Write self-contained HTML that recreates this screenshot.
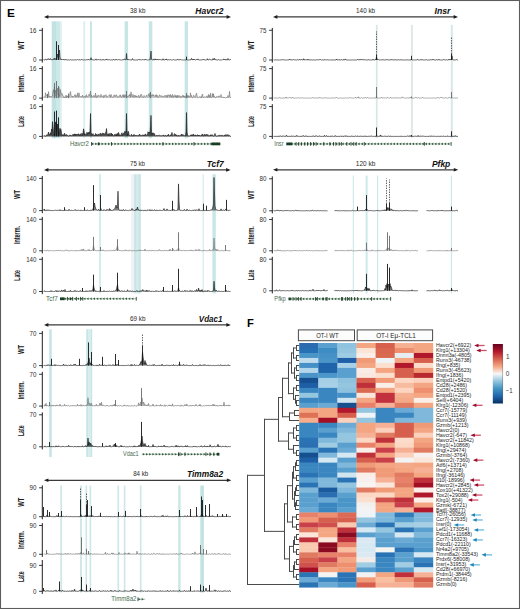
<!DOCTYPE html>
<html><head><meta charset="utf-8"><style>
html,body{margin:0;padding:0;background:#fff;}
body{width:520px;height:609px;overflow:hidden;font-family:"Liberation Sans", sans-serif;}
svg{display:block;}
</style></head><body>
<svg width="520" height="609" viewBox="0 0 520 609" font-family='"Liberation Sans", sans-serif'>
<rect x="0" y="0" width="520" height="609" fill="#fff"/>
<rect x="51.7" y="21.3" width="4.3" height="116.9" fill="#c2e2e2"/>
<rect x="56" y="21.3" width="4.6" height="116.9" fill="#cce8e8"/>
<rect x="60.6" y="21.3" width="1.2" height="116.9" fill="#dcefef"/>
<rect x="83.3" y="21.3" width="1.9" height="116.9" fill="#dcefef"/>
<rect x="90" y="21.3" width="1.9" height="116.9" fill="#c7e5e5"/>
<rect x="124.6" y="21.3" width="3.5" height="116.9" fill="#c7e5e5"/>
<rect x="148.8" y="21.3" width="3.5" height="116.9" fill="#c7e5e5"/>
<rect x="184.7" y="21.3" width="3.2" height="116.9" fill="#c7e5e5"/>
<line x1="46" y1="16.9" x2="229" y2="16.9" stroke="#3a3a3a" stroke-width="1.15"/>
<path d="M44 16.9L48.4 15.1L48.4 18.7Z" fill="#1e1e1e"/>
<path d="M231 16.9L226.6 15.1L226.6 18.7Z" fill="#1e1e1e"/>
<text x="130" y="12.9" font-size="6.9" fill="#2a2a2a" textLength="15.4" lengthAdjust="spacingAndGlyphs">38 kb</text>
<text x="195.3" y="13.7" font-size="8.4" font-weight="bold" font-style="italic" fill="#111" textLength="28.3" lengthAdjust="spacingAndGlyphs">Havcr2</text>
<line x1="42.3" y1="27.9" x2="42.3" y2="62.6" stroke="#1e1e1e" stroke-width="1.0"/>
<line x1="39.1" y1="30.3" x2="42.3" y2="30.3" stroke="#1e1e1e" stroke-width="0.9"/>
<line x1="39.1" y1="60" x2="42.3" y2="60" stroke="#1e1e1e" stroke-width="0.9"/>
<text x="29.6" y="32.6" font-size="6.6" fill="#2e2e2e" textLength="6.9" lengthAdjust="spacingAndGlyphs">16</text>
<text x="33.05" y="62.3" font-size="6.6" fill="#2e2e2e" textLength="3.45" lengthAdjust="spacingAndGlyphs">0</text>
<text x="-49.7" y="23.62" font-size="8.4" font-weight="bold" fill="#1a1a1a" textLength="9.1" lengthAdjust="spacingAndGlyphs" transform="rotate(-90)">WT</text>
<line x1="42.3" y1="66.2" x2="42.3" y2="100.7" stroke="#1e1e1e" stroke-width="1.0"/>
<line x1="39.1" y1="68.6" x2="42.3" y2="68.6" stroke="#1e1e1e" stroke-width="0.9"/>
<line x1="39.1" y1="98.1" x2="42.3" y2="98.1" stroke="#1e1e1e" stroke-width="0.9"/>
<text x="29.6" y="70.9" font-size="6.6" fill="#2e2e2e" textLength="6.9" lengthAdjust="spacingAndGlyphs">16</text>
<text x="33.05" y="100.4" font-size="6.6" fill="#2e2e2e" textLength="3.45" lengthAdjust="spacingAndGlyphs">0</text>
<text x="-92.35" y="23.62" font-size="8.4" font-weight="bold" fill="#1a1a1a" textLength="18" lengthAdjust="spacingAndGlyphs" transform="rotate(-90)">Interm.</text>
<line x1="42.3" y1="104.2" x2="42.3" y2="139" stroke="#1e1e1e" stroke-width="1.0"/>
<line x1="39.1" y1="106.6" x2="42.3" y2="106.6" stroke="#1e1e1e" stroke-width="0.9"/>
<line x1="39.1" y1="136.4" x2="42.3" y2="136.4" stroke="#1e1e1e" stroke-width="0.9"/>
<text x="29.6" y="108.9" font-size="6.6" fill="#2e2e2e" textLength="6.9" lengthAdjust="spacingAndGlyphs">16</text>
<text x="33.05" y="138.7" font-size="6.6" fill="#2e2e2e" textLength="3.45" lengthAdjust="spacingAndGlyphs">0</text>
<text x="-126.8" y="23.62" font-size="8.4" font-weight="bold" fill="#1a1a1a" textLength="10.6" lengthAdjust="spacingAndGlyphs" transform="rotate(-90)">Late</text>
<path d="M43.5 60L43.5 59.83L44 59.5L44.5 59.97L45 59.78L45.5 59.08L46 59.41L46.5 59.86L47 59.65L47.5 58.99L48 59.46L48.5 58.76L49 59L49.5 59.28L50 59.55L50.5 58.55L51 59.18L51.5 59.67L52 59.67L52.5 59.68L53 59.29L53.5 58.86L54 59.64L54.5 58.22L55 59.19L55.5 58.94L56 58.94L56.5 57.76L57 56.61L57.5 54L58 57.45L58.5 57.66L59 54.2L59.5 50L60 57.2L60.5 58.87L61 59.55L61.5 59.5L62 59.39L62.5 59.97L63 59.41L63.5 60L64 59.27L64.5 60L65 60L65.5 59.67L66 59.24L66.5 59.98L67 59.97L67.5 60L68 59.59L68.5 59.83L69 59.91L69.5 60L70 60L70.5 59.72L71 60L71.5 60L72 59.83L72.5 59.91L73 60L73.5 60L74 59.64L74.5 59.91L75 59.61L75.5 59.81L76 60L76.5 60L77 60L77.5 59.53L78 60L78.5 60L79 59.44L79.5 59.88L80 60L80.5 60L81 59.94L81.5 59.53L82 59.59L82.5 59.75L83 60L83.5 60L84 59.93L84.5 59.78L85 60L85.5 60L86 59.99L86.5 59.75L87 59.72L87.5 59.72L88 60L88.5 59.24L89 59.85L89.5 59.95L90 59.92L90.5 59.57L91 57.7L91.5 59.57L92 59.48L92.5 59.75L93 59.83L93.5 60L94 59.7L94.5 60L95 60L95.5 59.79L96 58.88L96.5 60L97 59.94L97.5 59.73L98 59.93L98.5 59.58L99 60L99.5 60L100 59.36L100.5 59.78L101 59.97L101.5 59.97L102 59.9L102.5 60L103 59.29L103.5 60L104 60L104.5 60L105 60L105.5 59.7L106 59.85L106.5 58.96L107 60L107.5 59.98L108 59.46L108.5 60L109 60L109.5 59.71L110 59.93L110.5 60L111 59.92L111.5 59.84L112 59.93L112.5 60L113 60L113.5 59.31L114 60L114.5 60L115 60L115.5 59.98L116 59.09L116.5 59.63L117 59.91L117.5 59.95L118 59.95L118.5 59.63L119 60L119.5 59.7L120 59.79L120.5 60L121 60L121.5 60L122 59.93L122.5 60L123 59.41L123.5 60L124 59.89L124.5 58.94L125 59.31L125.5 59.77L126 58.77L126.5 53.5L127 58.77L127.5 59.77L128 59.08L128.5 59.69L129 60L129.5 59.82L130 60L130.5 59.86L131 60L131.5 60L132 60L132.5 58.57L133 59.68L133.5 60L134 60L134.5 59.98L135 59.89L135.5 60L136 59.64L136.5 60L137 59.95L137.5 60L138 59.65L138.5 59.04L139 59.58L139.5 59.96L140 59.42L140.5 59.94L141 59.93L141.5 59.95L142 60L142.5 59.55L143 59.62L143.5 60L144 59.45L144.5 59.81L145 59.86L145.5 59.47L146 59.31L146.5 60L147 60L147.5 60L148 60L148.5 59.99L149 59.95L149.5 59.78L150 59.08L150.5 56.18L151 51L151.5 58.78L152 59.71L152.5 59.93L153 59.98L153.5 59.92L154 58.84L154.5 60L155 59.95L155.5 58.98L156 59.07L156.5 59.87L157 60L157.5 59.13L158 60L158.5 59.78L159 59.56L159.5 59.55L160 59.9L160.5 59.62L161 60L161.5 59.98L162 59.88L162.5 60L163 58.7L163.5 59.8L164 59.53L164.5 60L165 60L165.5 59.37L166 60L166.5 58.86L167 60L167.5 60L168 60L168.5 59.69L169 59.64L169.5 59.92L170 59.64L170.5 59.63L171 60L171.5 60L172 60L172.5 60L173 60L173.5 59.52L174 60L174.5 60L175 59.72L175.5 60L176 60L176.5 60L177 60L177.5 59.41L178 59.22L178.5 60L179 59.85L179.5 59.78L180 59.61L180.5 59.64L181 59.49L181.5 60L182 60L182.5 60L183 60L183.5 60L184 60L184.5 60L185 59.96L185.5 59.97L186 59.73L186.5 59.6L187 59.89L187.5 59.95L188 59.64L188.5 60L189 60L189.5 59.83L190 59.77L190.5 59.87L191 59.88L191.5 58.4L192 58.81L192.5 59.86L193 59.9L193.5 59L194 60L194.5 59.36L195 60L195.5 60L196 60L196.5 59.57L197 59.76L197.5 59.24L198 58.87L198.5 60L199 60L199.5 60L200 60L200.5 60L201 59.54L201.5 59.91L202 59.79L202.5 59.73L203 59.8L203.5 59.2L204 60L204.5 59.81L205 60L205.5 60L206 59.88L206.5 59.97L207 59.94L207.5 58.67L208 60L208.5 59.94L209 59.64L209.5 59.29L210 59.55L210.5 59.76L211 60L211.5 59.95L212 60L212.5 60L213 58.55L213.5 59.68L214 58.86L214.5 58.35L215 60L215.5 59.64L216 59.79L216.5 59.87L217 59.74L217.5 60L218 59.95L218.5 59.59L219 60L219.5 60L220 60L220.5 60L221 59.93L221.5 59.95L222 60L222.5 60L223 59.5L223.5 59.08L224 60L224.5 59.35L225 59.98L225.5 59.96L226 59.11L226.5 60L227 59.99L227.5 59.98L228 58.47L228.5 59.78L229 60L229.5 59.91L230 60L230.5 59.46L231 60L231 60Z" fill="#151515" fill-opacity="0.4"/>
<path d="M43.5 59.83L44 59.5L44.5 59.97L45 59.78L45.5 59.08L46 59.41L46.5 59.86L47 59.65L47.5 58.99L48 59.46L48.5 58.76L49 59L49.5 59.28L50 59.55L50.5 58.55L51 59.18L51.5 59.67L52 59.67L52.5 59.68L53 59.29L53.5 58.86L54 59.64L54.5 58.22L55 59.19L55.5 58.94L56 58.94L56.5 57.76L57 56.61L57.5 54L58 57.45L58.5 57.66L59 54.2L59.5 50L60 57.2L60.5 58.87L61 59.55L61.5 59.5L62 59.39L62.5 59.97L63 59.41L63.5 60L64 59.27L64.5 60L65 60L65.5 59.67L66 59.24L66.5 59.98L67 59.97L67.5 60L68 59.59L68.5 59.83L69 59.91L69.5 60L70 60L70.5 59.72L71 60L71.5 60L72 59.83L72.5 59.91L73 60L73.5 60L74 59.64L74.5 59.91L75 59.61L75.5 59.81L76 60L76.5 60L77 60L77.5 59.53L78 60L78.5 60L79 59.44L79.5 59.88L80 60L80.5 60L81 59.94L81.5 59.53L82 59.59L82.5 59.75L83 60L83.5 60L84 59.93L84.5 59.78L85 60L85.5 60L86 59.99L86.5 59.75L87 59.72L87.5 59.72L88 60L88.5 59.24L89 59.85L89.5 59.95L90 59.92L90.5 59.57L91 57.7L91.5 59.57L92 59.48L92.5 59.75L93 59.83L93.5 60L94 59.7L94.5 60L95 60L95.5 59.79L96 58.88L96.5 60L97 59.94L97.5 59.73L98 59.93L98.5 59.58L99 60L99.5 60L100 59.36L100.5 59.78L101 59.97L101.5 59.97L102 59.9L102.5 60L103 59.29L103.5 60L104 60L104.5 60L105 60L105.5 59.7L106 59.85L106.5 58.96L107 60L107.5 59.98L108 59.46L108.5 60L109 60L109.5 59.71L110 59.93L110.5 60L111 59.92L111.5 59.84L112 59.93L112.5 60L113 60L113.5 59.31L114 60L114.5 60L115 60L115.5 59.98L116 59.09L116.5 59.63L117 59.91L117.5 59.95L118 59.95L118.5 59.63L119 60L119.5 59.7L120 59.79L120.5 60L121 60L121.5 60L122 59.93L122.5 60L123 59.41L123.5 60L124 59.89L124.5 58.94L125 59.31L125.5 59.77L126 58.77L126.5 53.5L127 58.77L127.5 59.77L128 59.08L128.5 59.69L129 60L129.5 59.82L130 60L130.5 59.86L131 60L131.5 60L132 60L132.5 58.57L133 59.68L133.5 60L134 60L134.5 59.98L135 59.89L135.5 60L136 59.64L136.5 60L137 59.95L137.5 60L138 59.65L138.5 59.04L139 59.58L139.5 59.96L140 59.42L140.5 59.94L141 59.93L141.5 59.95L142 60L142.5 59.55L143 59.62L143.5 60L144 59.45L144.5 59.81L145 59.86L145.5 59.47L146 59.31L146.5 60L147 60L147.5 60L148 60L148.5 59.99L149 59.95L149.5 59.78L150 59.08L150.5 56.18L151 51L151.5 58.78L152 59.71L152.5 59.93L153 59.98L153.5 59.92L154 58.84L154.5 60L155 59.95L155.5 58.98L156 59.07L156.5 59.87L157 60L157.5 59.13L158 60L158.5 59.78L159 59.56L159.5 59.55L160 59.9L160.5 59.62L161 60L161.5 59.98L162 59.88L162.5 60L163 58.7L163.5 59.8L164 59.53L164.5 60L165 60L165.5 59.37L166 60L166.5 58.86L167 60L167.5 60L168 60L168.5 59.69L169 59.64L169.5 59.92L170 59.64L170.5 59.63L171 60L171.5 60L172 60L172.5 60L173 60L173.5 59.52L174 60L174.5 60L175 59.72L175.5 60L176 60L176.5 60L177 60L177.5 59.41L178 59.22L178.5 60L179 59.85L179.5 59.78L180 59.61L180.5 59.64L181 59.49L181.5 60L182 60L182.5 60L183 60L183.5 60L184 60L184.5 60L185 59.96L185.5 59.97L186 59.73L186.5 59.6L187 59.89L187.5 59.95L188 59.64L188.5 60L189 60L189.5 59.83L190 59.77L190.5 59.87L191 59.88L191.5 58.4L192 58.81L192.5 59.86L193 59.9L193.5 59L194 60L194.5 59.36L195 60L195.5 60L196 60L196.5 59.57L197 59.76L197.5 59.24L198 58.87L198.5 60L199 60L199.5 60L200 60L200.5 60L201 59.54L201.5 59.91L202 59.79L202.5 59.73L203 59.8L203.5 59.2L204 60L204.5 59.81L205 60L205.5 60L206 59.88L206.5 59.97L207 59.94L207.5 58.67L208 60L208.5 59.94L209 59.64L209.5 59.29L210 59.55L210.5 59.76L211 60L211.5 59.95L212 60L212.5 60L213 58.55L213.5 59.68L214 58.86L214.5 58.35L215 60L215.5 59.64L216 59.79L216.5 59.87L217 59.74L217.5 60L218 59.95L218.5 59.59L219 60L219.5 60L220 60L220.5 60L221 59.93L221.5 59.95L222 60L222.5 60L223 59.5L223.5 59.08L224 60L224.5 59.35L225 59.98L225.5 59.96L226 59.11L226.5 60L227 59.99L227.5 59.98L228 58.47L228.5 59.78L229 60L229.5 59.91L230 60L230.5 59.46L231 60" fill="none" stroke="#151515" stroke-width="0.62" stroke-linejoin="round"/>
<path d="M56.5 60V41.3M58.5 60V45M186.5 60V56.7" stroke="#151515" stroke-width="0.9"/>
<path d="M43.5 98.1L43.5 97.02L44 97.16L44.5 96.79L45 97.39L45.5 92.78L46 94.97L46.5 95.18L47 95.8L47.5 94.13L48 97.33L48.5 91.62L49 95.65L49.5 97.03L50 96.05L50.5 96.75L51 96.47L51.5 96.5L52 95.77L52.5 95.48L53 91.83L53.5 89.71L54 92.66L54.5 86.02L55 96.27L55.5 90.29L56 92.37L56.5 90.86L57 91L57.5 88.23L58 94.91L58.5 95.26L59 87.43L59.5 96.55L60 94.92L60.5 89.5L61 93.43L61.5 94.38L62 93.31L62.5 95.71L63 95.43L63.5 96.35L64 97.86L64.5 96.98L65 96.84L65.5 97.63L66 94.98L66.5 97.58L67 95.94L67.5 96.95L68 95.7L68.5 97.69L69 97.31L69.5 96.8L70 92.79L70.5 91.48L71 95.28L71.5 95.76L72 96.79L72.5 95.93L73 97.25L73.5 96.45L74 96.52L74.5 96.05L75 94.54L75.5 96.8L76 95.31L76.5 96.65L77 96.75L77.5 92.9L78 96.14L78.5 97.1L79 92.77L79.5 96.35L80 96.57L80.5 96.56L81 97.13L81.5 96.38L82 97.02L82.5 95.05L83 97.1L83.5 97.15L84 97.11L84.5 95.97L85 96.48L85.5 97.42L86 95.05L86.5 94.68L87 97.12L87.5 96.4L88 96.88L88.5 95.75L89 94.27L89.5 95.59L90 94.03L90.5 91L91 96.98L91.5 95.02L92 97.06L92.5 97.18L93 96.99L93.5 95.76L94 95.32L94.5 97.12L95 96.96L95.5 93.03L96 97.24L96.5 97.71L97 95.56L97.5 96.96L98 95.8L98.5 94.9L99 95.4L99.5 96.18L100 97.03L100.5 96.52L101 94.28L101.5 96.99L102 96.42L102.5 96.21L103 96.33L103.5 97.65L104 94.98L104.5 96.66L105 96.38L105.5 95.84L106 94.59L106.5 97.2L107 96.54L107.5 96.67L108 96.44L108.5 95.86L109 95.09L109.5 94.84L110 94.99L110.5 97.48L111 94.45L111.5 95.55L112 97.01L112.5 97.62L113 96.64L113.5 96.78L114 94.79L114.5 95.14L115 96.81L115.5 96.4L116 94.63L116.5 94.98L117 96.74L117.5 96.71L118 97.48L118.5 96.3L119 95.8L119.5 95.59L120 96.7L120.5 94.75L121 96.66L121.5 97.63L122 96L122.5 96L123 94.69L123.5 97.26L124 94.5L124.5 97.19L125 95.45L125.5 96.22L126 94.71L126.5 95.7L127 96.3L127.5 96.29L128 97.13L128.5 96.24L129 95.02L129.5 95.61L130 93.92L130.5 97.38L131 91.88L131.5 94.69L132 96.34L132.5 97L133 94.33L133.5 96.55L134 97.57L134.5 95.55L135 95.02L135.5 96.93L136 95.63L136.5 97.11L137 96.3L137.5 97.23L138 96.45L138.5 95.27L139 96.76L139.5 97.67L140 95.63L140.5 96.44L141 93.99L141.5 95.01L142 95.79L142.5 97.36L143 96.98L143.5 97.51L144 95.49L144.5 96.07L145 96.38L145.5 97.4L146 96.69L146.5 95.16L147 95.5L147.5 96.08L148 95.71L148.5 93.77L149 94.53L149.5 96.79L150 92.8L150.5 96.33L151 95.51L151.5 96.18L152 94.58L152.5 94.84L153 96.05L153.5 94.61L154 95.79L154.5 96.19L155 95.55L155.5 95.12L156 96.97L156.5 94.58L157 96.24L157.5 95.62L158 97.6L158.5 96.81L159 96.36L159.5 94.75L160 96.44L160.5 96.23L161 95.44L161.5 96.65L162 97.08L162.5 96L163 95.88L163.5 96.91L164 97.18L164.5 97.11L165 95.04L165.5 96.26L166 97.38L166.5 97L167 94.8L167.5 97.33L168 95.12L168.5 95.11L169 94.64L169.5 94.97L170 97.27L170.5 94.53L171 95.22L171.5 97.36L172 95.41L172.5 94.43L173 97.56L173.5 95.76L174 96.62L174.5 96.33L175 94.76L175.5 97.11L176 95.76L176.5 97.51L177 95.31L177.5 97.7L178 95.17L178.5 96.49L179 96.68L179.5 95.64L180 97.62L180.5 97.55L181 95.94L181.5 96.77L182 96.29L182.5 95.38L183 97.19L183.5 95.47L184 97.07L184.5 95.88L185 97.69L185.5 97.67L186 95.75L186.5 95.25L187 95.19L187.5 97.3L188 95.19L188.5 97.37L189 96.26L189.5 96.98L190 97.28L190.5 92.85L191 96.72L191.5 95.46L192 97.41L192.5 97.69L193 97.66L193.5 95.4L194 95.48L194.5 96.55L195 97.41L195.5 96.44L196 94.46L196.5 93.19L197 95.27L197.5 97.66L198 97.79L198.5 97.37L199 96.81L199.5 96.68L200 97.46L200.5 97.54L201 96.4L201.5 97.62L202 94.78L202.5 94L203 97.49L203.5 97.31L204 97.36L204.5 96.66L205 97.14L205.5 97.04L206 97.5L206.5 97.2L207 95.81L207.5 97.7L208 96.84L208.5 94.33L209 97.4L209.5 95.3L210 97.67L210.5 93.12L211 96.6L211.5 97.42L212 97.05L212.5 93.52L213 97.02L213.5 93.72L214 97.21L214.5 96.28L215 97.43L215.5 97.86L216 96.89L216.5 96.64L217 96.86L217.5 96.44L218 96.76L218.5 96.99L219 95.75L219.5 96.64L220 96.47L220.5 96.56L221 94.52L221.5 96.36L222 97.88L222.5 97.57L223 96.91L223.5 97.09L224 97.7L224.5 97.06L225 97.83L225.5 97.92L226 97.82L226.5 97.23L227 97.8L227.5 96.67L228 95.43L228.5 97.43L229 96.81L229.5 91.28L230 96.92L230.5 97.51L231 96.89L231 98.1Z" fill="#6a6a6a" fill-opacity="0.35"/>
<path d="M43.5 97.02L44 97.16L44.5 96.79L45 97.39L45.5 92.78L46 94.97L46.5 95.18L47 95.8L47.5 94.13L48 97.33L48.5 91.62L49 95.65L49.5 97.03L50 96.05L50.5 96.75L51 96.47L51.5 96.5L52 95.77L52.5 95.48L53 91.83L53.5 89.71L54 92.66L54.5 86.02L55 96.27L55.5 90.29L56 92.37L56.5 90.86L57 91L57.5 88.23L58 94.91L58.5 95.26L59 87.43L59.5 96.55L60 94.92L60.5 89.5L61 93.43L61.5 94.38L62 93.31L62.5 95.71L63 95.43L63.5 96.35L64 97.86L64.5 96.98L65 96.84L65.5 97.63L66 94.98L66.5 97.58L67 95.94L67.5 96.95L68 95.7L68.5 97.69L69 97.31L69.5 96.8L70 92.79L70.5 91.48L71 95.28L71.5 95.76L72 96.79L72.5 95.93L73 97.25L73.5 96.45L74 96.52L74.5 96.05L75 94.54L75.5 96.8L76 95.31L76.5 96.65L77 96.75L77.5 92.9L78 96.14L78.5 97.1L79 92.77L79.5 96.35L80 96.57L80.5 96.56L81 97.13L81.5 96.38L82 97.02L82.5 95.05L83 97.1L83.5 97.15L84 97.11L84.5 95.97L85 96.48L85.5 97.42L86 95.05L86.5 94.68L87 97.12L87.5 96.4L88 96.88L88.5 95.75L89 94.27L89.5 95.59L90 94.03L90.5 91L91 96.98L91.5 95.02L92 97.06L92.5 97.18L93 96.99L93.5 95.76L94 95.32L94.5 97.12L95 96.96L95.5 93.03L96 97.24L96.5 97.71L97 95.56L97.5 96.96L98 95.8L98.5 94.9L99 95.4L99.5 96.18L100 97.03L100.5 96.52L101 94.28L101.5 96.99L102 96.42L102.5 96.21L103 96.33L103.5 97.65L104 94.98L104.5 96.66L105 96.38L105.5 95.84L106 94.59L106.5 97.2L107 96.54L107.5 96.67L108 96.44L108.5 95.86L109 95.09L109.5 94.84L110 94.99L110.5 97.48L111 94.45L111.5 95.55L112 97.01L112.5 97.62L113 96.64L113.5 96.78L114 94.79L114.5 95.14L115 96.81L115.5 96.4L116 94.63L116.5 94.98L117 96.74L117.5 96.71L118 97.48L118.5 96.3L119 95.8L119.5 95.59L120 96.7L120.5 94.75L121 96.66L121.5 97.63L122 96L122.5 96L123 94.69L123.5 97.26L124 94.5L124.5 97.19L125 95.45L125.5 96.22L126 94.71L126.5 95.7L127 96.3L127.5 96.29L128 97.13L128.5 96.24L129 95.02L129.5 95.61L130 93.92L130.5 97.38L131 91.88L131.5 94.69L132 96.34L132.5 97L133 94.33L133.5 96.55L134 97.57L134.5 95.55L135 95.02L135.5 96.93L136 95.63L136.5 97.11L137 96.3L137.5 97.23L138 96.45L138.5 95.27L139 96.76L139.5 97.67L140 95.63L140.5 96.44L141 93.99L141.5 95.01L142 95.79L142.5 97.36L143 96.98L143.5 97.51L144 95.49L144.5 96.07L145 96.38L145.5 97.4L146 96.69L146.5 95.16L147 95.5L147.5 96.08L148 95.71L148.5 93.77L149 94.53L149.5 96.79L150 92.8L150.5 96.33L151 95.51L151.5 96.18L152 94.58L152.5 94.84L153 96.05L153.5 94.61L154 95.79L154.5 96.19L155 95.55L155.5 95.12L156 96.97L156.5 94.58L157 96.24L157.5 95.62L158 97.6L158.5 96.81L159 96.36L159.5 94.75L160 96.44L160.5 96.23L161 95.44L161.5 96.65L162 97.08L162.5 96L163 95.88L163.5 96.91L164 97.18L164.5 97.11L165 95.04L165.5 96.26L166 97.38L166.5 97L167 94.8L167.5 97.33L168 95.12L168.5 95.11L169 94.64L169.5 94.97L170 97.27L170.5 94.53L171 95.22L171.5 97.36L172 95.41L172.5 94.43L173 97.56L173.5 95.76L174 96.62L174.5 96.33L175 94.76L175.5 97.11L176 95.76L176.5 97.51L177 95.31L177.5 97.7L178 95.17L178.5 96.49L179 96.68L179.5 95.64L180 97.62L180.5 97.55L181 95.94L181.5 96.77L182 96.29L182.5 95.38L183 97.19L183.5 95.47L184 97.07L184.5 95.88L185 97.69L185.5 97.67L186 95.75L186.5 95.25L187 95.19L187.5 97.3L188 95.19L188.5 97.37L189 96.26L189.5 96.98L190 97.28L190.5 92.85L191 96.72L191.5 95.46L192 97.41L192.5 97.69L193 97.66L193.5 95.4L194 95.48L194.5 96.55L195 97.41L195.5 96.44L196 94.46L196.5 93.19L197 95.27L197.5 97.66L198 97.79L198.5 97.37L199 96.81L199.5 96.68L200 97.46L200.5 97.54L201 96.4L201.5 97.62L202 94.78L202.5 94L203 97.49L203.5 97.31L204 97.36L204.5 96.66L205 97.14L205.5 97.04L206 97.5L206.5 97.2L207 95.81L207.5 97.7L208 96.84L208.5 94.33L209 97.4L209.5 95.3L210 97.67L210.5 93.12L211 96.6L211.5 97.42L212 97.05L212.5 93.52L213 97.02L213.5 93.72L214 97.21L214.5 96.28L215 97.43L215.5 97.86L216 96.89L216.5 96.64L217 96.86L217.5 96.44L218 96.76L218.5 96.99L219 95.75L219.5 96.64L220 96.47L220.5 96.56L221 94.52L221.5 96.36L222 97.88L222.5 97.57L223 96.91L223.5 97.09L224 97.7L224.5 97.06L225 97.83L225.5 97.92L226 97.82L226.5 97.23L227 97.8L227.5 96.67L228 95.43L228.5 97.43L229 96.81L229.5 91.28L230 96.92L230.5 97.51L231 96.89" fill="none" stroke="#6a6a6a" stroke-width="0.55" stroke-linejoin="round"/>
<path d="M54.5 98.1V83M56.5 98.1V81M58.5 98.1V86M126.5 98.1V91M150.5 98.1V92M186.5 98.1V93M68.5 98.1V93.5M47.5 98.1V94" stroke="#6a6a6a" stroke-width="0.9"/>
<path d="M43.5 136.4L43.5 135.63L44 136.18L44.5 135.56L45 136.22L45.5 136.24L46 136.11L46.5 134.89L47 135.14L47.5 135.24L48 134.14L48.5 132L49 133.93L49.5 134.56L50 134.95L50.5 132.73L51 134.31L51.5 129.15L52 131.29L52.5 121.61L53 126.59L53.5 133.47L54 134.46L54.5 133.41L55 133.12L55.5 121.86L56 129.32L56.5 121.94L57 129.32L57.5 124.07L58 130.8L58.5 132.83L59 133.68L59.5 130.24L60 128.22L60.5 130.52L61 129.54L61.5 133.93L62 135.21L62.5 135.91L63 134.26L63.5 135.68L64 135.61L64.5 133.25L65 134.21L65.5 135.54L66 135.07L66.5 134.48L67 135.71L67.5 135.35L68 135.82L68.5 136.02L69 135.83L69.5 135.17L70 134.91L70.5 135.11L71 135.87L71.5 135.63L72 135.87L72.5 135.31L73 134.22L73.5 135.44L74 134.12L74.5 133.95L75 135.77L75.5 133.91L76 135.19L76.5 134.16L77 134.83L77.5 134.5L78 133.82L78.5 134.15L79 133.89L79.5 135.97L80 135.09L80.5 133.74L81 135.32L81.5 135.69L82 133.08L82.5 135.45L83 133.6L83.5 128.8L84 130.33L84.5 134.84L85 133.76L85.5 134.33L86 134.8L86.5 134.97L87 132.07L87.5 134.73L88 132.9L88.5 132.78L89 132L89.5 133.73L90 130.36L90.5 113.5L91 132.59L91.5 133.51L92 135.5L92.5 134.13L93 133.56L93.5 135.36L94 135.71L94.5 135.12L95 135.93L95.5 133.52L96 135.16L96.5 134.24L97 135.14L97.5 135.96L98 133.88L98.5 134.51L99 135.18L99.5 135.07L100 133.57L100.5 133.06L101 134.61L101.5 134.94L102 133.38L102.5 133.33L103 133.13L103.5 133.64L104 133.29L104.5 134.4L105 134.52L105.5 132.45L106 131.98L106.5 128.5L107 133.9L107.5 134.18L108 135.69L108.5 133.67L109 135.98L109.5 134.77L110 133.09L110.5 135.33L111 135.49L111.5 133.07L112 135.53L112.5 134.03L113 135.91L113.5 135.76L114 135.92L114.5 134.39L115 135.26L115.5 135.93L116 133.8L116.5 135.78L117 133.76L117.5 133.51L118 135.92L118.5 132.49L119 133.64L119.5 135.85L120 135.26L120.5 135.97L121 134.64L121.5 133.41L122 132.74L122.5 135.5L123 134.53L123.5 133.29L124 133.95L124.5 131.51L125 132.07L125.5 131.65L126 132.07L126.5 113.5L127 132.07L127.5 135.58L128 131.19L128.5 131.71L129 134.7L129.5 135.24L130 135.4L130.5 135.9L131 135.64L131.5 134.22L132 136.01L132.5 136.12L133 135.21L133.5 136.12L134 134.32L134.5 135.69L135 135.51L135.5 135.5L136 135.05L136.5 135.48L137 135.47L137.5 135.61L138 135.85L138.5 135.75L139 134.55L139.5 134.59L140 134.51L140.5 135.68L141 135.52L141.5 135.43L142 135.77L142.5 135.02L143 134.74L143.5 135.31L144 134.96L144.5 135.6L145 134.27L145.5 133.99L146 134.82L146.5 135.27L147 135.54L147.5 135.11L148 131.72L148.5 132.98L149 133.4L149.5 132.06L150 133.12L150.5 126.48L151 115.4L151.5 131.68L152 135.09L152.5 132.99L153 132.88L153.5 132.95L154 134.1L154.5 133.8L155 135.33L155.5 136.15L156 135.55L156.5 135.43L157 135.78L157.5 135.56L158 135.42L158.5 135.45L159 135.49L159.5 135.25L160 135.72L160.5 135.65L161 135.42L161.5 135.71L162 136.15L162.5 135.5L163 136.02L163.5 134.86L164 135.99L164.5 135.98L165 135.72L165.5 134.98L166 136.16L166.5 136L167 136.03L167.5 134.93L168 135.62L168.5 134.17L169 135.88L169.5 136.09L170 135.33L170.5 135.36L171 134.49L171.5 134.86L172 132.38L172.5 135.79L173 136.13L173.5 135.64L174 134.51L174.5 133.57L175 134.38L175.5 134.46L176 135.84L176.5 134.79L177 136.1L177.5 136.06L178 135.34L178.5 136.11L179 135.21L179.5 136.09L180 135.66L180.5 135.24L181 135.79L181.5 134.01L182 134.83L182.5 135.17L183 134.45L183.5 135.62L184 135.95L184.5 135.6L185 136.1L185.5 135.1L186 131.89L186.5 112.5L187 131.89L187.5 134.74L188 136.09L188.5 135.91L189 135.97L189.5 136.03L190 135.46L190.5 135.12L191 136.01L191.5 134.8L192 134.98L192.5 135.6L193 134.1L193.5 134.3L194 135.86L194.5 135.33L195 134.97L195.5 135.1L196 135.09L196.5 135.65L197 135.45L197.5 134.67L198 135.85L198.5 135.07L199 135.91L199.5 134.96L200 135.88L200.5 136.04L201 135.26L201.5 134.95L202 135.22L202.5 134.02L203 134.81L203.5 136.1L204 135.88L204.5 134.15L205 135.6L205.5 134.77L206 134.4L206.5 134.48L207 134.8L207.5 134.92L208 134.43L208.5 135.92L209 135.9L209.5 136.02L210 135.05L210.5 135.09L211 134.95L211.5 135.65L212 134.54L212.5 135.32L213 136.04L213.5 136.03L214 135.67L214.5 135.12L215 133.48L215.5 135.45L216 136.06L216.5 136.05L217 135.69L217.5 136.17L218 135.31L218.5 135.66L219 135.58L219.5 135.3L220 136.21L220.5 135.31L221 135.68L221.5 135.26L222 136.2L222.5 135.19L223 135.78L223.5 136.01L224 135.4L224.5 135.11L225 136.2L225.5 135.2L226 134.4L226.5 136.07L227 135.46L227.5 135.25L228 134.45L228.5 135.98L229 135.82L229.5 135.4L230 136.28L230.5 136.29L231 136.11L231 136.4Z" fill="#151515" fill-opacity="0.75"/>
<path d="M43.5 135.63L44 136.18L44.5 135.56L45 136.22L45.5 136.24L46 136.11L46.5 134.89L47 135.14L47.5 135.24L48 134.14L48.5 132L49 133.93L49.5 134.56L50 134.95L50.5 132.73L51 134.31L51.5 129.15L52 131.29L52.5 121.61L53 126.59L53.5 133.47L54 134.46L54.5 133.41L55 133.12L55.5 121.86L56 129.32L56.5 121.94L57 129.32L57.5 124.07L58 130.8L58.5 132.83L59 133.68L59.5 130.24L60 128.22L60.5 130.52L61 129.54L61.5 133.93L62 135.21L62.5 135.91L63 134.26L63.5 135.68L64 135.61L64.5 133.25L65 134.21L65.5 135.54L66 135.07L66.5 134.48L67 135.71L67.5 135.35L68 135.82L68.5 136.02L69 135.83L69.5 135.17L70 134.91L70.5 135.11L71 135.87L71.5 135.63L72 135.87L72.5 135.31L73 134.22L73.5 135.44L74 134.12L74.5 133.95L75 135.77L75.5 133.91L76 135.19L76.5 134.16L77 134.83L77.5 134.5L78 133.82L78.5 134.15L79 133.89L79.5 135.97L80 135.09L80.5 133.74L81 135.32L81.5 135.69L82 133.08L82.5 135.45L83 133.6L83.5 128.8L84 130.33L84.5 134.84L85 133.76L85.5 134.33L86 134.8L86.5 134.97L87 132.07L87.5 134.73L88 132.9L88.5 132.78L89 132L89.5 133.73L90 130.36L90.5 113.5L91 132.59L91.5 133.51L92 135.5L92.5 134.13L93 133.56L93.5 135.36L94 135.71L94.5 135.12L95 135.93L95.5 133.52L96 135.16L96.5 134.24L97 135.14L97.5 135.96L98 133.88L98.5 134.51L99 135.18L99.5 135.07L100 133.57L100.5 133.06L101 134.61L101.5 134.94L102 133.38L102.5 133.33L103 133.13L103.5 133.64L104 133.29L104.5 134.4L105 134.52L105.5 132.45L106 131.98L106.5 128.5L107 133.9L107.5 134.18L108 135.69L108.5 133.67L109 135.98L109.5 134.77L110 133.09L110.5 135.33L111 135.49L111.5 133.07L112 135.53L112.5 134.03L113 135.91L113.5 135.76L114 135.92L114.5 134.39L115 135.26L115.5 135.93L116 133.8L116.5 135.78L117 133.76L117.5 133.51L118 135.92L118.5 132.49L119 133.64L119.5 135.85L120 135.26L120.5 135.97L121 134.64L121.5 133.41L122 132.74L122.5 135.5L123 134.53L123.5 133.29L124 133.95L124.5 131.51L125 132.07L125.5 131.65L126 132.07L126.5 113.5L127 132.07L127.5 135.58L128 131.19L128.5 131.71L129 134.7L129.5 135.24L130 135.4L130.5 135.9L131 135.64L131.5 134.22L132 136.01L132.5 136.12L133 135.21L133.5 136.12L134 134.32L134.5 135.69L135 135.51L135.5 135.5L136 135.05L136.5 135.48L137 135.47L137.5 135.61L138 135.85L138.5 135.75L139 134.55L139.5 134.59L140 134.51L140.5 135.68L141 135.52L141.5 135.43L142 135.77L142.5 135.02L143 134.74L143.5 135.31L144 134.96L144.5 135.6L145 134.27L145.5 133.99L146 134.82L146.5 135.27L147 135.54L147.5 135.11L148 131.72L148.5 132.98L149 133.4L149.5 132.06L150 133.12L150.5 126.48L151 115.4L151.5 131.68L152 135.09L152.5 132.99L153 132.88L153.5 132.95L154 134.1L154.5 133.8L155 135.33L155.5 136.15L156 135.55L156.5 135.43L157 135.78L157.5 135.56L158 135.42L158.5 135.45L159 135.49L159.5 135.25L160 135.72L160.5 135.65L161 135.42L161.5 135.71L162 136.15L162.5 135.5L163 136.02L163.5 134.86L164 135.99L164.5 135.98L165 135.72L165.5 134.98L166 136.16L166.5 136L167 136.03L167.5 134.93L168 135.62L168.5 134.17L169 135.88L169.5 136.09L170 135.33L170.5 135.36L171 134.49L171.5 134.86L172 132.38L172.5 135.79L173 136.13L173.5 135.64L174 134.51L174.5 133.57L175 134.38L175.5 134.46L176 135.84L176.5 134.79L177 136.1L177.5 136.06L178 135.34L178.5 136.11L179 135.21L179.5 136.09L180 135.66L180.5 135.24L181 135.79L181.5 134.01L182 134.83L182.5 135.17L183 134.45L183.5 135.62L184 135.95L184.5 135.6L185 136.1L185.5 135.1L186 131.89L186.5 112.5L187 131.89L187.5 134.74L188 136.09L188.5 135.91L189 135.97L189.5 136.03L190 135.46L190.5 135.12L191 136.01L191.5 134.8L192 134.98L192.5 135.6L193 134.1L193.5 134.3L194 135.86L194.5 135.33L195 134.97L195.5 135.1L196 135.09L196.5 135.65L197 135.45L197.5 134.67L198 135.85L198.5 135.07L199 135.91L199.5 134.96L200 135.88L200.5 136.04L201 135.26L201.5 134.95L202 135.22L202.5 134.02L203 134.81L203.5 136.1L204 135.88L204.5 134.15L205 135.6L205.5 134.77L206 134.4L206.5 134.48L207 134.8L207.5 134.92L208 134.43L208.5 135.92L209 135.9L209.5 136.02L210 135.05L210.5 135.09L211 134.95L211.5 135.65L212 134.54L212.5 135.32L213 136.04L213.5 136.03L214 135.67L214.5 135.12L215 133.48L215.5 135.45L216 136.06L216.5 136.05L217 135.69L217.5 136.17L218 135.31L218.5 135.66L219 135.58L219.5 135.3L220 136.21L220.5 135.31L221 135.68L221.5 135.26L222 136.2L222.5 135.19L223 135.78L223.5 136.01L224 135.4L224.5 135.11L225 136.2L225.5 135.2L226 134.4L226.5 136.07L227 135.46L227.5 135.25L228 134.45L228.5 135.98L229 135.82L229.5 135.4L230 136.28L230.5 136.29L231 136.11" fill="none" stroke="#151515" stroke-width="0.62" stroke-linejoin="round"/>
<path d="M54.5 136.4V111.5M56.5 136.4V110.6M58.5 136.4V117.3" stroke="#151515" stroke-width="0.9"/>
<text x="70" y="146.1" font-size="6.3" fill="#4a6a50" textLength="18.9" lengthAdjust="spacingAndGlyphs">Havcr2</text>
<line x1="91" y1="143.9" x2="220.3" y2="143.9" stroke="#7fa888" stroke-width="0.7"/>
<path d="M92 142.6L94 143.9L92 145.2ZM95.2 142.6L97.2 143.9L95.2 145.2ZM98.4 142.6L100.4 143.9L98.4 145.2ZM101.6 142.6L103.6 143.9L101.6 145.2ZM104.8 142.6L106.8 143.9L104.8 145.2ZM108 142.6L110 143.9L108 145.2ZM111.2 142.6L113.2 143.9L111.2 145.2ZM114.4 142.6L116.4 143.9L114.4 145.2ZM117.6 142.6L119.6 143.9L117.6 145.2ZM120.8 142.6L122.8 143.9L120.8 145.2ZM124 142.6L126 143.9L124 145.2ZM127.2 142.6L129.2 143.9L127.2 145.2ZM130.4 142.6L132.4 143.9L130.4 145.2ZM133.6 142.6L135.6 143.9L133.6 145.2ZM136.8 142.6L138.8 143.9L136.8 145.2ZM140 142.6L142 143.9L140 145.2ZM143.2 142.6L145.2 143.9L143.2 145.2ZM146.4 142.6L148.4 143.9L146.4 145.2ZM149.6 142.6L151.6 143.9L149.6 145.2ZM152.8 142.6L154.8 143.9L152.8 145.2ZM156 142.6L158 143.9L156 145.2ZM159.2 142.6L161.2 143.9L159.2 145.2ZM162.4 142.6L164.4 143.9L162.4 145.2ZM165.6 142.6L167.6 143.9L165.6 145.2ZM168.8 142.6L170.8 143.9L168.8 145.2ZM172 142.6L174 143.9L172 145.2ZM175.2 142.6L177.2 143.9L175.2 145.2ZM178.4 142.6L180.4 143.9L178.4 145.2ZM181.6 142.6L183.6 143.9L181.6 145.2ZM184.8 142.6L186.8 143.9L184.8 145.2ZM188 142.6L190 143.9L188 145.2ZM191.2 142.6L193.2 143.9L191.2 145.2ZM194.4 142.6L196.4 143.9L194.4 145.2ZM197.6 142.6L199.6 143.9L197.6 145.2ZM200.8 142.6L202.8 143.9L200.8 145.2ZM204 142.6L206 143.9L204 145.2ZM207.2 142.6L209.2 143.9L207.2 145.2ZM210.4 142.6L212.4 143.9L210.4 145.2ZM213.6 142.6L215.6 143.9L213.6 145.2ZM216.8 142.6L218.8 143.9L216.8 145.2Z" fill="#34553d"/>
<rect x="91.1" y="142" width="0.8" height="3.8" fill="#1d3a24"/>
<rect x="111.1" y="142" width="0.8" height="3.8" fill="#1d3a24"/>
<rect x="162.6" y="142" width="0.8" height="3.8" fill="#1d3a24"/>
<rect x="193.6" y="142" width="0.8" height="3.8" fill="#1d3a24"/>
<rect x="97.8" y="142.5" width="1.7" height="2.8" fill="#173d22"/>
<rect x="211.3" y="142.5" width="9" height="2.8" fill="#173d22"/>
<rect x="375.9" y="24.8" width="1.7" height="113.4" fill="#d6e8e8"/>
<rect x="410.9" y="24.8" width="2" height="113.4" fill="#dde9e9"/>
<rect x="450.8" y="24.8" width="2" height="113.4" fill="#d6e8e8"/>
<line x1="275" y1="16.9" x2="456" y2="16.9" stroke="#3a3a3a" stroke-width="1.15"/>
<path d="M273 16.9L277.4 15.1L277.4 18.7Z" fill="#1e1e1e"/>
<path d="M458 16.9L453.6 15.1L453.6 18.7Z" fill="#1e1e1e"/>
<text x="356.1" y="12.9" font-size="6.9" fill="#2a2a2a" textLength="19" lengthAdjust="spacingAndGlyphs">140 kb</text>
<text x="434.5" y="13.7" font-size="8.4" font-weight="bold" font-style="italic" fill="#111" textLength="16" lengthAdjust="spacingAndGlyphs">Insr</text>
<line x1="272.3" y1="27.9" x2="272.3" y2="62.6" stroke="#1e1e1e" stroke-width="1.0"/>
<line x1="269.1" y1="30.3" x2="272.3" y2="30.3" stroke="#1e1e1e" stroke-width="0.9"/>
<line x1="269.1" y1="60" x2="272.3" y2="60" stroke="#1e1e1e" stroke-width="0.9"/>
<text x="259.6" y="32.6" font-size="6.6" fill="#2e2e2e" textLength="6.9" lengthAdjust="spacingAndGlyphs">75</text>
<text x="263.05" y="62.3" font-size="6.6" fill="#2e2e2e" textLength="3.45" lengthAdjust="spacingAndGlyphs">0</text>
<text x="-49.7" y="254.02" font-size="8.4" font-weight="bold" fill="#1a1a1a" textLength="9.1" lengthAdjust="spacingAndGlyphs" transform="rotate(-90)">WT</text>
<line x1="272.3" y1="66.2" x2="272.3" y2="100.7" stroke="#1e1e1e" stroke-width="1.0"/>
<line x1="269.1" y1="68.6" x2="272.3" y2="68.6" stroke="#1e1e1e" stroke-width="0.9"/>
<line x1="269.1" y1="98.1" x2="272.3" y2="98.1" stroke="#1e1e1e" stroke-width="0.9"/>
<text x="259.6" y="70.9" font-size="6.6" fill="#2e2e2e" textLength="6.9" lengthAdjust="spacingAndGlyphs">75</text>
<text x="263.05" y="100.4" font-size="6.6" fill="#2e2e2e" textLength="3.45" lengthAdjust="spacingAndGlyphs">0</text>
<text x="-92.35" y="254.02" font-size="8.4" font-weight="bold" fill="#1a1a1a" textLength="18" lengthAdjust="spacingAndGlyphs" transform="rotate(-90)">Interm.</text>
<line x1="272.3" y1="104.2" x2="272.3" y2="139" stroke="#1e1e1e" stroke-width="1.0"/>
<line x1="269.1" y1="106.6" x2="272.3" y2="106.6" stroke="#1e1e1e" stroke-width="0.9"/>
<line x1="269.1" y1="136.4" x2="272.3" y2="136.4" stroke="#1e1e1e" stroke-width="0.9"/>
<text x="259.6" y="108.9" font-size="6.6" fill="#2e2e2e" textLength="6.9" lengthAdjust="spacingAndGlyphs">75</text>
<text x="263.05" y="138.7" font-size="6.6" fill="#2e2e2e" textLength="3.45" lengthAdjust="spacingAndGlyphs">0</text>
<text x="-126.8" y="254.02" font-size="8.4" font-weight="bold" fill="#1a1a1a" textLength="10.6" lengthAdjust="spacingAndGlyphs" transform="rotate(-90)">Late</text>
<path d="M273.5 60L273.5 60L274 60L274.5 60L275 60L275.5 59.82L276 60L276.5 59.97L277 60L277.5 59.93L278 59.96L278.5 60L279 59.9L279.5 60L280 59.98L280.5 59.98L281 60L281.5 59.79L282 60L282.5 60L283 59.47L283.5 59.97L284 59.89L284.5 60L285 59.9L285.5 60L286 60L286.5 60L287 60L287.5 59.92L288 60L288.5 59.9L289 60L289.5 59.12L290 59.76L290.5 59.74L291 60L291.5 59.89L292 59.75L292.5 59.98L293 59.83L293.5 59.5L294 59.97L294.5 59.94L295 59.96L295.5 59.85L296 60L296.5 60L297 60L297.5 59.66L298 59.92L298.5 60L299 59.94L299.5 59.37L300 60L300.5 59.98L301 59.55L301.5 59.54L302 60L302.5 60L303 59.94L303.5 58.72L304 60L304.5 59.83L305 59.45L305.5 60L306 59.65L306.5 59.71L307 59.63L307.5 60L308 59.17L308.5 59.99L309 59.6L309.5 59.97L310 59.79L310.5 59.95L311 59.91L311.5 59.78L312 60L312.5 60L313 59.74L313.5 59.92L314 60L314.5 60L315 59.92L315.5 60L316 60L316.5 59.82L317 60L317.5 59.75L318 60L318.5 59.92L319 59.93L319.5 59.57L320 60L320.5 59.57L321 59.94L321.5 60L322 59.94L322.5 59.95L323 59.78L323.5 60L324 60L324.5 59.78L325 59.41L325.5 60L326 60L326.5 59.97L327 59.96L327.5 59.74L328 60L328.5 59.96L329 60L329.5 60L330 60L330.5 59.94L331 59.92L331.5 60L332 59.85L332.5 59.93L333 59.55L333.5 59.99L334 59.99L334.5 60L335 59.98L335.5 60L336 60L336.5 59L337 60L337.5 60L338 59.78L338.5 60L339 59.41L339.5 59.86L340 59.93L340.5 60L341 59.89L341.5 59.59L342 59.93L342.5 60L343 60L343.5 60L344 59.21L344.5 60L345 59.95L345.5 59.11L346 59.51L346.5 59.94L347 59.78L347.5 60L348 59.98L348.5 60L349 59.99L349.5 60L350 59.94L350.5 60L351 60L351.5 60L352 60L352.5 59.94L353 60L353.5 59.97L354 60L354.5 59.98L355 59.68L355.5 60L356 59.97L356.5 60L357 60L357.5 59.4L358 59.63L358.5 59.83L359 60L359.5 60L360 59.21L360.5 59.93L361 59.89L361.5 59.36L362 59.89L362.5 59.69L363 59.48L363.5 59.76L364 60L364.5 59.69L365 59.93L365.5 59.92L366 59.85L366.5 60L367 60L367.5 59.95L368 59.87L368.5 59.67L369 59.86L369.5 60L370 60L370.5 60L371 59.96L371.5 59.96L372 60L372.5 60L373 59.26L373.5 60L374 60L374.5 59.99L375 59.55L375.5 59.55L376 59.48L376.5 57L377 58.58L377.5 59.59L378 59.88L378.5 59.59L379 59.99L379.5 59.98L380 59.95L380.5 59.95L381 60L381.5 59.92L382 59.58L382.5 59.77L383 60L383.5 59.81L384 60L384.5 59.97L385 59.87L385.5 59.98L386 59.8L386.5 59.59L387 59.99L387.5 59.77L388 60L388.5 59.95L389 59.81L389.5 59.95L390 59.76L390.5 59.91L391 59.36L391.5 59.75L392 60L392.5 59.76L393 59.77L393.5 59.95L394 59.67L394.5 59.89L395 59.82L395.5 59.79L396 60L396.5 60L397 59.62L397.5 60L398 60L398.5 59.64L399 59.97L399.5 60L400 59.99L400.5 59.81L401 59.99L401.5 59.87L402 59.81L402.5 59.96L403 59.88L403.5 59.97L404 59.88L404.5 60L405 59.86L405.5 59.95L406 59.98L406.5 59.99L407 59.98L407.5 59.85L408 60L408.5 60L409 59.96L409.5 60L410 59.56L410.5 59.96L411 59.52L411.5 59.5L412 59.86L412.5 59.96L413 59.99L413.5 60L414 60L414.5 59.96L415 60L415.5 59.96L416 60L416.5 59.96L417 59.99L417.5 59.33L418 59.66L418.5 60L419 60L419.5 60L420 59.88L420.5 59.81L421 60L421.5 59.82L422 59.37L422.5 59.99L423 59.85L423.5 60L424 60L424.5 60L425 60L425.5 59.83L426 60L426.5 59.75L427 59.94L427.5 60L428 60L428.5 60L429 60L429.5 60L430 59.85L430.5 59.69L431 59.72L431.5 59.89L432 60L432.5 59.75L433 59.12L433.5 59.82L434 59.63L434.5 59.98L435 60L435.5 60L436 59.97L436.5 59.7L437 59.87L437.5 60L438 59.68L438.5 60L439 59.25L439.5 59.99L440 60L440.5 60L441 60L441.5 60L442 60L442.5 60L443 59.94L443.5 59.55L444 60L444.5 59.87L445 60L445.5 59.95L446 60L446.5 59.78L447 59.99L447.5 60L448 59.97L448.5 60L449 59.05L449.5 59.67L450 59.75L450.5 59.67L451 59.52L451.5 58.66L452 55.8L452.5 59.24L453 59.82L453.5 59.96L454 59.98L454.5 60L455 59.97L455.5 60L456 59.75L456.5 59.57L457 60L457.5 60L458 60L458 60Z" fill="#151515" fill-opacity="0.55"/>
<path d="M273.5 60L274 60L274.5 60L275 60L275.5 59.82L276 60L276.5 59.97L277 60L277.5 59.93L278 59.96L278.5 60L279 59.9L279.5 60L280 59.98L280.5 59.98L281 60L281.5 59.79L282 60L282.5 60L283 59.47L283.5 59.97L284 59.89L284.5 60L285 59.9L285.5 60L286 60L286.5 60L287 60L287.5 59.92L288 60L288.5 59.9L289 60L289.5 59.12L290 59.76L290.5 59.74L291 60L291.5 59.89L292 59.75L292.5 59.98L293 59.83L293.5 59.5L294 59.97L294.5 59.94L295 59.96L295.5 59.85L296 60L296.5 60L297 60L297.5 59.66L298 59.92L298.5 60L299 59.94L299.5 59.37L300 60L300.5 59.98L301 59.55L301.5 59.54L302 60L302.5 60L303 59.94L303.5 58.72L304 60L304.5 59.83L305 59.45L305.5 60L306 59.65L306.5 59.71L307 59.63L307.5 60L308 59.17L308.5 59.99L309 59.6L309.5 59.97L310 59.79L310.5 59.95L311 59.91L311.5 59.78L312 60L312.5 60L313 59.74L313.5 59.92L314 60L314.5 60L315 59.92L315.5 60L316 60L316.5 59.82L317 60L317.5 59.75L318 60L318.5 59.92L319 59.93L319.5 59.57L320 60L320.5 59.57L321 59.94L321.5 60L322 59.94L322.5 59.95L323 59.78L323.5 60L324 60L324.5 59.78L325 59.41L325.5 60L326 60L326.5 59.97L327 59.96L327.5 59.74L328 60L328.5 59.96L329 60L329.5 60L330 60L330.5 59.94L331 59.92L331.5 60L332 59.85L332.5 59.93L333 59.55L333.5 59.99L334 59.99L334.5 60L335 59.98L335.5 60L336 60L336.5 59L337 60L337.5 60L338 59.78L338.5 60L339 59.41L339.5 59.86L340 59.93L340.5 60L341 59.89L341.5 59.59L342 59.93L342.5 60L343 60L343.5 60L344 59.21L344.5 60L345 59.95L345.5 59.11L346 59.51L346.5 59.94L347 59.78L347.5 60L348 59.98L348.5 60L349 59.99L349.5 60L350 59.94L350.5 60L351 60L351.5 60L352 60L352.5 59.94L353 60L353.5 59.97L354 60L354.5 59.98L355 59.68L355.5 60L356 59.97L356.5 60L357 60L357.5 59.4L358 59.63L358.5 59.83L359 60L359.5 60L360 59.21L360.5 59.93L361 59.89L361.5 59.36L362 59.89L362.5 59.69L363 59.48L363.5 59.76L364 60L364.5 59.69L365 59.93L365.5 59.92L366 59.85L366.5 60L367 60L367.5 59.95L368 59.87L368.5 59.67L369 59.86L369.5 60L370 60L370.5 60L371 59.96L371.5 59.96L372 60L372.5 60L373 59.26L373.5 60L374 60L374.5 59.99L375 59.55L375.5 59.55L376 59.48L376.5 57L377 58.58L377.5 59.59L378 59.88L378.5 59.59L379 59.99L379.5 59.98L380 59.95L380.5 59.95L381 60L381.5 59.92L382 59.58L382.5 59.77L383 60L383.5 59.81L384 60L384.5 59.97L385 59.87L385.5 59.98L386 59.8L386.5 59.59L387 59.99L387.5 59.77L388 60L388.5 59.95L389 59.81L389.5 59.95L390 59.76L390.5 59.91L391 59.36L391.5 59.75L392 60L392.5 59.76L393 59.77L393.5 59.95L394 59.67L394.5 59.89L395 59.82L395.5 59.79L396 60L396.5 60L397 59.62L397.5 60L398 60L398.5 59.64L399 59.97L399.5 60L400 59.99L400.5 59.81L401 59.99L401.5 59.87L402 59.81L402.5 59.96L403 59.88L403.5 59.97L404 59.88L404.5 60L405 59.86L405.5 59.95L406 59.98L406.5 59.99L407 59.98L407.5 59.85L408 60L408.5 60L409 59.96L409.5 60L410 59.56L410.5 59.96L411 59.52L411.5 59.5L412 59.86L412.5 59.96L413 59.99L413.5 60L414 60L414.5 59.96L415 60L415.5 59.96L416 60L416.5 59.96L417 59.99L417.5 59.33L418 59.66L418.5 60L419 60L419.5 60L420 59.88L420.5 59.81L421 60L421.5 59.82L422 59.37L422.5 59.99L423 59.85L423.5 60L424 60L424.5 60L425 60L425.5 59.83L426 60L426.5 59.75L427 59.94L427.5 60L428 60L428.5 60L429 60L429.5 60L430 59.85L430.5 59.69L431 59.72L431.5 59.89L432 60L432.5 59.75L433 59.12L433.5 59.82L434 59.63L434.5 59.98L435 60L435.5 60L436 59.97L436.5 59.7L437 59.87L437.5 60L438 59.68L438.5 60L439 59.25L439.5 59.99L440 60L440.5 60L441 60L441.5 60L442 60L442.5 60L443 59.94L443.5 59.55L444 60L444.5 59.87L445 60L445.5 59.95L446 60L446.5 59.78L447 59.99L447.5 60L448 59.97L448.5 60L449 59.05L449.5 59.67L450 59.75L450.5 59.67L451 59.52L451.5 58.66L452 55.8L452.5 59.24L453 59.82L453.5 59.96L454 59.98L454.5 60L455 59.97L455.5 60L456 59.75L456.5 59.57L457 60L457.5 60L458 60" fill="none" stroke="#151515" stroke-width="0.62" stroke-linejoin="round"/>
<path d="M376.5 60V55M411.5 60V55.8M451.5 60V54" stroke="#151515" stroke-width="0.9"/>
<line x1="376.5" y1="55" x2="376.5" y2="31.5" stroke="#151515" stroke-width="0.9" stroke-dasharray="1.4 1.1" stroke-opacity="0.75"/>
<line x1="451.5" y1="54" x2="451.5" y2="37" stroke="#151515" stroke-width="0.9" stroke-dasharray="1.4 1.1" stroke-opacity="0.75"/>
<path d="M273.5 98.1L273.5 97.85L274 98.05L274.5 98.1L275 97.95L275.5 98L276 97.77L276.5 98.09L277 98.1L277.5 98.1L278 98.09L278.5 98.07L279 98.06L279.5 97.55L280 98.01L280.5 98.09L281 97.78L281.5 98.1L282 98.1L282.5 98.1L283 98.1L283.5 97.83L284 97.73L284.5 98.1L285 98.1L285.5 98L286 96.99L286.5 98.08L287 98.1L287.5 97.96L288 98.1L288.5 97.9L289 98.06L289.5 97.55L290 98.02L290.5 97.75L291 97.86L291.5 98.1L292 98.1L292.5 97.15L293 97.65L293.5 98.04L294 98.08L294.5 98.1L295 97.72L295.5 98.03L296 98.08L296.5 98.1L297 98.1L297.5 98.1L298 98.04L298.5 97.64L299 98.1L299.5 98.1L300 98.1L300.5 97.98L301 98.1L301.5 97.94L302 98.1L302.5 97.86L303 97.91L303.5 98.1L304 98.04L304.5 98.1L305 98.1L305.5 98.08L306 97.98L306.5 98.1L307 98.07L307.5 97.96L308 98.06L308.5 98.1L309 98.09L309.5 98.1L310 98.1L310.5 98.1L311 97.97L311.5 98.1L312 97.84L312.5 97.68L313 97.61L313.5 97.93L314 97.91L314.5 98.1L315 98.1L315.5 97.85L316 98.09L316.5 98.1L317 98.02L317.5 98.08L318 98.1L318.5 98.1L319 97.33L319.5 97.95L320 97.67L320.5 97.84L321 98.1L321.5 98.04L322 97.89L322.5 97.96L323 98.1L323.5 98.1L324 98.1L324.5 97.8L325 98.1L325.5 97.86L326 98.1L326.5 97.9L327 98.1L327.5 98.1L328 98.02L328.5 98.07L329 98.02L329.5 98.1L330 98.08L330.5 98.1L331 98.01L331.5 98.04L332 98.04L332.5 97.86L333 98.03L333.5 98.1L334 97.98L334.5 98.06L335 98.06L335.5 97.75L336 98.1L336.5 97.42L337 98.1L337.5 98.1L338 98.02L338.5 98.1L339 98.07L339.5 98.1L340 98.09L340.5 97.93L341 98.1L341.5 98.1L342 98.1L342.5 98.1L343 97.92L343.5 98.1L344 98.1L344.5 98.1L345 98.09L345.5 97.9L346 98.1L346.5 98.03L347 97.89L347.5 98.09L348 98.06L348.5 98.09L349 97.88L349.5 97.54L350 97.85L350.5 98.08L351 98.09L351.5 97.89L352 98.1L352.5 98.06L353 98.1L353.5 98.1L354 98.05L354.5 98.1L355 97.6L355.5 97.5L356 98.1L356.5 98.01L357 97.8L357.5 97.54L358 98.1L358.5 96.79L359 98.1L359.5 98.1L360 98.1L360.5 98.08L361 97.94L361.5 97.7L362 98.09L362.5 98.08L363 97.63L363.5 98.04L364 97.79L364.5 98.04L365 97.96L365.5 97.25L366 97.76L366.5 98.1L367 98.1L367.5 97.41L368 97.92L368.5 98.05L369 98.1L369.5 98.09L370 98.1L370.5 97.97L371 97.91L371.5 98.1L372 98.1L372.5 98.04L373 98.1L373.5 98.1L374 97.7L374.5 98.02L375 97.73L375.5 98.03L376 97.87L376.5 96.77L377 97.47L377.5 97.92L378 98.05L378.5 98.09L379 97.98L379.5 98.1L380 97.89L380.5 98.01L381 97.97L381.5 97.21L382 98.05L382.5 98.08L383 97.76L383.5 97.89L384 97.89L384.5 98.08L385 97.99L385.5 97.85L386 98.04L386.5 98.05L387 98.1L387.5 97.61L388 97.59L388.5 98.1L389 97.96L389.5 98.1L390 98.06L390.5 97.4L391 98.1L391.5 98.06L392 97.88L392.5 98.1L393 98.03L393.5 97.77L394 98.02L394.5 97.98L395 97.68L395.5 97.89L396 98.01L396.5 98.02L397 97.59L397.5 98.09L398 98.1L398.5 97.87L399 97.97L399.5 98L400 97.73L400.5 98.02L401 98.1L401.5 97.86L402 97.4L402.5 96.9L403 97.31L403.5 97.89L404 97.77L404.5 98.1L405 98.1L405.5 98.1L406 98.1L406.5 98.1L407 98.1L407.5 97.85L408 98.1L408.5 97.98L409 98.07L409.5 98.1L410 97.24L410.5 97.95L411 97.84L411.5 97.83L412 97.85L412.5 98.08L413 97.89L413.5 98.1L414 98.1L414.5 98.01L415 97.89L415.5 97.48L416 98.01L416.5 97.76L417 97.93L417.5 98.1L418 98.06L418.5 97.55L419 98.05L419.5 98.1L420 98.1L420.5 98.1L421 98.1L421.5 98.02L422 97.66L422.5 97.4L423 97.85L423.5 97.9L424 98.1L424.5 98.1L425 97.84L425.5 98.1L426 97.93L426.5 98.1L427 98.1L427.5 98.02L428 97.89L428.5 98.1L429 98.1L429.5 97.92L430 97.99L430.5 98.1L431 98.03L431.5 98.09L432 97.99L432.5 98.01L433 97.94L433.5 98.05L434 98.03L434.5 97.97L435 98.02L435.5 98.1L436 97.81L436.5 98.1L437 97.87L437.5 97.61L438 98.1L438.5 97.81L439 98.04L439.5 98.1L440 97.89L440.5 97.38L441 97.85L441.5 97.36L442 97.98L442.5 97.86L443 97.73L443.5 98.05L444 98.1L444.5 98.1L445 97.69L445.5 97.63L446 98L446.5 98.09L447 98.1L447.5 98.06L448 98.1L448.5 97.79L449 97.83L449.5 97.44L450 97.69L450.5 97.99L451 98.02L451.5 97.83L452 97.37L452.5 97.87L453 98.05L453.5 98.07L454 97.93L454.5 98.08L455 97.81L455.5 98.04L456 98.02L456.5 97.88L457 98.1L457.5 98.1L458 98.1L458 98.1Z" fill="#6a6a6a" fill-opacity="0.45"/>
<path d="M273.5 97.85L274 98.05L274.5 98.1L275 97.95L275.5 98L276 97.77L276.5 98.09L277 98.1L277.5 98.1L278 98.09L278.5 98.07L279 98.06L279.5 97.55L280 98.01L280.5 98.09L281 97.78L281.5 98.1L282 98.1L282.5 98.1L283 98.1L283.5 97.83L284 97.73L284.5 98.1L285 98.1L285.5 98L286 96.99L286.5 98.08L287 98.1L287.5 97.96L288 98.1L288.5 97.9L289 98.06L289.5 97.55L290 98.02L290.5 97.75L291 97.86L291.5 98.1L292 98.1L292.5 97.15L293 97.65L293.5 98.04L294 98.08L294.5 98.1L295 97.72L295.5 98.03L296 98.08L296.5 98.1L297 98.1L297.5 98.1L298 98.04L298.5 97.64L299 98.1L299.5 98.1L300 98.1L300.5 97.98L301 98.1L301.5 97.94L302 98.1L302.5 97.86L303 97.91L303.5 98.1L304 98.04L304.5 98.1L305 98.1L305.5 98.08L306 97.98L306.5 98.1L307 98.07L307.5 97.96L308 98.06L308.5 98.1L309 98.09L309.5 98.1L310 98.1L310.5 98.1L311 97.97L311.5 98.1L312 97.84L312.5 97.68L313 97.61L313.5 97.93L314 97.91L314.5 98.1L315 98.1L315.5 97.85L316 98.09L316.5 98.1L317 98.02L317.5 98.08L318 98.1L318.5 98.1L319 97.33L319.5 97.95L320 97.67L320.5 97.84L321 98.1L321.5 98.04L322 97.89L322.5 97.96L323 98.1L323.5 98.1L324 98.1L324.5 97.8L325 98.1L325.5 97.86L326 98.1L326.5 97.9L327 98.1L327.5 98.1L328 98.02L328.5 98.07L329 98.02L329.5 98.1L330 98.08L330.5 98.1L331 98.01L331.5 98.04L332 98.04L332.5 97.86L333 98.03L333.5 98.1L334 97.98L334.5 98.06L335 98.06L335.5 97.75L336 98.1L336.5 97.42L337 98.1L337.5 98.1L338 98.02L338.5 98.1L339 98.07L339.5 98.1L340 98.09L340.5 97.93L341 98.1L341.5 98.1L342 98.1L342.5 98.1L343 97.92L343.5 98.1L344 98.1L344.5 98.1L345 98.09L345.5 97.9L346 98.1L346.5 98.03L347 97.89L347.5 98.09L348 98.06L348.5 98.09L349 97.88L349.5 97.54L350 97.85L350.5 98.08L351 98.09L351.5 97.89L352 98.1L352.5 98.06L353 98.1L353.5 98.1L354 98.05L354.5 98.1L355 97.6L355.5 97.5L356 98.1L356.5 98.01L357 97.8L357.5 97.54L358 98.1L358.5 96.79L359 98.1L359.5 98.1L360 98.1L360.5 98.08L361 97.94L361.5 97.7L362 98.09L362.5 98.08L363 97.63L363.5 98.04L364 97.79L364.5 98.04L365 97.96L365.5 97.25L366 97.76L366.5 98.1L367 98.1L367.5 97.41L368 97.92L368.5 98.05L369 98.1L369.5 98.09L370 98.1L370.5 97.97L371 97.91L371.5 98.1L372 98.1L372.5 98.04L373 98.1L373.5 98.1L374 97.7L374.5 98.02L375 97.73L375.5 98.03L376 97.87L376.5 96.77L377 97.47L377.5 97.92L378 98.05L378.5 98.09L379 97.98L379.5 98.1L380 97.89L380.5 98.01L381 97.97L381.5 97.21L382 98.05L382.5 98.08L383 97.76L383.5 97.89L384 97.89L384.5 98.08L385 97.99L385.5 97.85L386 98.04L386.5 98.05L387 98.1L387.5 97.61L388 97.59L388.5 98.1L389 97.96L389.5 98.1L390 98.06L390.5 97.4L391 98.1L391.5 98.06L392 97.88L392.5 98.1L393 98.03L393.5 97.77L394 98.02L394.5 97.98L395 97.68L395.5 97.89L396 98.01L396.5 98.02L397 97.59L397.5 98.09L398 98.1L398.5 97.87L399 97.97L399.5 98L400 97.73L400.5 98.02L401 98.1L401.5 97.86L402 97.4L402.5 96.9L403 97.31L403.5 97.89L404 97.77L404.5 98.1L405 98.1L405.5 98.1L406 98.1L406.5 98.1L407 98.1L407.5 97.85L408 98.1L408.5 97.98L409 98.07L409.5 98.1L410 97.24L410.5 97.95L411 97.84L411.5 97.83L412 97.85L412.5 98.08L413 97.89L413.5 98.1L414 98.1L414.5 98.01L415 97.89L415.5 97.48L416 98.01L416.5 97.76L417 97.93L417.5 98.1L418 98.06L418.5 97.55L419 98.05L419.5 98.1L420 98.1L420.5 98.1L421 98.1L421.5 98.02L422 97.66L422.5 97.4L423 97.85L423.5 97.9L424 98.1L424.5 98.1L425 97.84L425.5 98.1L426 97.93L426.5 98.1L427 98.1L427.5 98.02L428 97.89L428.5 98.1L429 98.1L429.5 97.92L430 97.99L430.5 98.1L431 98.03L431.5 98.09L432 97.99L432.5 98.01L433 97.94L433.5 98.05L434 98.03L434.5 97.97L435 98.02L435.5 98.1L436 97.81L436.5 98.1L437 97.87L437.5 97.61L438 98.1L438.5 97.81L439 98.04L439.5 98.1L440 97.89L440.5 97.38L441 97.85L441.5 97.36L442 97.98L442.5 97.86L443 97.73L443.5 98.05L444 98.1L444.5 98.1L445 97.69L445.5 97.63L446 98L446.5 98.09L447 98.1L447.5 98.06L448 98.1L448.5 97.79L449 97.83L449.5 97.44L450 97.69L450.5 97.99L451 98.02L451.5 97.83L452 97.37L452.5 97.87L453 98.05L453.5 98.07L454 97.93L454.5 98.08L455 97.81L455.5 98.04L456 98.02L456.5 97.88L457 98.1L457.5 98.1L458 98.1" fill="none" stroke="#6a6a6a" stroke-width="0.55" stroke-linejoin="round"/>
<path d="M376.5 98.1V87M451.5 98.1V92M411.5 98.1V96.5" stroke="#6a6a6a" stroke-width="0.9"/>
<path d="M273.5 136.4L273.5 136.4L274 136.39L274.5 136.37L275 135.94L275.5 136.4L276 136.21L276.5 136.4L277 136.4L277.5 136.4L278 135.95L278.5 136.36L279 135.82L279.5 136.4L280 136.15L280.5 135.74L281 136.4L281.5 136.4L282 136.4L282.5 136.03L283 136.39L283.5 135.86L284 136.29L284.5 136.4L285 136.3L285.5 136.21L286 136.17L286.5 135.21L287 136.29L287.5 136.4L288 136.29L288.5 136.4L289 136.23L289.5 136.31L290 136.24L290.5 136.4L291 136.15L291.5 136.03L292 136.01L292.5 136.22L293 136.4L293.5 136.13L294 136.08L294.5 136.4L295 136.4L295.5 136.25L296 136.36L296.5 135.49L297 136.37L297.5 135.98L298 136.38L298.5 136.31L299 136.4L299.5 136.4L300 136.3L300.5 136.35L301 136.11L301.5 136.34L302 136.39L302.5 135.94L303 136.25L303.5 135.59L304 136.19L304.5 136.4L305 136.24L305.5 135.98L306 136.3L306.5 136.06L307 136.31L307.5 136.36L308 136.02L308.5 136.4L309 136.4L309.5 136.4L310 136.29L310.5 136.4L311 136.18L311.5 136.39L312 136.25L312.5 136.23L313 136.24L313.5 135.78L314 136.4L314.5 136.4L315 136.39L315.5 135.81L316 136.2L316.5 135.66L317 136.4L317.5 136.4L318 136.4L318.5 136.4L319 136.33L319.5 135.85L320 136.32L320.5 136.32L321 136.29L321.5 136.4L322 136.24L322.5 136.4L323 136.39L323.5 136.35L324 136.32L324.5 135.31L325 136.26L325.5 136.38L326 135.88L326.5 135.59L327 136.4L327.5 136.4L328 136.26L328.5 136.27L329 136.27L329.5 136.4L330 135.87L330.5 136.34L331 136.4L331.5 136.29L332 136.29L332.5 136.04L333 136.4L333.5 136.4L334 136.24L334.5 136.21L335 136.31L335.5 135.58L336 136.29L336.5 136.4L337 136.2L337.5 136.4L338 136.16L338.5 136.37L339 136.4L339.5 136.4L340 136.4L340.5 135.81L341 136.38L341.5 136.36L342 136.34L342.5 136.15L343 136.36L343.5 136.37L344 136.4L344.5 135.86L345 136.28L345.5 136.06L346 136.31L346.5 135.9L347 135.91L347.5 136.36L348 136.4L348.5 136.3L349 136.4L349.5 136.4L350 136.33L350.5 136.4L351 136.33L351.5 136.04L352 136.4L352.5 136.26L353 136.1L353.5 136.4L354 136.17L354.5 136.38L355 136.36L355.5 135.92L356 136.4L356.5 136.4L357 135.92L357.5 135.95L358 136.37L358.5 136.4L359 136.4L359.5 136.31L360 136.31L360.5 136.17L361 136.4L361.5 136.28L362 136.34L362.5 136.34L363 136.14L363.5 136.32L364 136.4L364.5 136.35L365 135.72L365.5 136.39L366 136.38L366.5 136.4L367 136.13L367.5 136.4L368 136.27L368.5 136.25L369 136.39L369.5 136.24L370 136.25L370.5 136.21L371 136.4L371.5 135.95L372 136.4L372.5 136.38L373 136.4L373.5 136.38L374 136.4L374.5 136.34L375 136.33L375.5 136.35L376 136.21L376.5 135.33L377 135.9L377.5 136.26L378 136.36L378.5 136.39L379 136.4L379.5 136.11L380 136.4L380.5 134.96L381 136.28L381.5 136.04L382 136.08L382.5 136.26L383 136.4L383.5 136.4L384 136.4L384.5 136.16L385 136.4L385.5 136.21L386 136.1L386.5 136.4L387 136.4L387.5 136.4L388 136.4L388.5 135.73L389 136.4L389.5 136.4L390 136.4L390.5 136.16L391 135.97L391.5 136.39L392 136.35L392.5 136.38L393 136.4L393.5 136.4L394 136.4L394.5 136.37L395 136.38L395.5 136.4L396 135.98L396.5 136.4L397 136.4L397.5 136.4L398 136.4L398.5 136.4L399 136.25L399.5 136.4L400 136.22L400.5 136.27L401 136.31L401.5 136.29L402 136.35L402.5 136.4L403 136.4L403.5 136.4L404 136.4L404.5 136.4L405 136.29L405.5 136.4L406 136.38L406.5 136.4L407 136.4L407.5 135.91L408 136.4L408.5 136.24L409 136.34L409.5 136.32L410 135.49L410.5 136.28L411 136.35L411.5 136.23L412 136.35L412.5 136.29L413 136.08L413.5 136.4L414 136.4L414.5 136.19L415 136.4L415.5 136.17L416 136.4L416.5 136.4L417 136.4L417.5 136.4L418 135.4L418.5 136.28L419 136.36L419.5 136.26L420 136.28L420.5 136.06L421 136.4L421.5 136.26L422 136.4L422.5 136L423 136.4L423.5 136.2L424 136.4L424.5 136.38L425 136.28L425.5 136.4L426 136.4L426.5 136.4L427 136.4L427.5 136.4L428 136.33L428.5 136.4L429 136.4L429.5 135.9L430 136.19L430.5 136.3L431 136.24L431.5 135.97L432 136.21L432.5 136.25L433 136.4L433.5 136.25L434 136.4L434.5 136.19L435 136.4L435.5 136.4L436 136.4L436.5 136.4L437 136.14L437.5 136.38L438 136.4L438.5 136.26L439 136.4L439.5 136.4L440 136.22L440.5 136.3L441 136.37L441.5 136.16L442 136.4L442.5 136.4L443 136.4L443.5 136.07L444 136.4L444.5 136.4L445 136.4L445.5 136.34L446 136.18L446.5 136.4L447 135.89L447.5 136L448 136.4L448.5 136.4L449 136.4L449.5 136.4L450 136.37L450.5 136.38L451 136.34L451.5 136.17L452 135.79L452.5 136.26L453 136.09L453.5 136.26L454 136.28L454.5 136.37L455 135.53L455.5 135.99L456 136.26L456.5 136.34L457 136.01L457.5 136.4L458 136.36L458 136.4Z" fill="#151515" fill-opacity="0.6"/>
<path d="M273.5 136.4L274 136.39L274.5 136.37L275 135.94L275.5 136.4L276 136.21L276.5 136.4L277 136.4L277.5 136.4L278 135.95L278.5 136.36L279 135.82L279.5 136.4L280 136.15L280.5 135.74L281 136.4L281.5 136.4L282 136.4L282.5 136.03L283 136.39L283.5 135.86L284 136.29L284.5 136.4L285 136.3L285.5 136.21L286 136.17L286.5 135.21L287 136.29L287.5 136.4L288 136.29L288.5 136.4L289 136.23L289.5 136.31L290 136.24L290.5 136.4L291 136.15L291.5 136.03L292 136.01L292.5 136.22L293 136.4L293.5 136.13L294 136.08L294.5 136.4L295 136.4L295.5 136.25L296 136.36L296.5 135.49L297 136.37L297.5 135.98L298 136.38L298.5 136.31L299 136.4L299.5 136.4L300 136.3L300.5 136.35L301 136.11L301.5 136.34L302 136.39L302.5 135.94L303 136.25L303.5 135.59L304 136.19L304.5 136.4L305 136.24L305.5 135.98L306 136.3L306.5 136.06L307 136.31L307.5 136.36L308 136.02L308.5 136.4L309 136.4L309.5 136.4L310 136.29L310.5 136.4L311 136.18L311.5 136.39L312 136.25L312.5 136.23L313 136.24L313.5 135.78L314 136.4L314.5 136.4L315 136.39L315.5 135.81L316 136.2L316.5 135.66L317 136.4L317.5 136.4L318 136.4L318.5 136.4L319 136.33L319.5 135.85L320 136.32L320.5 136.32L321 136.29L321.5 136.4L322 136.24L322.5 136.4L323 136.39L323.5 136.35L324 136.32L324.5 135.31L325 136.26L325.5 136.38L326 135.88L326.5 135.59L327 136.4L327.5 136.4L328 136.26L328.5 136.27L329 136.27L329.5 136.4L330 135.87L330.5 136.34L331 136.4L331.5 136.29L332 136.29L332.5 136.04L333 136.4L333.5 136.4L334 136.24L334.5 136.21L335 136.31L335.5 135.58L336 136.29L336.5 136.4L337 136.2L337.5 136.4L338 136.16L338.5 136.37L339 136.4L339.5 136.4L340 136.4L340.5 135.81L341 136.38L341.5 136.36L342 136.34L342.5 136.15L343 136.36L343.5 136.37L344 136.4L344.5 135.86L345 136.28L345.5 136.06L346 136.31L346.5 135.9L347 135.91L347.5 136.36L348 136.4L348.5 136.3L349 136.4L349.5 136.4L350 136.33L350.5 136.4L351 136.33L351.5 136.04L352 136.4L352.5 136.26L353 136.1L353.5 136.4L354 136.17L354.5 136.38L355 136.36L355.5 135.92L356 136.4L356.5 136.4L357 135.92L357.5 135.95L358 136.37L358.5 136.4L359 136.4L359.5 136.31L360 136.31L360.5 136.17L361 136.4L361.5 136.28L362 136.34L362.5 136.34L363 136.14L363.5 136.32L364 136.4L364.5 136.35L365 135.72L365.5 136.39L366 136.38L366.5 136.4L367 136.13L367.5 136.4L368 136.27L368.5 136.25L369 136.39L369.5 136.24L370 136.25L370.5 136.21L371 136.4L371.5 135.95L372 136.4L372.5 136.38L373 136.4L373.5 136.38L374 136.4L374.5 136.34L375 136.33L375.5 136.35L376 136.21L376.5 135.33L377 135.9L377.5 136.26L378 136.36L378.5 136.39L379 136.4L379.5 136.11L380 136.4L380.5 134.96L381 136.28L381.5 136.04L382 136.08L382.5 136.26L383 136.4L383.5 136.4L384 136.4L384.5 136.16L385 136.4L385.5 136.21L386 136.1L386.5 136.4L387 136.4L387.5 136.4L388 136.4L388.5 135.73L389 136.4L389.5 136.4L390 136.4L390.5 136.16L391 135.97L391.5 136.39L392 136.35L392.5 136.38L393 136.4L393.5 136.4L394 136.4L394.5 136.37L395 136.38L395.5 136.4L396 135.98L396.5 136.4L397 136.4L397.5 136.4L398 136.4L398.5 136.4L399 136.25L399.5 136.4L400 136.22L400.5 136.27L401 136.31L401.5 136.29L402 136.35L402.5 136.4L403 136.4L403.5 136.4L404 136.4L404.5 136.4L405 136.29L405.5 136.4L406 136.38L406.5 136.4L407 136.4L407.5 135.91L408 136.4L408.5 136.24L409 136.34L409.5 136.32L410 135.49L410.5 136.28L411 136.35L411.5 136.23L412 136.35L412.5 136.29L413 136.08L413.5 136.4L414 136.4L414.5 136.19L415 136.4L415.5 136.17L416 136.4L416.5 136.4L417 136.4L417.5 136.4L418 135.4L418.5 136.28L419 136.36L419.5 136.26L420 136.28L420.5 136.06L421 136.4L421.5 136.26L422 136.4L422.5 136L423 136.4L423.5 136.2L424 136.4L424.5 136.38L425 136.28L425.5 136.4L426 136.4L426.5 136.4L427 136.4L427.5 136.4L428 136.33L428.5 136.4L429 136.4L429.5 135.9L430 136.19L430.5 136.3L431 136.24L431.5 135.97L432 136.21L432.5 136.25L433 136.4L433.5 136.25L434 136.4L434.5 136.19L435 136.4L435.5 136.4L436 136.4L436.5 136.4L437 136.14L437.5 136.38L438 136.4L438.5 136.26L439 136.4L439.5 136.4L440 136.22L440.5 136.3L441 136.37L441.5 136.16L442 136.4L442.5 136.4L443 136.4L443.5 136.07L444 136.4L444.5 136.4L445 136.4L445.5 136.34L446 136.18L446.5 136.4L447 135.89L447.5 136L448 136.4L448.5 136.4L449 136.4L449.5 136.4L450 136.37L450.5 136.38L451 136.34L451.5 136.17L452 135.79L452.5 136.26L453 136.09L453.5 136.26L454 136.28L454.5 136.37L455 135.53L455.5 135.99L456 136.26L456.5 136.34L457 136.01L457.5 136.4L458 136.36" fill="none" stroke="#151515" stroke-width="0.62" stroke-linejoin="round"/>
<path d="M376.5 136.4V127.5M451.5 136.4V131.3M411.5 136.4V135" stroke="#151515" stroke-width="0.9"/>
<text x="274.2" y="146.1" font-size="6.3" fill="#4a6a50" textLength="9.3" lengthAdjust="spacingAndGlyphs">Insr</text>
<line x1="286.3" y1="143.9" x2="451.3" y2="143.9" stroke="#7fa888" stroke-width="0.7"/>
<path d="M289.3 142.6L287.3 143.9L289.3 145.2ZM292.5 142.6L290.5 143.9L292.5 145.2ZM295.7 142.6L293.7 143.9L295.7 145.2ZM298.9 142.6L296.9 143.9L298.9 145.2ZM302.1 142.6L300.1 143.9L302.1 145.2ZM305.3 142.6L303.3 143.9L305.3 145.2ZM308.5 142.6L306.5 143.9L308.5 145.2ZM311.7 142.6L309.7 143.9L311.7 145.2ZM314.9 142.6L312.9 143.9L314.9 145.2ZM318.1 142.6L316.1 143.9L318.1 145.2ZM321.3 142.6L319.3 143.9L321.3 145.2ZM324.5 142.6L322.5 143.9L324.5 145.2ZM327.7 142.6L325.7 143.9L327.7 145.2ZM330.9 142.6L328.9 143.9L330.9 145.2ZM334.1 142.6L332.1 143.9L334.1 145.2ZM337.3 142.6L335.3 143.9L337.3 145.2ZM340.5 142.6L338.5 143.9L340.5 145.2ZM343.7 142.6L341.7 143.9L343.7 145.2ZM346.9 142.6L344.9 143.9L346.9 145.2ZM350.1 142.6L348.1 143.9L350.1 145.2ZM353.3 142.6L351.3 143.9L353.3 145.2ZM356.5 142.6L354.5 143.9L356.5 145.2ZM359.7 142.6L357.7 143.9L359.7 145.2ZM362.9 142.6L360.9 143.9L362.9 145.2ZM366.1 142.6L364.1 143.9L366.1 145.2ZM369.3 142.6L367.3 143.9L369.3 145.2ZM372.5 142.6L370.5 143.9L372.5 145.2ZM375.7 142.6L373.7 143.9L375.7 145.2ZM378.9 142.6L376.9 143.9L378.9 145.2ZM382.1 142.6L380.1 143.9L382.1 145.2ZM385.3 142.6L383.3 143.9L385.3 145.2ZM388.5 142.6L386.5 143.9L388.5 145.2ZM391.7 142.6L389.7 143.9L391.7 145.2ZM394.9 142.6L392.9 143.9L394.9 145.2ZM398.1 142.6L396.1 143.9L398.1 145.2ZM401.3 142.6L399.3 143.9L401.3 145.2ZM404.5 142.6L402.5 143.9L404.5 145.2ZM407.7 142.6L405.7 143.9L407.7 145.2ZM410.9 142.6L408.9 143.9L410.9 145.2ZM414.1 142.6L412.1 143.9L414.1 145.2ZM417.3 142.6L415.3 143.9L417.3 145.2ZM420.5 142.6L418.5 143.9L420.5 145.2ZM423.7 142.6L421.7 143.9L423.7 145.2ZM426.9 142.6L424.9 143.9L426.9 145.2ZM430.1 142.6L428.1 143.9L430.1 145.2ZM433.3 142.6L431.3 143.9L433.3 145.2ZM436.5 142.6L434.5 143.9L436.5 145.2ZM439.7 142.6L437.7 143.9L439.7 145.2ZM442.9 142.6L440.9 143.9L442.9 145.2ZM446.1 142.6L444.1 143.9L446.1 145.2ZM449.3 142.6L447.3 143.9L449.3 145.2Z" fill="#34553d"/>
<rect x="295.7" y="142" width="0.8" height="3.8" fill="#1d3a24"/>
<rect x="298.4" y="142" width="0.8" height="3.8" fill="#1d3a24"/>
<rect x="300.9" y="142" width="0.8" height="3.8" fill="#1d3a24"/>
<rect x="304.4" y="142" width="0.8" height="3.8" fill="#1d3a24"/>
<rect x="307.2" y="142" width="0.8" height="3.8" fill="#1d3a24"/>
<rect x="310.1" y="142" width="0.8" height="3.8" fill="#1d3a24"/>
<rect x="313" y="142" width="0.8" height="3.8" fill="#1d3a24"/>
<rect x="315.7" y="142" width="0.8" height="3.8" fill="#1d3a24"/>
<rect x="323.4" y="142" width="0.8" height="3.8" fill="#1d3a24"/>
<rect x="329.5" y="142" width="0.8" height="3.8" fill="#1d3a24"/>
<rect x="333" y="142" width="0.8" height="3.8" fill="#1d3a24"/>
<rect x="335.5" y="142" width="0.8" height="3.8" fill="#1d3a24"/>
<rect x="338.7" y="142" width="0.8" height="3.8" fill="#1d3a24"/>
<rect x="341.3" y="142" width="0.8" height="3.8" fill="#1d3a24"/>
<rect x="346.5" y="142" width="0.8" height="3.8" fill="#1d3a24"/>
<rect x="350.6" y="142" width="0.8" height="3.8" fill="#1d3a24"/>
<rect x="353.4" y="142" width="0.8" height="3.8" fill="#1d3a24"/>
<rect x="355.7" y="142" width="0.8" height="3.8" fill="#1d3a24"/>
<rect x="363.8" y="142" width="0.8" height="3.8" fill="#1d3a24"/>
<rect x="423.9" y="142" width="0.8" height="3.8" fill="#1d3a24"/>
<rect x="450.7" y="142" width="0.8" height="3.8" fill="#1d3a24"/>
<rect x="286.3" y="142.5" width="6" height="2.8" fill="#173d22"/>
<rect x="99.1" y="174.2" width="1.9" height="119.2" fill="#d2ebeb"/>
<rect x="130.9" y="174.2" width="3" height="119.2" fill="#eef3f6"/>
<rect x="134" y="174.2" width="2" height="119.2" fill="#cfe5e5"/>
<rect x="136" y="174.2" width="3" height="119.2" fill="#d2ecec"/>
<rect x="139" y="174.2" width="1.8" height="119.2" fill="#c8e4e4"/>
<rect x="202.5" y="174.2" width="1.5" height="119.2" fill="#dcefef"/>
<rect x="212.4" y="174.2" width="3.4" height="119.2" fill="#c8e6e6"/>
<line x1="46" y1="169.9" x2="228.5" y2="169.9" stroke="#3a3a3a" stroke-width="1.15"/>
<path d="M44 169.9L48.4 168.1L48.4 171.7Z" fill="#1e1e1e"/>
<path d="M230.5 169.9L226.1 168.1L226.1 171.7Z" fill="#1e1e1e"/>
<text x="130" y="165.9" font-size="6.9" fill="#2a2a2a" textLength="15" lengthAdjust="spacingAndGlyphs">75 kb</text>
<text x="206.7" y="166.7" font-size="8.4" font-weight="bold" font-style="italic" fill="#111" textLength="17" lengthAdjust="spacingAndGlyphs">Tcf7</text>
<line x1="42.3" y1="176" x2="42.3" y2="213.2" stroke="#1e1e1e" stroke-width="1.0"/>
<line x1="39.1" y1="178.4" x2="42.3" y2="178.4" stroke="#1e1e1e" stroke-width="0.9"/>
<line x1="39.1" y1="210.6" x2="42.3" y2="210.6" stroke="#1e1e1e" stroke-width="0.9"/>
<text x="26.15" y="180.7" font-size="6.6" fill="#2e2e2e" textLength="10.35" lengthAdjust="spacingAndGlyphs">140</text>
<text x="33.05" y="212.9" font-size="6.6" fill="#2e2e2e" textLength="3.45" lengthAdjust="spacingAndGlyphs">0</text>
<text x="-199.05" y="20.22" font-size="8.4" font-weight="bold" fill="#1a1a1a" textLength="9.1" lengthAdjust="spacingAndGlyphs" transform="rotate(-90)">WT</text>
<line x1="42.3" y1="216.9" x2="42.3" y2="253.4" stroke="#1e1e1e" stroke-width="1.0"/>
<line x1="39.1" y1="219.3" x2="42.3" y2="219.3" stroke="#1e1e1e" stroke-width="0.9"/>
<line x1="39.1" y1="250.8" x2="42.3" y2="250.8" stroke="#1e1e1e" stroke-width="0.9"/>
<text x="26.15" y="221.6" font-size="6.6" fill="#2e2e2e" textLength="10.35" lengthAdjust="spacingAndGlyphs">140</text>
<text x="33.05" y="253.1" font-size="6.6" fill="#2e2e2e" textLength="3.45" lengthAdjust="spacingAndGlyphs">0</text>
<text x="-244.05" y="20.22" font-size="8.4" font-weight="bold" fill="#1a1a1a" textLength="18" lengthAdjust="spacingAndGlyphs" transform="rotate(-90)">Interm.</text>
<line x1="42.3" y1="256.9" x2="42.3" y2="294.1" stroke="#1e1e1e" stroke-width="1.0"/>
<line x1="39.1" y1="259.3" x2="42.3" y2="259.3" stroke="#1e1e1e" stroke-width="0.9"/>
<line x1="39.1" y1="291.5" x2="42.3" y2="291.5" stroke="#1e1e1e" stroke-width="0.9"/>
<text x="26.15" y="261.6" font-size="6.6" fill="#2e2e2e" textLength="10.35" lengthAdjust="spacingAndGlyphs">140</text>
<text x="33.05" y="293.8" font-size="6.6" fill="#2e2e2e" textLength="3.45" lengthAdjust="spacingAndGlyphs">0</text>
<text x="-280.7" y="20.22" font-size="8.4" font-weight="bold" fill="#1a1a1a" textLength="10.6" lengthAdjust="spacingAndGlyphs" transform="rotate(-90)">Late</text>
<path d="M43.5 210.6L43.5 209.5L44 210.49L44.5 208.98L45 210.6L45.5 210.6L46 210.57L46.5 210.6L47 209.7L47.5 210.32L48 210.01L48.5 210.3L49 209.79L49.5 210.47L50 210.6L50.5 210.57L51 210.07L51.5 210.47L52 210.23L52.5 210.6L53 210.6L53.5 210.57L54 210.6L54.5 210.36L55 210.49L55.5 210.18L56 210.4L56.5 210.43L57 210.25L57.5 210.25L58 210.23L58.5 210.34L59 210.6L59.5 210.46L60 209.62L60.5 210.42L61 210.59L61.5 209.98L62 210.6L62.5 209.98L63 210.59L63.5 210.57L64 210.51L64.5 210.19L65 210.4L65.5 210.09L66 210.26L66.5 210.37L67 210.36L67.5 210.53L68 210.56L68.5 210.56L69 209.31L69.5 210.09L70 210.34L70.5 210.54L71 210.27L71.5 210.27L72 210.54L72.5 210.48L73 210.48L73.5 210.6L74 210.55L74.5 210.11L75 209.61L75.5 209.77L76 210.6L76.5 210.55L77 210.59L77.5 210.34L78 210.36L78.5 210.13L79 210.6L79.5 210.48L80 210.44L80.5 210.58L81 209.87L81.5 210.56L82 210.48L82.5 210.57L83 210.55L83.5 210.57L84 210.51L84.5 210.19L85 210.43L85.5 210.42L86 209.91L86.5 210.5L87 210.2L87.5 209.88L88 210.08L88.5 210.59L89 210.51L89.5 210.57L90 210.33L90.5 210.51L91 209.8L91.5 210.33L92 210L92.5 209.78L93 209.16L93.5 207.54L94 206.24L94.5 203L95 206.24L95.5 208.1L96 209.16L96.5 209.78L97 210.13L97.5 210.33L98 210.44L98.5 209.17L99 210.29L99.5 210.4L100 210.35L100.5 209.72L101 208.73L101.5 210.27L102 210.51L102.5 210.54L103 210.39L103.5 210.47L104 209.41L104.5 210.04L105 210.6L105.5 210.6L106 210.05L106.5 210.3L107 209.32L107.5 210.07L108 210.44L108.5 210.08L109 210.56L109.5 208.57L110 210.55L110.5 209.56L111 210.5L111.5 210.35L112 210.37L112.5 210.26L113 210.09L113.5 209.84L114 209.47L114.5 208.91L115 208.08L115.5 206.85L116 205L116.5 206.85L117 208.08L117.5 205.49L118 191.2L118.5 207.97L119 210.09L119.5 210.26L120 210.37L120.5 210.45L121 209.75L121.5 210.53L122 209.9L122.5 210.37L123 210.55L123.5 209.47L124 210.18L124.5 210.59L125 210.6L125.5 209.78L126 210.26L126.5 210.44L127 210.56L127.5 210.38L128 210.41L128.5 210.58L129 210.56L129.5 210.16L130 210.27L130.5 210.32L131 209.96L131.5 209.52L132 208.5L132.5 209.52L133 210.05L133.5 209.83L134 210.45L134.5 210.53L135 210.52L135.5 210.42L136 208.94L136.5 209.65L137 208.42L137.5 207L138 209.48L138.5 209.47L139 210.26L139.5 210.35L140 210.54L140.5 210.32L141 209.87L141.5 210.48L142 210.56L142.5 209.88L143 210.6L143.5 210.6L144 210.57L144.5 210.53L145 209.88L145.5 210.6L146 210.27L146.5 210.6L147 210.23L147.5 209.99L148 210.35L148.5 209.83L149 210.49L149.5 210.52L150 209.58L150.5 210.6L151 210.6L151.5 210.55L152 209.63L152.5 210.41L153 210.56L153.5 210.6L154 210.08L154.5 209.73L155 210.6L155.5 210.58L156 210.6L156.5 210.04L157 209.87L157.5 210.54L158 210.16L158.5 210.58L159 209.96L159.5 210.18L160 210.37L160.5 210.3L161 210.36L161.5 210.47L162 210.41L162.5 210.42L163 210.2L163.5 209.83L164 208.5L164.5 210.4L165 210.37L165.5 210.35L166 210.49L166.5 210.35L167 208.9L167.5 210.27L168 210.6L168.5 210.34L169 210.22L169.5 210.6L170 210.42L170.5 210.32L171 210.59L171.5 209.95L172 210.2L172.5 210.17L173 209.42L173.5 210.15L174 209.55L174.5 210.58L175 210.48L175.5 210.58L176 210.58L176.5 210.49L177 210.51L177.5 210.11L178 208.01L178.5 183.9L179 200.78L179.5 208.74L180 210.25L180.5 210.39L181 210.49L181.5 210.38L182 210.55L182.5 210.55L183 210.57L183.5 210.37L184 210.46L184.5 209.43L185 210.42L185.5 210.6L186 210.6L186.5 210.58L187 209.06L187.5 210.1L188 210.6L188.5 210.58L189 210L189.5 210.23L190 210.46L190.5 210.56L191 210.53L191.5 210.6L192 210.46L192.5 210.45L193 209.84L193.5 210.58L194 210.13L194.5 209.84L195 210.49L195.5 210.56L196 209.66L196.5 210.26L197 209.74L197.5 210.3L198 210.59L198.5 210.57L199 208.73L199.5 210.53L200 210.6L200.5 210.6L201 210.6L201.5 210.55L202 210.19L202.5 210.46L203 210.21L203.5 209.77L204 210.17L204.5 210.56L205 210.57L205.5 210.42L206 210.01L206.5 210.32L207 210.32L207.5 210.58L208 210.08L208.5 210.47L209 210.53L209.5 210.52L210 210.25L210.5 210.01L211 210.19L211.5 209.88L212 209.34L212.5 208.41L213 206.78L213.5 203.94L214 177.5L214.5 194.96L215 206.12L215.5 208.41L216 209.34L216.5 209.88L217 210.19L217.5 210.07L218 210.46L218.5 210.52L219 210.25L219.5 210.45L220 210.59L220.5 210.59L221 208.86L221.5 210.19L222 209.98L222.5 210.31L223 210.41L223.5 209.99L224 210.29L224.5 210.57L225 210.07L225.5 209.23L226 209.32L226.5 210.23L227 210.44L227.5 209.83L228 210.4L228.5 210.56L229 210.57L229.5 210.06L230 210.41L230.5 210.22L230.5 210.6Z" fill="#151515" fill-opacity="0.55"/>
<path d="M43.5 209.5L44 210.49L44.5 208.98L45 210.6L45.5 210.6L46 210.57L46.5 210.6L47 209.7L47.5 210.32L48 210.01L48.5 210.3L49 209.79L49.5 210.47L50 210.6L50.5 210.57L51 210.07L51.5 210.47L52 210.23L52.5 210.6L53 210.6L53.5 210.57L54 210.6L54.5 210.36L55 210.49L55.5 210.18L56 210.4L56.5 210.43L57 210.25L57.5 210.25L58 210.23L58.5 210.34L59 210.6L59.5 210.46L60 209.62L60.5 210.42L61 210.59L61.5 209.98L62 210.6L62.5 209.98L63 210.59L63.5 210.57L64 210.51L64.5 210.19L65 210.4L65.5 210.09L66 210.26L66.5 210.37L67 210.36L67.5 210.53L68 210.56L68.5 210.56L69 209.31L69.5 210.09L70 210.34L70.5 210.54L71 210.27L71.5 210.27L72 210.54L72.5 210.48L73 210.48L73.5 210.6L74 210.55L74.5 210.11L75 209.61L75.5 209.77L76 210.6L76.5 210.55L77 210.59L77.5 210.34L78 210.36L78.5 210.13L79 210.6L79.5 210.48L80 210.44L80.5 210.58L81 209.87L81.5 210.56L82 210.48L82.5 210.57L83 210.55L83.5 210.57L84 210.51L84.5 210.19L85 210.43L85.5 210.42L86 209.91L86.5 210.5L87 210.2L87.5 209.88L88 210.08L88.5 210.59L89 210.51L89.5 210.57L90 210.33L90.5 210.51L91 209.8L91.5 210.33L92 210L92.5 209.78L93 209.16L93.5 207.54L94 206.24L94.5 203L95 206.24L95.5 208.1L96 209.16L96.5 209.78L97 210.13L97.5 210.33L98 210.44L98.5 209.17L99 210.29L99.5 210.4L100 210.35L100.5 209.72L101 208.73L101.5 210.27L102 210.51L102.5 210.54L103 210.39L103.5 210.47L104 209.41L104.5 210.04L105 210.6L105.5 210.6L106 210.05L106.5 210.3L107 209.32L107.5 210.07L108 210.44L108.5 210.08L109 210.56L109.5 208.57L110 210.55L110.5 209.56L111 210.5L111.5 210.35L112 210.37L112.5 210.26L113 210.09L113.5 209.84L114 209.47L114.5 208.91L115 208.08L115.5 206.85L116 205L116.5 206.85L117 208.08L117.5 205.49L118 191.2L118.5 207.97L119 210.09L119.5 210.26L120 210.37L120.5 210.45L121 209.75L121.5 210.53L122 209.9L122.5 210.37L123 210.55L123.5 209.47L124 210.18L124.5 210.59L125 210.6L125.5 209.78L126 210.26L126.5 210.44L127 210.56L127.5 210.38L128 210.41L128.5 210.58L129 210.56L129.5 210.16L130 210.27L130.5 210.32L131 209.96L131.5 209.52L132 208.5L132.5 209.52L133 210.05L133.5 209.83L134 210.45L134.5 210.53L135 210.52L135.5 210.42L136 208.94L136.5 209.65L137 208.42L137.5 207L138 209.48L138.5 209.47L139 210.26L139.5 210.35L140 210.54L140.5 210.32L141 209.87L141.5 210.48L142 210.56L142.5 209.88L143 210.6L143.5 210.6L144 210.57L144.5 210.53L145 209.88L145.5 210.6L146 210.27L146.5 210.6L147 210.23L147.5 209.99L148 210.35L148.5 209.83L149 210.49L149.5 210.52L150 209.58L150.5 210.6L151 210.6L151.5 210.55L152 209.63L152.5 210.41L153 210.56L153.5 210.6L154 210.08L154.5 209.73L155 210.6L155.5 210.58L156 210.6L156.5 210.04L157 209.87L157.5 210.54L158 210.16L158.5 210.58L159 209.96L159.5 210.18L160 210.37L160.5 210.3L161 210.36L161.5 210.47L162 210.41L162.5 210.42L163 210.2L163.5 209.83L164 208.5L164.5 210.4L165 210.37L165.5 210.35L166 210.49L166.5 210.35L167 208.9L167.5 210.27L168 210.6L168.5 210.34L169 210.22L169.5 210.6L170 210.42L170.5 210.32L171 210.59L171.5 209.95L172 210.2L172.5 210.17L173 209.42L173.5 210.15L174 209.55L174.5 210.58L175 210.48L175.5 210.58L176 210.58L176.5 210.49L177 210.51L177.5 210.11L178 208.01L178.5 183.9L179 200.78L179.5 208.74L180 210.25L180.5 210.39L181 210.49L181.5 210.38L182 210.55L182.5 210.55L183 210.57L183.5 210.37L184 210.46L184.5 209.43L185 210.42L185.5 210.6L186 210.6L186.5 210.58L187 209.06L187.5 210.1L188 210.6L188.5 210.58L189 210L189.5 210.23L190 210.46L190.5 210.56L191 210.53L191.5 210.6L192 210.46L192.5 210.45L193 209.84L193.5 210.58L194 210.13L194.5 209.84L195 210.49L195.5 210.56L196 209.66L196.5 210.26L197 209.74L197.5 210.3L198 210.59L198.5 210.57L199 208.73L199.5 210.53L200 210.6L200.5 210.6L201 210.6L201.5 210.55L202 210.19L202.5 210.46L203 210.21L203.5 209.77L204 210.17L204.5 210.56L205 210.57L205.5 210.42L206 210.01L206.5 210.32L207 210.32L207.5 210.58L208 210.08L208.5 210.47L209 210.53L209.5 210.52L210 210.25L210.5 210.01L211 210.19L211.5 209.88L212 209.34L212.5 208.41L213 206.78L213.5 203.94L214 177.5L214.5 194.96L215 206.12L215.5 208.41L216 209.34L216.5 209.88L217 210.19L217.5 210.07L218 210.46L218.5 210.52L219 210.25L219.5 210.45L220 210.59L220.5 210.59L221 208.86L221.5 210.19L222 209.98L222.5 210.31L223 210.41L223.5 209.99L224 210.29L224.5 210.57L225 210.07L225.5 209.23L226 209.32L226.5 210.23L227 210.44L227.5 209.83L228 210.4L228.5 210.56L229 210.57L229.5 210.06L230 210.41L230.5 210.22" fill="none" stroke="#151515" stroke-width="0.62" stroke-linejoin="round"/>
<path d="M93.5 210.6V185.1M100.5 210.6V195M64.5 210.6V207.2M84.5 210.6V207.2M172.5 210.6V200.8M203.5 210.6V203.7M206.5 210.6V205.7M226.5 210.6V199.9" stroke="#151515" stroke-width="0.9"/>
<path d="M43.5 250.8L43.5 250.76L44 250.76L44.5 250.37L45 250.47L45.5 250.62L46 250.8L46.5 250.79L47 250.73L47.5 249.87L48 250.54L48.5 250.8L49 250.8L49.5 250.73L50 250.8L50.5 250.4L51 250.73L51.5 250.74L52 250.79L52.5 250.65L53 250.8L53.5 250.8L54 250.8L54.5 250.8L55 250.69L55.5 250.56L56 250.74L56.5 250.44L57 250.08L57.5 250.8L58 250.62L58.5 250.33L59 250.77L59.5 250.74L60 250.22L60.5 250.33L61 250.52L61.5 250.76L62 250.45L62.5 250.71L63 250.8L63.5 250.8L64 250.59L64.5 250.8L65 250.51L65.5 250.28L66 250.62L66.5 250.21L67 250.42L67.5 250.61L68 250.34L68.5 250.8L69 250.54L69.5 250.8L70 250.63L70.5 250.69L71 250.57L71.5 250.4L72 250.51L72.5 250.73L73 250.65L73.5 250.73L74 250.44L74.5 250.78L75 250.6L75.5 250.8L76 250.14L76.5 250.61L77 250.37L77.5 250.8L78 250.65L78.5 250.52L79 250.68L79.5 250.74L80 249.95L80.5 250.21L81 250.46L81.5 250.64L82 249.24L82.5 250.68L83 250.78L83.5 248.9L84 250.18L84.5 250.63L85 250.31L85.5 250.6L86 250.8L86.5 250.8L87 250.68L87.5 250.21L88 250.08L88.5 250.64L89 249.34L89.5 250.65L90 250.08L90.5 250.76L91 250.56L91.5 250.59L92 250.35L92.5 249.82L93 248.69L93.5 245.5L94 247.94L94.5 249.47L95 250.19L95.5 250.38L96 250.67L96.5 250.74L97 250.57L97.5 250.45L98 250.52L98.5 250.8L99 250.35L99.5 250.52L100 250.63L100.5 250.34L101 250.56L101.5 250.57L102 250.79L102.5 250.78L103 249.75L103.5 250.29L104 250.62L104.5 250.76L105 250.65L105.5 250.8L106 250.59L106.5 250.76L107 250.43L107.5 250.67L108 250.78L108.5 250.7L109 250.3L109.5 250.74L110 250.69L110.5 250.28L111 250.58L111.5 250.78L112 250.8L112.5 250.79L113 250.11L113.5 250.19L114 250.73L114.5 250.64L115 250.55L115.5 250.01L116 249.86L116.5 248.98L117 247.25L117.5 245.5L118 248.72L118.5 249.73L119 250.25L119.5 250.52L120 250.42L120.5 250.55L121 250.61L121.5 250.78L122 250.79L122.5 250.78L123 250.46L123.5 250.56L124 250.72L124.5 250.8L125 250.8L125.5 249.73L126 250.75L126.5 250.45L127 250.48L127.5 250.79L128 250.51L128.5 250.8L129 250.61L129.5 249.88L130 250.36L130.5 250.68L131 250.66L131.5 250.71L132 250.6L132.5 250.71L133 250.66L133.5 250.55L134 250.55L134.5 250.76L135 250.8L135.5 250.76L136 250.8L136.5 250.8L137 250.75L137.5 250.8L138 250.15L138.5 250.45L139 250.28L139.5 250.27L140 250.71L140.5 250.05L141 250.18L141.5 250.54L142 250.67L142.5 250.52L143 250.65L143.5 250.08L144 250.59L144.5 250.67L145 248.98L145.5 250.65L146 250.8L146.5 250.73L147 250.5L147.5 250.43L148 250.32L148.5 250.8L149 250.42L149.5 250.69L150 250.68L150.5 249.92L151 250.5L151.5 250.73L152 250.78L152.5 250.04L153 250.8L153.5 250.65L154 250.77L154.5 250.64L155 250.52L155.5 250.8L156 250.27L156.5 250.77L157 250.55L157.5 250.7L158 250.8L158.5 250.72L159 249.55L159.5 249.72L160 250.41L160.5 250.59L161 250.66L161.5 250.79L162 250.35L162.5 250.55L163 250.46L163.5 250.78L164 250.59L164.5 250.4L165 250.52L165.5 249.99L166 250.8L166.5 250.69L167 250.72L167.5 250.61L168 250.48L168.5 250.8L169 249.92L169.5 250.76L170 249.13L170.5 250.37L171 250.09L171.5 250.78L172 250.74L172.5 250.46L173 250.64L173.5 249.38L174 249.98L174.5 250.8L175 250.8L175.5 250.65L176 250.62L176.5 250.6L177 249.69L177.5 250.43L178 249.31L178.5 247.5L179 249.32L179.5 250L180 250.6L180.5 250.73L181 250.21L181.5 250.22L182 250.8L182.5 250.8L183 250.8L183.5 250.45L184 250.78L184.5 250.8L185 250.1L185.5 250.67L186 250.72L186.5 250.61L187 250.79L187.5 250.72L188 250.23L188.5 250.69L189 250.58L189.5 250.28L190 250.8L190.5 250.21L191 249.96L191.5 250.8L192 249.91L192.5 250.69L193 250.8L193.5 250.8L194 250.78L194.5 250.28L195 250.43L195.5 250.65L196 249.4L196.5 250.76L197 250.2L197.5 250.34L198 250.41L198.5 250.45L199 249.1L199.5 250.8L200 250.8L200.5 250.34L201 250.56L201.5 250.8L202 250.44L202.5 250.8L203 250.8L203.5 249.96L204 250.66L204.5 250.55L205 250.8L205.5 250.52L206 250.8L206.5 250.8L207 250.41L207.5 250.72L208 250.72L208.5 250.67L209 250.79L209.5 249.43L210 249.8L210.5 250.75L211 250.57L211.5 250.68L212 250.68L212.5 249.59L213 250.15L213.5 249.31L214 238L214.5 246.09L215 249.53L215.5 249.47L216 250.56L216.5 250.7L217 249.1L217.5 250.74L218 250.11L218.5 250.3L219 250.67L219.5 250.8L220 250.8L220.5 250.66L221 250.4L221.5 250.44L222 250.74L222.5 250.8L223 250.49L223.5 250.78L224 250.38L224.5 250.61L225 250.69L225.5 250.47L226 250.1L226.5 250.62L227 250.17L227.5 250.59L228 250.8L228.5 250.7L229 250.45L229.5 250.8L230 250.44L230.5 250.76L230.5 250.8Z" fill="#6a6a6a" fill-opacity="0.45"/>
<path d="M43.5 250.76L44 250.76L44.5 250.37L45 250.47L45.5 250.62L46 250.8L46.5 250.79L47 250.73L47.5 249.87L48 250.54L48.5 250.8L49 250.8L49.5 250.73L50 250.8L50.5 250.4L51 250.73L51.5 250.74L52 250.79L52.5 250.65L53 250.8L53.5 250.8L54 250.8L54.5 250.8L55 250.69L55.5 250.56L56 250.74L56.5 250.44L57 250.08L57.5 250.8L58 250.62L58.5 250.33L59 250.77L59.5 250.74L60 250.22L60.5 250.33L61 250.52L61.5 250.76L62 250.45L62.5 250.71L63 250.8L63.5 250.8L64 250.59L64.5 250.8L65 250.51L65.5 250.28L66 250.62L66.5 250.21L67 250.42L67.5 250.61L68 250.34L68.5 250.8L69 250.54L69.5 250.8L70 250.63L70.5 250.69L71 250.57L71.5 250.4L72 250.51L72.5 250.73L73 250.65L73.5 250.73L74 250.44L74.5 250.78L75 250.6L75.5 250.8L76 250.14L76.5 250.61L77 250.37L77.5 250.8L78 250.65L78.5 250.52L79 250.68L79.5 250.74L80 249.95L80.5 250.21L81 250.46L81.5 250.64L82 249.24L82.5 250.68L83 250.78L83.5 248.9L84 250.18L84.5 250.63L85 250.31L85.5 250.6L86 250.8L86.5 250.8L87 250.68L87.5 250.21L88 250.08L88.5 250.64L89 249.34L89.5 250.65L90 250.08L90.5 250.76L91 250.56L91.5 250.59L92 250.35L92.5 249.82L93 248.69L93.5 245.5L94 247.94L94.5 249.47L95 250.19L95.5 250.38L96 250.67L96.5 250.74L97 250.57L97.5 250.45L98 250.52L98.5 250.8L99 250.35L99.5 250.52L100 250.63L100.5 250.34L101 250.56L101.5 250.57L102 250.79L102.5 250.78L103 249.75L103.5 250.29L104 250.62L104.5 250.76L105 250.65L105.5 250.8L106 250.59L106.5 250.76L107 250.43L107.5 250.67L108 250.78L108.5 250.7L109 250.3L109.5 250.74L110 250.69L110.5 250.28L111 250.58L111.5 250.78L112 250.8L112.5 250.79L113 250.11L113.5 250.19L114 250.73L114.5 250.64L115 250.55L115.5 250.01L116 249.86L116.5 248.98L117 247.25L117.5 245.5L118 248.72L118.5 249.73L119 250.25L119.5 250.52L120 250.42L120.5 250.55L121 250.61L121.5 250.78L122 250.79L122.5 250.78L123 250.46L123.5 250.56L124 250.72L124.5 250.8L125 250.8L125.5 249.73L126 250.75L126.5 250.45L127 250.48L127.5 250.79L128 250.51L128.5 250.8L129 250.61L129.5 249.88L130 250.36L130.5 250.68L131 250.66L131.5 250.71L132 250.6L132.5 250.71L133 250.66L133.5 250.55L134 250.55L134.5 250.76L135 250.8L135.5 250.76L136 250.8L136.5 250.8L137 250.75L137.5 250.8L138 250.15L138.5 250.45L139 250.28L139.5 250.27L140 250.71L140.5 250.05L141 250.18L141.5 250.54L142 250.67L142.5 250.52L143 250.65L143.5 250.08L144 250.59L144.5 250.67L145 248.98L145.5 250.65L146 250.8L146.5 250.73L147 250.5L147.5 250.43L148 250.32L148.5 250.8L149 250.42L149.5 250.69L150 250.68L150.5 249.92L151 250.5L151.5 250.73L152 250.78L152.5 250.04L153 250.8L153.5 250.65L154 250.77L154.5 250.64L155 250.52L155.5 250.8L156 250.27L156.5 250.77L157 250.55L157.5 250.7L158 250.8L158.5 250.72L159 249.55L159.5 249.72L160 250.41L160.5 250.59L161 250.66L161.5 250.79L162 250.35L162.5 250.55L163 250.46L163.5 250.78L164 250.59L164.5 250.4L165 250.52L165.5 249.99L166 250.8L166.5 250.69L167 250.72L167.5 250.61L168 250.48L168.5 250.8L169 249.92L169.5 250.76L170 249.13L170.5 250.37L171 250.09L171.5 250.78L172 250.74L172.5 250.46L173 250.64L173.5 249.38L174 249.98L174.5 250.8L175 250.8L175.5 250.65L176 250.62L176.5 250.6L177 249.69L177.5 250.43L178 249.31L178.5 247.5L179 249.32L179.5 250L180 250.6L180.5 250.73L181 250.21L181.5 250.22L182 250.8L182.5 250.8L183 250.8L183.5 250.45L184 250.78L184.5 250.8L185 250.1L185.5 250.67L186 250.72L186.5 250.61L187 250.79L187.5 250.72L188 250.23L188.5 250.69L189 250.58L189.5 250.28L190 250.8L190.5 250.21L191 249.96L191.5 250.8L192 249.91L192.5 250.69L193 250.8L193.5 250.8L194 250.78L194.5 250.28L195 250.43L195.5 250.65L196 249.4L196.5 250.76L197 250.2L197.5 250.34L198 250.41L198.5 250.45L199 249.1L199.5 250.8L200 250.8L200.5 250.34L201 250.56L201.5 250.8L202 250.44L202.5 250.8L203 250.8L203.5 249.96L204 250.66L204.5 250.55L205 250.8L205.5 250.52L206 250.8L206.5 250.8L207 250.41L207.5 250.72L208 250.72L208.5 250.67L209 250.79L209.5 249.43L210 249.8L210.5 250.75L211 250.57L211.5 250.68L212 250.68L212.5 249.59L213 250.15L213.5 249.31L214 238L214.5 246.09L215 249.53L215.5 249.47L216 250.56L216.5 250.7L217 249.1L217.5 250.74L218 250.11L218.5 250.3L219 250.67L219.5 250.8L220 250.8L220.5 250.66L221 250.4L221.5 250.44L222 250.74L222.5 250.8L223 250.49L223.5 250.78L224 250.38L224.5 250.61L225 250.69L225.5 250.47L226 250.1L226.5 250.62L227 250.17L227.5 250.59L228 250.8L228.5 250.7L229 250.45L229.5 250.8L230 250.44L230.5 250.76" fill="none" stroke="#6a6a6a" stroke-width="0.55" stroke-linejoin="round"/>
<path d="M93.5 250.8V236.9M100.5 250.8V247M117.5 250.8V239.2M178.5 250.8V232.3M225.5 250.8V245M172.5 250.8V248" stroke="#6a6a6a" stroke-width="0.9"/>
<path d="M43.5 291.5L43.5 291.41L44 291.5L44.5 291.04L45 290.83L45.5 291.5L46 291.5L46.5 291.5L47 291.5L47.5 291.5L48 291.5L48.5 291.5L49 291.47L49.5 291.5L50 291.36L50.5 291.34L51 290.55L51.5 291.5L52 291.2L52.5 291.18L53 291.4L53.5 291.5L54 291.47L54.5 291.5L55 291.06L55.5 290.66L56 291.41L56.5 291.5L57 290.41L57.5 291.5L58 291.5L58.5 291.23L59 291.33L59.5 290.82L60 290.88L60.5 291.36L61 291.5L61.5 290.25L62 290.27L62.5 291.47L63 291.34L63.5 290.1L64 291.18L64.5 291.5L65 289.43L65.5 291.5L66 291.1L66.5 291.46L67 291.5L67.5 291.5L68 291.29L68.5 291.5L69 290.86L69.5 291.45L70 291.5L70.5 290.22L71 291.47L71.5 291.5L72 291.48L72.5 291.5L73 291.5L73.5 291.36L74 291.43L74.5 290.57L75 291.43L75.5 290.59L76 291.14L76.5 291.38L77 291.47L77.5 290.82L78 291.5L78.5 291.5L79 291.44L79.5 291.22L80 290.99L80.5 290.58L81 291.48L81.5 291.44L82 290.94L82.5 290.41L83 291.2L83.5 291.48L84 291.23L84.5 291.49L85 291.32L85.5 291.5L86 290.64L86.5 291.35L87 291.02L87.5 291.11L88 291.22L88.5 291.16L89 291.1L89.5 290.76L90 291.15L90.5 291.1L91 290.5L91.5 291.18L92 290.84L92.5 290.15L93 288.74L93.5 285L94 287.83L94.5 289.7L95 290.62L95.5 291.07L96 290.81L96.5 291.21L97 291.31L97.5 291.41L98 291.42L98.5 291.4L99 291.2L99.5 291.07L100 291.3L100.5 290.96L101 291.38L101.5 291.47L102 291.29L102.5 291.5L103 291.5L103.5 291.5L104 290.47L104.5 291.45L105 291.39L105.5 291.48L106 291.5L106.5 291.44L107 291.5L107.5 290.97L108 291.1L108.5 291.47L109 291.44L109.5 291.14L110 291.5L110.5 291.5L111 291.5L111.5 291.3L112 291.29L112.5 291.48L113 291.07L113.5 290.94L114 291.17L114.5 291.29L115 291.11L115.5 290.76L116 290.12L116.5 288.92L117 286.69L117.5 284.5L118 288.58L118.5 289.94L119 289.76L119.5 291.05L120 291.26L120.5 291.37L121 291.23L121.5 290.65L122 290.91L122.5 291.16L123 290.97L123.5 291.41L124 290.68L124.5 291.06L125 291.5L125.5 291.5L126 291.4L126.5 291.5L127 291.21L127.5 289.74L128 290.69L128.5 291.37L129 291.17L129.5 291.24L130 290.67L130.5 291.21L131 291.36L131.5 291.48L132 291.34L132.5 290.85L133 291.5L133.5 291.5L134 291.5L134.5 291.5L135 291.44L135.5 291.5L136 290.98L136.5 290.64L137 291.29L137.5 291.06L138 291.34L138.5 291.36L139 290.82L139.5 291.31L140 291.37L140.5 291.3L141 290.54L141.5 291.38L142 291.18L142.5 289.95L143 289.58L143.5 291.1L144 291.32L144.5 290.94L145 291.09L145.5 291.36L146 290.42L146.5 291.4L147 289.97L147.5 291.48L148 291.5L148.5 291.38L149 290.45L149.5 291.16L150 291.44L150.5 291.3L151 291.07L151.5 291.44L152 291.5L152.5 290.85L153 291.47L153.5 291.5L154 291.41L154.5 291.5L155 291.25L155.5 291.12L156 290.61L156.5 291.34L157 291.33L157.5 290.92L158 291.43L158.5 291.34L159 291.5L159.5 291.5L160 291.4L160.5 290.92L161 291.48L161.5 291.36L162 290.86L162.5 290.48L163 290.96L163.5 291.08L164 290.96L164.5 291.41L165 291.47L165.5 291.4L166 290.95L166.5 291.5L167 291.09L167.5 291.14L168 291.37L168.5 291.46L169 291.31L169.5 291.44L170 291.5L170.5 291.46L171 291.49L171.5 291.17L172 291.36L172.5 290.72L173 291.13L173.5 291.39L174 291.14L174.5 290.64L175 291.42L175.5 291.13L176 291.26L176.5 291.32L177 291.34L177.5 291.06L178 290.3L178.5 287.5L179 289.7L179.5 290.84L180 291.26L180.5 291.41L181 291.1L181.5 291.35L182 291.34L182.5 291.07L183 291.5L183.5 291.42L184 291.21L184.5 290.97L185 290.24L185.5 291.42L186 291.5L186.5 291.03L187 291.5L187.5 291.15L188 290.8L188.5 291.34L189 291.3L189.5 290.91L190 291.29L190.5 290.51L191 291.32L191.5 291.34L192 290.6L192.5 291.39L193 291.5L193.5 291.5L194 290.96L194.5 290.68L195 291.32L195.5 291.09L196 291.18L196.5 289.5L197 291.33L197.5 290.96L198 291.04L198.5 288.01L199 289.64L199.5 291.39L200 290.29L200.5 291.5L201 290.32L201.5 291.38L202 289.53L202.5 291.5L203 290.8L203.5 291.5L204 291.41L204.5 291.48L205 290.49L205.5 291.5L206 291.4L206.5 291.47L207 290.7L207.5 291.43L208 290.2L208.5 290.97L209 291.5L209.5 291.24L210 291.34L210.5 291.47L211 291.48L211.5 291.45L212 290.99L212.5 291.24L213 290.89L213.5 290.1L214 281.2L214.5 287.71L215 290.08L215.5 290.98L216 291.28L216.5 290.31L217 291.18L217.5 291.48L218 291.49L218.5 291.02L219 291.49L219.5 291.4L220 291.41L220.5 291.49L221 291.13L221.5 291.39L222 291.5L222.5 291.49L223 291.17L223.5 291.45L224 291.49L224.5 290.85L225 291.39L225.5 291.13L226 290.09L226.5 291.33L227 291.46L227.5 291.42L228 291.5L228.5 291.21L229 291.31L229.5 291.5L230 291.2L230.5 291.5L230.5 291.5Z" fill="#151515" fill-opacity="0.6"/>
<path d="M43.5 291.41L44 291.5L44.5 291.04L45 290.83L45.5 291.5L46 291.5L46.5 291.5L47 291.5L47.5 291.5L48 291.5L48.5 291.5L49 291.47L49.5 291.5L50 291.36L50.5 291.34L51 290.55L51.5 291.5L52 291.2L52.5 291.18L53 291.4L53.5 291.5L54 291.47L54.5 291.5L55 291.06L55.5 290.66L56 291.41L56.5 291.5L57 290.41L57.5 291.5L58 291.5L58.5 291.23L59 291.33L59.5 290.82L60 290.88L60.5 291.36L61 291.5L61.5 290.25L62 290.27L62.5 291.47L63 291.34L63.5 290.1L64 291.18L64.5 291.5L65 289.43L65.5 291.5L66 291.1L66.5 291.46L67 291.5L67.5 291.5L68 291.29L68.5 291.5L69 290.86L69.5 291.45L70 291.5L70.5 290.22L71 291.47L71.5 291.5L72 291.48L72.5 291.5L73 291.5L73.5 291.36L74 291.43L74.5 290.57L75 291.43L75.5 290.59L76 291.14L76.5 291.38L77 291.47L77.5 290.82L78 291.5L78.5 291.5L79 291.44L79.5 291.22L80 290.99L80.5 290.58L81 291.48L81.5 291.44L82 290.94L82.5 290.41L83 291.2L83.5 291.48L84 291.23L84.5 291.49L85 291.32L85.5 291.5L86 290.64L86.5 291.35L87 291.02L87.5 291.11L88 291.22L88.5 291.16L89 291.1L89.5 290.76L90 291.15L90.5 291.1L91 290.5L91.5 291.18L92 290.84L92.5 290.15L93 288.74L93.5 285L94 287.83L94.5 289.7L95 290.62L95.5 291.07L96 290.81L96.5 291.21L97 291.31L97.5 291.41L98 291.42L98.5 291.4L99 291.2L99.5 291.07L100 291.3L100.5 290.96L101 291.38L101.5 291.47L102 291.29L102.5 291.5L103 291.5L103.5 291.5L104 290.47L104.5 291.45L105 291.39L105.5 291.48L106 291.5L106.5 291.44L107 291.5L107.5 290.97L108 291.1L108.5 291.47L109 291.44L109.5 291.14L110 291.5L110.5 291.5L111 291.5L111.5 291.3L112 291.29L112.5 291.48L113 291.07L113.5 290.94L114 291.17L114.5 291.29L115 291.11L115.5 290.76L116 290.12L116.5 288.92L117 286.69L117.5 284.5L118 288.58L118.5 289.94L119 289.76L119.5 291.05L120 291.26L120.5 291.37L121 291.23L121.5 290.65L122 290.91L122.5 291.16L123 290.97L123.5 291.41L124 290.68L124.5 291.06L125 291.5L125.5 291.5L126 291.4L126.5 291.5L127 291.21L127.5 289.74L128 290.69L128.5 291.37L129 291.17L129.5 291.24L130 290.67L130.5 291.21L131 291.36L131.5 291.48L132 291.34L132.5 290.85L133 291.5L133.5 291.5L134 291.5L134.5 291.5L135 291.44L135.5 291.5L136 290.98L136.5 290.64L137 291.29L137.5 291.06L138 291.34L138.5 291.36L139 290.82L139.5 291.31L140 291.37L140.5 291.3L141 290.54L141.5 291.38L142 291.18L142.5 289.95L143 289.58L143.5 291.1L144 291.32L144.5 290.94L145 291.09L145.5 291.36L146 290.42L146.5 291.4L147 289.97L147.5 291.48L148 291.5L148.5 291.38L149 290.45L149.5 291.16L150 291.44L150.5 291.3L151 291.07L151.5 291.44L152 291.5L152.5 290.85L153 291.47L153.5 291.5L154 291.41L154.5 291.5L155 291.25L155.5 291.12L156 290.61L156.5 291.34L157 291.33L157.5 290.92L158 291.43L158.5 291.34L159 291.5L159.5 291.5L160 291.4L160.5 290.92L161 291.48L161.5 291.36L162 290.86L162.5 290.48L163 290.96L163.5 291.08L164 290.96L164.5 291.41L165 291.47L165.5 291.4L166 290.95L166.5 291.5L167 291.09L167.5 291.14L168 291.37L168.5 291.46L169 291.31L169.5 291.44L170 291.5L170.5 291.46L171 291.49L171.5 291.17L172 291.36L172.5 290.72L173 291.13L173.5 291.39L174 291.14L174.5 290.64L175 291.42L175.5 291.13L176 291.26L176.5 291.32L177 291.34L177.5 291.06L178 290.3L178.5 287.5L179 289.7L179.5 290.84L180 291.26L180.5 291.41L181 291.1L181.5 291.35L182 291.34L182.5 291.07L183 291.5L183.5 291.42L184 291.21L184.5 290.97L185 290.24L185.5 291.42L186 291.5L186.5 291.03L187 291.5L187.5 291.15L188 290.8L188.5 291.34L189 291.3L189.5 290.91L190 291.29L190.5 290.51L191 291.32L191.5 291.34L192 290.6L192.5 291.39L193 291.5L193.5 291.5L194 290.96L194.5 290.68L195 291.32L195.5 291.09L196 291.18L196.5 289.5L197 291.33L197.5 290.96L198 291.04L198.5 288.01L199 289.64L199.5 291.39L200 290.29L200.5 291.5L201 290.32L201.5 291.38L202 289.53L202.5 291.5L203 290.8L203.5 291.5L204 291.41L204.5 291.48L205 290.49L205.5 291.5L206 291.4L206.5 291.47L207 290.7L207.5 291.43L208 290.2L208.5 290.97L209 291.5L209.5 291.24L210 291.34L210.5 291.47L211 291.48L211.5 291.45L212 290.99L212.5 291.24L213 290.89L213.5 290.1L214 281.2L214.5 287.71L215 290.08L215.5 290.98L216 291.28L216.5 290.31L217 291.18L217.5 291.48L218 291.49L218.5 291.02L219 291.49L219.5 291.4L220 291.41L220.5 291.49L221 291.13L221.5 291.39L222 291.5L222.5 291.49L223 291.17L223.5 291.45L224 291.49L224.5 290.85L225 291.39L225.5 291.13L226 290.09L226.5 291.33L227 291.46L227.5 291.42L228 291.5L228.5 291.21L229 291.31L229.5 291.5L230 291.2L230.5 291.5" fill="none" stroke="#151515" stroke-width="0.62" stroke-linejoin="round"/>
<path d="M93.5 291.5V274.6M100.5 291.5V287M117.5 291.5V272.7M178.5 291.5V268.8M225.5 291.5V285M82.5 291.5V288M163.5 291.5V287M172.5 291.5V285" stroke="#151515" stroke-width="0.9"/>
<text x="46.1" y="301" font-size="6.3" fill="#4a6a50" textLength="11.7" lengthAdjust="spacingAndGlyphs">Tcf7</text>
<line x1="60" y1="298.8" x2="136.5" y2="298.8" stroke="#7fa888" stroke-width="0.7"/>
<path d="M63 297.5L61 298.8L63 300.1ZM66.2 297.5L64.2 298.8L66.2 300.1ZM69.4 297.5L67.4 298.8L69.4 300.1ZM72.6 297.5L70.6 298.8L72.6 300.1ZM75.8 297.5L73.8 298.8L75.8 300.1ZM79 297.5L77 298.8L79 300.1ZM82.2 297.5L80.2 298.8L82.2 300.1ZM85.4 297.5L83.4 298.8L85.4 300.1ZM88.6 297.5L86.6 298.8L88.6 300.1ZM91.8 297.5L89.8 298.8L91.8 300.1ZM95 297.5L93 298.8L95 300.1ZM98.2 297.5L96.2 298.8L98.2 300.1ZM101.4 297.5L99.4 298.8L101.4 300.1ZM104.6 297.5L102.6 298.8L104.6 300.1ZM107.8 297.5L105.8 298.8L107.8 300.1ZM111 297.5L109 298.8L111 300.1ZM114.2 297.5L112.2 298.8L114.2 300.1ZM117.4 297.5L115.4 298.8L117.4 300.1ZM120.6 297.5L118.6 298.8L120.6 300.1ZM123.8 297.5L121.8 298.8L123.8 300.1ZM127 297.5L125 298.8L127 300.1ZM130.2 297.5L128.2 298.8L130.2 300.1ZM133.4 297.5L131.4 298.8L133.4 300.1Z" fill="#34553d"/>
<rect x="67.1" y="296.9" width="0.8" height="3.8" fill="#1d3a24"/>
<rect x="72.3" y="296.9" width="0.8" height="3.8" fill="#1d3a24"/>
<rect x="76.1" y="296.9" width="0.8" height="3.8" fill="#1d3a24"/>
<rect x="80.1" y="296.9" width="0.8" height="3.8" fill="#1d3a24"/>
<rect x="82.4" y="296.9" width="0.8" height="3.8" fill="#1d3a24"/>
<rect x="135.8" y="296.9" width="0.8" height="3.8" fill="#1d3a24"/>
<rect x="60" y="297.4" width="4.7" height="2.8" fill="#173d22"/>
<rect x="69.8" y="297.4" width="1.4" height="2.8" fill="#173d22"/>
<rect x="352.8" y="175.6" width="1.1" height="117.8" fill="#cde7e7"/>
<rect x="365.6" y="175.6" width="2" height="117.8" fill="#cde8e8"/>
<rect x="377" y="175.6" width="1.2" height="117.8" fill="#cde7e7"/>
<rect x="450.8" y="175.6" width="1.2" height="117.8" fill="#cde7e7"/>
<line x1="275" y1="169.8" x2="456.2" y2="169.8" stroke="#3a3a3a" stroke-width="1.15"/>
<path d="M273 169.8L277.4 168L277.4 171.6Z" fill="#1e1e1e"/>
<path d="M458.2 169.8L453.8 168L453.8 171.6Z" fill="#1e1e1e"/>
<text x="355.8" y="165.8" font-size="6.9" fill="#2a2a2a" textLength="19.7" lengthAdjust="spacingAndGlyphs">120 kb</text>
<text x="431.9" y="166.6" font-size="8.4" font-weight="bold" font-style="italic" fill="#111" textLength="18.4" lengthAdjust="spacingAndGlyphs">Pfkp</text>
<line x1="272.3" y1="176.4" x2="272.3" y2="213.4" stroke="#1e1e1e" stroke-width="1.0"/>
<line x1="269.1" y1="178.8" x2="272.3" y2="178.8" stroke="#1e1e1e" stroke-width="0.9"/>
<line x1="269.1" y1="210.8" x2="272.3" y2="210.8" stroke="#1e1e1e" stroke-width="0.9"/>
<text x="259.6" y="181.1" font-size="6.6" fill="#2e2e2e" textLength="6.9" lengthAdjust="spacingAndGlyphs">80</text>
<text x="263.05" y="213.1" font-size="6.6" fill="#2e2e2e" textLength="3.45" lengthAdjust="spacingAndGlyphs">0</text>
<text x="-199.35" y="254.02" font-size="8.4" font-weight="bold" fill="#1a1a1a" textLength="9.1" lengthAdjust="spacingAndGlyphs" transform="rotate(-90)">WT</text>
<line x1="272.3" y1="217.1" x2="272.3" y2="253.4" stroke="#1e1e1e" stroke-width="1.0"/>
<line x1="269.1" y1="219.5" x2="272.3" y2="219.5" stroke="#1e1e1e" stroke-width="0.9"/>
<line x1="269.1" y1="250.8" x2="272.3" y2="250.8" stroke="#1e1e1e" stroke-width="0.9"/>
<text x="259.6" y="221.8" font-size="6.6" fill="#2e2e2e" textLength="6.9" lengthAdjust="spacingAndGlyphs">80</text>
<text x="263.05" y="253.1" font-size="6.6" fill="#2e2e2e" textLength="3.45" lengthAdjust="spacingAndGlyphs">0</text>
<text x="-244.15" y="254.02" font-size="8.4" font-weight="bold" fill="#1a1a1a" textLength="18" lengthAdjust="spacingAndGlyphs" transform="rotate(-90)">Interm.</text>
<line x1="272.3" y1="256.8" x2="272.3" y2="293.4" stroke="#1e1e1e" stroke-width="1.0"/>
<line x1="269.1" y1="259.2" x2="272.3" y2="259.2" stroke="#1e1e1e" stroke-width="0.9"/>
<line x1="269.1" y1="290.8" x2="272.3" y2="290.8" stroke="#1e1e1e" stroke-width="0.9"/>
<text x="259.6" y="261.5" font-size="6.6" fill="#2e2e2e" textLength="6.9" lengthAdjust="spacingAndGlyphs">80</text>
<text x="263.05" y="293.1" font-size="6.6" fill="#2e2e2e" textLength="3.45" lengthAdjust="spacingAndGlyphs">0</text>
<text x="-280.3" y="254.02" font-size="8.4" font-weight="bold" fill="#1a1a1a" textLength="10.6" lengthAdjust="spacingAndGlyphs" transform="rotate(-90)">Late</text>
<path d="M273.5 210.8L273.5 210.21L274 210.8L274.5 210.8L275 210.72L275.5 210.79L276 210.62L276.5 210.21L277 210.8L277.5 210.19L278 210.48L278.5 210.42L279 210.55L279.5 210.77L280 210.8L280.5 209.99L281 210.7L281.5 210.63L282 210.63L282.5 210.8L283 210.78L283.5 210.8L284 210.32L284.5 210.65L285 210.79L285.5 210.51L286 210.56L286.5 210.68L287 210.8L287.5 210.51L288 210.23L288.5 210.73L289 210.76L289.5 210.7L290 210.73L290.5 210.8L291 210.8L291.5 210.8L292 210.77L292.5 210.52L293 210.6L293.5 210.79L294 210.8L294.5 210.68L295 210.8L295.5 210.33L296 210.72L296.5 210.64L297 210.07L297.5 210.76L298 210.56L298.5 210.63L299 210.8L299.5 210.79L300 210.8L300.5 210.8L301 210.56L301.5 210.71L302 210.8L302.5 210.8L303 210.8L303.5 210.8L304 210.76L304.5 210.8L305 210.71L305.5 210.8L306 210.8L306.5 210.62L307 210.8L307.5 210.8L308 210.65L308.5 210.72L309 210.78L309.5 210.8L310 210.8L310.5 210.79L311 210.28L311.5 210.68L312 210.65L312.5 210.31L313 210.55L313.5 210.8L314 210.68L314.5 210.63L315 210.8L315.5 210.7L316 210.78L316.5 210.8L317 210.47L317.5 210.59L318 210.74L318.5 210.7L319 210.8L319.5 210.8L320 210.65L320.5 210.55L321 210.78L321.5 210.74L322 210.8L322.5 210.8L323 210.57L323.5 210.65L324 210.73L324.5 210.8L325 210.68L325.5 210.76L326 210.79L326.5 210.76L327 210.66L327.5 210.74L327.5 210.8ZM334.5 210.8L334.5 210.6L335 210.44L335.5 210.61L336 210.71L336.5 210.49L337 210.77L337.5 210.8L338 210.33L338.5 210.71L339 210.75L339.5 210.75L340 210.8L340.5 210.8L341 210.67L341.5 210.66L342 210.8L342.5 210.77L343 210.66L343.5 210.66L344 210.69L344.5 210.8L345 210.45L345.5 210.8L346 210.33L346.5 210.8L347 210.8L347.5 210.8L348 210.74L348.5 210.68L349 210.7L349.5 210.8L350 210.65L350.5 210.78L351 210.8L351.5 210.74L352 210.78L352.5 210.31L353 210.69L353.5 210.8L354 210.8L354.5 210.69L355 210.8L355.5 210.8L356 210.57L356.5 210.76L357 210.66L357.5 210.3L358 210.66L358.5 210.7L359 210.7L359.5 210.73L360 210.67L360.5 210.58L361 210.68L361.5 210.56L362 210.77L362.5 210.6L363 210.8L363.5 210.66L364 210.8L364.5 210.59L365 210.26L365.5 209.56L366 210.23L366.5 208.92L367 209.46L367.5 210.2L368 210.38L368.5 210.68L369 210.79L369.5 210.65L370 210.8L370.5 210.62L371 210.8L371.5 210.44L372 210.8L372.5 210.8L373 210.65L373.5 210.8L374 210.66L374.5 210.8L375 210.79L375.5 210.73L376 210.5L376.5 210.55L377 210.78L377.5 210.51L378 210.52L378.5 210.61L379 210.8L379.5 210.8L380 210.59L380.5 210.8L381 210.79L381.5 210.66L382 210.3L382.5 210.08L383 210.58L383.5 210.35L384 210.67L384.5 210.53L385 209.58L385.5 210.5L386 210.08L386.5 209.97L387 207.49L387.5 209.42L388 207.5L388.5 208.53L389 209.59L389.5 208.19L390 208.62L390.5 209.13L391 209.55L391.5 209.35L392 209.41L392.5 210.32L393 209.95L393.5 210.8L394 210.52L394.5 210.21L395 210.8L395.5 210.7L396 210.5L396.5 210.8L397 210.25L397.5 210.8L398 210.8L398.5 210.73L399 210.79L399.5 210.8L400 210.72L400.5 210.52L401 210.46L401.5 210.8L402 210.75L402.5 210.77L403 210.38L403.5 210.65L404 210.6L404.5 210.77L405 210.26L405.5 210.8L406 210.61L406.5 210.22L407 210.8L407.5 210.59L408 210.62L408.5 210.67L409 210.8L409.5 210.71L410 210.8L410.5 210.8L411 210.69L411.5 210.8L412 210.78L412.5 210.66L413 210.37L413.5 210.8L414 210.65L414.5 210.8L415 210.66L415.5 210.8L416 210.56L416.5 210.8L417 210.8L417.5 210.8L418 210.8L418 210.8ZM426.5 210.8L426.5 210.55L427 210.8L427.5 210.66L428 210.65L428.5 210.69L429 210.8L429.5 210.8L430 210.8L430.5 210.78L431 210.8L431.5 210.46L432 210.42L432.5 210.48L433 210.79L433.5 210.8L434 210.48L434.5 210.75L435 210.8L435.5 210.67L436 210.57L436.5 210.8L437 210.78L437.5 210.8L438 210.17L438.5 210.76L439 210.73L439.5 210.64L440 210.71L440.5 210.68L441 210.18L441.5 210.8L442 210.12L442.5 210.64L443 210.51L443.5 210.69L444 210.79L444.5 210.8L445 210.8L445.5 210.76L446 210.6L446.5 210.8L447 210.8L447.5 210.73L448 210.59L448.5 210.8L449 210.49L449.5 210.57L450 210.78L450.5 210.73L451 210.56L451.5 210.3L452 210.6L452.5 210.77L453 210.79L453.5 210.74L454 210.8L454.5 210.8L455 210.72L455.5 210.64L456 210.57L456.5 210.14L457 210.79L457.5 210.77L458 210.62L458 210.8Z" fill="#151515" fill-opacity="0.55"/>
<path d="M273.5 210.21L274 210.8L274.5 210.8L275 210.72L275.5 210.79L276 210.62L276.5 210.21L277 210.8L277.5 210.19L278 210.48L278.5 210.42L279 210.55L279.5 210.77L280 210.8L280.5 209.99L281 210.7L281.5 210.63L282 210.63L282.5 210.8L283 210.78L283.5 210.8L284 210.32L284.5 210.65L285 210.79L285.5 210.51L286 210.56L286.5 210.68L287 210.8L287.5 210.51L288 210.23L288.5 210.73L289 210.76L289.5 210.7L290 210.73L290.5 210.8L291 210.8L291.5 210.8L292 210.77L292.5 210.52L293 210.6L293.5 210.79L294 210.8L294.5 210.68L295 210.8L295.5 210.33L296 210.72L296.5 210.64L297 210.07L297.5 210.76L298 210.56L298.5 210.63L299 210.8L299.5 210.79L300 210.8L300.5 210.8L301 210.56L301.5 210.71L302 210.8L302.5 210.8L303 210.8L303.5 210.8L304 210.76L304.5 210.8L305 210.71L305.5 210.8L306 210.8L306.5 210.62L307 210.8L307.5 210.8L308 210.65L308.5 210.72L309 210.78L309.5 210.8L310 210.8L310.5 210.79L311 210.28L311.5 210.68L312 210.65L312.5 210.31L313 210.55L313.5 210.8L314 210.68L314.5 210.63L315 210.8L315.5 210.7L316 210.78L316.5 210.8L317 210.47L317.5 210.59L318 210.74L318.5 210.7L319 210.8L319.5 210.8L320 210.65L320.5 210.55L321 210.78L321.5 210.74L322 210.8L322.5 210.8L323 210.57L323.5 210.65L324 210.73L324.5 210.8L325 210.68L325.5 210.76L326 210.79L326.5 210.76L327 210.66L327.5 210.74M334.5 210.6L335 210.44L335.5 210.61L336 210.71L336.5 210.49L337 210.77L337.5 210.8L338 210.33L338.5 210.71L339 210.75L339.5 210.75L340 210.8L340.5 210.8L341 210.67L341.5 210.66L342 210.8L342.5 210.77L343 210.66L343.5 210.66L344 210.69L344.5 210.8L345 210.45L345.5 210.8L346 210.33L346.5 210.8L347 210.8L347.5 210.8L348 210.74L348.5 210.68L349 210.7L349.5 210.8L350 210.65L350.5 210.78L351 210.8L351.5 210.74L352 210.78L352.5 210.31L353 210.69L353.5 210.8L354 210.8L354.5 210.69L355 210.8L355.5 210.8L356 210.57L356.5 210.76L357 210.66L357.5 210.3L358 210.66L358.5 210.7L359 210.7L359.5 210.73L360 210.67L360.5 210.58L361 210.68L361.5 210.56L362 210.77L362.5 210.6L363 210.8L363.5 210.66L364 210.8L364.5 210.59L365 210.26L365.5 209.56L366 210.23L366.5 208.92L367 209.46L367.5 210.2L368 210.38L368.5 210.68L369 210.79L369.5 210.65L370 210.8L370.5 210.62L371 210.8L371.5 210.44L372 210.8L372.5 210.8L373 210.65L373.5 210.8L374 210.66L374.5 210.8L375 210.79L375.5 210.73L376 210.5L376.5 210.55L377 210.78L377.5 210.51L378 210.52L378.5 210.61L379 210.8L379.5 210.8L380 210.59L380.5 210.8L381 210.79L381.5 210.66L382 210.3L382.5 210.08L383 210.58L383.5 210.35L384 210.67L384.5 210.53L385 209.58L385.5 210.5L386 210.08L386.5 209.97L387 207.49L387.5 209.42L388 207.5L388.5 208.53L389 209.59L389.5 208.19L390 208.62L390.5 209.13L391 209.55L391.5 209.35L392 209.41L392.5 210.32L393 209.95L393.5 210.8L394 210.52L394.5 210.21L395 210.8L395.5 210.7L396 210.5L396.5 210.8L397 210.25L397.5 210.8L398 210.8L398.5 210.73L399 210.79L399.5 210.8L400 210.72L400.5 210.52L401 210.46L401.5 210.8L402 210.75L402.5 210.77L403 210.38L403.5 210.65L404 210.6L404.5 210.77L405 210.26L405.5 210.8L406 210.61L406.5 210.22L407 210.8L407.5 210.59L408 210.62L408.5 210.67L409 210.8L409.5 210.71L410 210.8L410.5 210.8L411 210.69L411.5 210.8L412 210.78L412.5 210.66L413 210.37L413.5 210.8L414 210.65L414.5 210.8L415 210.66L415.5 210.8L416 210.56L416.5 210.8L417 210.8L417.5 210.8L418 210.8M426.5 210.55L427 210.8L427.5 210.66L428 210.65L428.5 210.69L429 210.8L429.5 210.8L430 210.8L430.5 210.78L431 210.8L431.5 210.46L432 210.42L432.5 210.48L433 210.79L433.5 210.8L434 210.48L434.5 210.75L435 210.8L435.5 210.67L436 210.57L436.5 210.8L437 210.78L437.5 210.8L438 210.17L438.5 210.76L439 210.73L439.5 210.64L440 210.71L440.5 210.68L441 210.18L441.5 210.8L442 210.12L442.5 210.64L443 210.51L443.5 210.69L444 210.79L444.5 210.8L445 210.8L445.5 210.76L446 210.6L446.5 210.8L447 210.8L447.5 210.73L448 210.59L448.5 210.8L449 210.49L449.5 210.57L450 210.78L450.5 210.73L451 210.56L451.5 210.3L452 210.6L452.5 210.77L453 210.79L453.5 210.74L454 210.8L454.5 210.8L455 210.72L455.5 210.64L456 210.57L456.5 210.14L457 210.79L457.5 210.77L458 210.62" fill="none" stroke="#151515" stroke-width="0.62" stroke-linejoin="round"/>
<path d="M357.5 210.8V206.6M366.5 210.8V195.1M386.5 210.8V204M389.5 210.8V203M451.5 210.8V206.6" stroke="#151515" stroke-width="0.9"/>
<line x1="386.5" y1="204" x2="386.5" y2="178.5" stroke="#151515" stroke-width="0.9" stroke-dasharray="1.4 1.1" stroke-opacity="0.75"/>
<line x1="389.5" y1="203" x2="389.5" y2="179.5" stroke="#151515" stroke-width="0.9" stroke-dasharray="1.4 1.1" stroke-opacity="0.75"/>
<path d="M273.5 250.8L273.5 250.74L274 250.8L274.5 250.55L275 250.52L275.5 250.8L276 250.42L276.5 250.77L277 250.58L277.5 249.72L278 250.8L278.5 250.53L279 250.57L279.5 250.8L280 249.98L280.5 250.6L281 250.34L281.5 250.77L282 250.57L282.5 250.8L283 250.53L283.5 250.8L284 250.35L284.5 250.77L285 250.38L285.5 250.8L286 250.57L286.5 250.8L287 250.51L287.5 250.4L288 250.68L288.5 250.69L289 250.8L289.5 250.75L290 250.32L290.5 250.8L291 250.35L291.5 250.8L292 250.6L292.5 250.79L293 250.76L293.5 250.56L294 250.8L294.5 250.54L295 250.06L295.5 250.8L296 250.61L296.5 250.65L297 250.53L297.5 250.65L298 250.56L298.5 250.8L299 250.77L299.5 250.43L300 250.61L300.5 250.8L301 250.74L301.5 250.74L302 250.78L302.5 250.8L303 250.8L303.5 250.43L304 250.8L304.5 250.5L305 250.8L305.5 250.7L306 250.8L306.5 250.37L307 250.58L307.5 250.44L308 250.49L308.5 250.76L309 250.55L309.5 250.53L310 250.66L310.5 250.8L311 250.8L311.5 250.54L312 250.79L312.5 250.8L313 250.51L313.5 250.8L314 250.7L314.5 250.8L315 250.76L315.5 250.8L316 250.31L316.5 250.8L317 250.31L317.5 250.8L318 250.32L318.5 250.8L319 250.4L319.5 250.76L320 250.64L320.5 250.74L321 250.73L321.5 250.8L322 250.45L322.5 250.75L323 250.74L323.5 250.78L324 250.8L324.5 250.69L325 250.8L325.5 250.58L326 250.8L326.5 250.19L327 250.79L327.5 250.7L327.5 250.8ZM334.5 250.8L334.5 250.78L335 250.8L335.5 250.8L336 249.96L336.5 250.67L337 250.8L337.5 250.8L338 250.8L338.5 250.45L339 250.8L339.5 250.8L340 250.18L340.5 250.68L341 250.6L341.5 250.26L342 250.8L342.5 250.7L343 250.15L343.5 250.8L344 250.65L344.5 250.76L345 250.73L345.5 250.64L346 250.8L346.5 250.46L347 250.8L347.5 250.8L348 250.8L348.5 249.92L349 250.8L349.5 250.63L350 250.8L350.5 250.78L351 250.17L351.5 250.18L352 250.67L352.5 250.75L353 250.69L353.5 250.71L354 250.8L354.5 250.78L355 250.66L355.5 250.8L356 250.8L356.5 250.8L357 250.71L357.5 250.74L358 250.21L358.5 250.8L359 250.51L359.5 250.26L360 250.75L360.5 250.69L361 250.8L361.5 250.68L362 250.42L362.5 250.54L363 250.69L363.5 250.8L364 250.32L364.5 250.3L365 250.62L365.5 250.37L366 250.21L366.5 249.83L367 250.52L367.5 249.87L368 250.28L368.5 250.74L369 250.78L369.5 250.68L370 250.8L370.5 250.8L371 250.8L371.5 250.8L372 249.82L372.5 250.64L373 250.77L373.5 250.56L374 250.8L374.5 250.8L375 250.8L375.5 250.8L376 250.49L376.5 250.8L377 250.8L377.5 250.16L378 250.37L378.5 250.8L379 250.21L379.5 250.64L380 250.61L380.5 250.71L381 250.28L381.5 250.5L382 250.67L382.5 250.8L383 250.8L383.5 250.68L384 250.79L384.5 250.66L385 250.58L385.5 249.85L386 250.49L386.5 250.12L387 248.41L387.5 247.13L388 248.7L388.5 248L389 249L389.5 249L390 248.82L390.5 250.14L391 250.24L391.5 249.78L392 249.68L392.5 250.79L393 250.79L393.5 250.5L394 250.8L394.5 249.9L395 250.8L395.5 250.48L396 250.66L396.5 250.26L397 250.8L397.5 250.54L398 250.8L398.5 250.63L399 250.78L399.5 250.77L400 250.8L400.5 250.8L401 250.22L401.5 250.67L402 250.78L402.5 250.74L403 250.63L403.5 250.78L404 250.52L404.5 250.69L405 250.8L405.5 250.8L406 250.8L406.5 250.11L407 250L407.5 250.67L408 250.73L408.5 250.43L409 250.7L409.5 250.8L410 250.73L410.5 250.8L411 250.75L411.5 250.65L412 250.8L412.5 250.34L413 250.8L413.5 250.71L414 250.8L414.5 250.44L415 250.53L415.5 250.5L416 250.64L416.5 250.76L417 250.8L417.5 250.8L418 250.37L418 250.8ZM426.5 250.8L426.5 250.72L427 250.69L427.5 250.8L428 250.75L428.5 250.75L429 250.43L429.5 250.24L430 250.8L430.5 250.8L431 250.7L431.5 250.48L432 250.8L432.5 250.73L433 250.8L433.5 250.8L434 250.76L434.5 250.77L435 250.25L435.5 250.73L436 250.61L436.5 250.8L437 250.67L437.5 250.68L438 250.44L438.5 250.77L439 250.22L439.5 250.76L440 250.39L440.5 250.78L441 250.8L441.5 250.72L442 250.51L442.5 250.7L443 250.8L443.5 250.8L444 250.7L444.5 250.68L445 250.7L445.5 250.8L446 250.36L446.5 250.79L447 250L447.5 250.8L448 250.68L448.5 250.8L449 250.69L449.5 250.79L450 250.14L450.5 250.67L451 250.46L451.5 250.55L452 250.51L452.5 250.79L453 250.8L453.5 250.78L454 250.75L454.5 250.8L455 250.77L455.5 250.79L456 250.79L456.5 250.8L457 250.51L457.5 250.2L458 250.8L458 250.8Z" fill="#6a6a6a" fill-opacity="0.45"/>
<path d="M273.5 250.74L274 250.8L274.5 250.55L275 250.52L275.5 250.8L276 250.42L276.5 250.77L277 250.58L277.5 249.72L278 250.8L278.5 250.53L279 250.57L279.5 250.8L280 249.98L280.5 250.6L281 250.34L281.5 250.77L282 250.57L282.5 250.8L283 250.53L283.5 250.8L284 250.35L284.5 250.77L285 250.38L285.5 250.8L286 250.57L286.5 250.8L287 250.51L287.5 250.4L288 250.68L288.5 250.69L289 250.8L289.5 250.75L290 250.32L290.5 250.8L291 250.35L291.5 250.8L292 250.6L292.5 250.79L293 250.76L293.5 250.56L294 250.8L294.5 250.54L295 250.06L295.5 250.8L296 250.61L296.5 250.65L297 250.53L297.5 250.65L298 250.56L298.5 250.8L299 250.77L299.5 250.43L300 250.61L300.5 250.8L301 250.74L301.5 250.74L302 250.78L302.5 250.8L303 250.8L303.5 250.43L304 250.8L304.5 250.5L305 250.8L305.5 250.7L306 250.8L306.5 250.37L307 250.58L307.5 250.44L308 250.49L308.5 250.76L309 250.55L309.5 250.53L310 250.66L310.5 250.8L311 250.8L311.5 250.54L312 250.79L312.5 250.8L313 250.51L313.5 250.8L314 250.7L314.5 250.8L315 250.76L315.5 250.8L316 250.31L316.5 250.8L317 250.31L317.5 250.8L318 250.32L318.5 250.8L319 250.4L319.5 250.76L320 250.64L320.5 250.74L321 250.73L321.5 250.8L322 250.45L322.5 250.75L323 250.74L323.5 250.78L324 250.8L324.5 250.69L325 250.8L325.5 250.58L326 250.8L326.5 250.19L327 250.79L327.5 250.7M334.5 250.78L335 250.8L335.5 250.8L336 249.96L336.5 250.67L337 250.8L337.5 250.8L338 250.8L338.5 250.45L339 250.8L339.5 250.8L340 250.18L340.5 250.68L341 250.6L341.5 250.26L342 250.8L342.5 250.7L343 250.15L343.5 250.8L344 250.65L344.5 250.76L345 250.73L345.5 250.64L346 250.8L346.5 250.46L347 250.8L347.5 250.8L348 250.8L348.5 249.92L349 250.8L349.5 250.63L350 250.8L350.5 250.78L351 250.17L351.5 250.18L352 250.67L352.5 250.75L353 250.69L353.5 250.71L354 250.8L354.5 250.78L355 250.66L355.5 250.8L356 250.8L356.5 250.8L357 250.71L357.5 250.74L358 250.21L358.5 250.8L359 250.51L359.5 250.26L360 250.75L360.5 250.69L361 250.8L361.5 250.68L362 250.42L362.5 250.54L363 250.69L363.5 250.8L364 250.32L364.5 250.3L365 250.62L365.5 250.37L366 250.21L366.5 249.83L367 250.52L367.5 249.87L368 250.28L368.5 250.74L369 250.78L369.5 250.68L370 250.8L370.5 250.8L371 250.8L371.5 250.8L372 249.82L372.5 250.64L373 250.77L373.5 250.56L374 250.8L374.5 250.8L375 250.8L375.5 250.8L376 250.49L376.5 250.8L377 250.8L377.5 250.16L378 250.37L378.5 250.8L379 250.21L379.5 250.64L380 250.61L380.5 250.71L381 250.28L381.5 250.5L382 250.67L382.5 250.8L383 250.8L383.5 250.68L384 250.79L384.5 250.66L385 250.58L385.5 249.85L386 250.49L386.5 250.12L387 248.41L387.5 247.13L388 248.7L388.5 248L389 249L389.5 249L390 248.82L390.5 250.14L391 250.24L391.5 249.78L392 249.68L392.5 250.79L393 250.79L393.5 250.5L394 250.8L394.5 249.9L395 250.8L395.5 250.48L396 250.66L396.5 250.26L397 250.8L397.5 250.54L398 250.8L398.5 250.63L399 250.78L399.5 250.77L400 250.8L400.5 250.8L401 250.22L401.5 250.67L402 250.78L402.5 250.74L403 250.63L403.5 250.78L404 250.52L404.5 250.69L405 250.8L405.5 250.8L406 250.8L406.5 250.11L407 250L407.5 250.67L408 250.73L408.5 250.43L409 250.7L409.5 250.8L410 250.73L410.5 250.8L411 250.75L411.5 250.65L412 250.8L412.5 250.34L413 250.8L413.5 250.71L414 250.8L414.5 250.44L415 250.53L415.5 250.5L416 250.64L416.5 250.76L417 250.8L417.5 250.8L418 250.37M426.5 250.72L427 250.69L427.5 250.8L428 250.75L428.5 250.75L429 250.43L429.5 250.24L430 250.8L430.5 250.8L431 250.7L431.5 250.48L432 250.8L432.5 250.73L433 250.8L433.5 250.8L434 250.76L434.5 250.77L435 250.25L435.5 250.73L436 250.61L436.5 250.8L437 250.67L437.5 250.68L438 250.44L438.5 250.77L439 250.22L439.5 250.76L440 250.39L440.5 250.78L441 250.8L441.5 250.72L442 250.51L442.5 250.7L443 250.8L443.5 250.8L444 250.7L444.5 250.68L445 250.7L445.5 250.8L446 250.36L446.5 250.79L447 250L447.5 250.8L448 250.68L448.5 250.8L449 250.69L449.5 250.79L450 250.14L450.5 250.67L451 250.46L451.5 250.55L452 250.51L452.5 250.79L453 250.8L453.5 250.78L454 250.75L454.5 250.8L455 250.77L455.5 250.79L456 250.79L456.5 250.8L457 250.51L457.5 250.2L458 250.8" fill="none" stroke="#6a6a6a" stroke-width="0.55" stroke-linejoin="round"/>
<path d="M366.5 250.8V242.7M387.5 250.8V232.3M389.5 250.8V235.8M451.5 250.8V248" stroke="#6a6a6a" stroke-width="0.9"/>
<path d="M273.5 290.8L273.5 290.79L274 290.52L274.5 290.8L275 290.49L275.5 290.79L276 290.63L276.5 289.75L277 290.71L277.5 290.8L278 290.78L278.5 290.8L279 290.45L279.5 290.04L280 290.43L280.5 290.8L281 290.34L281.5 290.78L282 290.73L282.5 290.7L283 290.22L283.5 290.76L284 290.7L284.5 290.63L285 290.8L285.5 290.8L286 290.79L286.5 290.75L287 290.8L287.5 290.58L288 290.8L288.5 290.74L289 290.74L289.5 290.8L290 290.75L290.5 290.68L291 290.47L291.5 290.7L292 290.06L292.5 290.53L293 290.73L293.5 290.68L294 290.8L294.5 290.8L295 290.65L295.5 290.8L296 290.8L296.5 290.59L297 290.5L297.5 290.8L298 290.8L298.5 290.24L299 290.8L299.5 290.79L300 290.8L300.5 290.66L301 290.8L301.5 290.8L302 290.66L302.5 290.37L303 290.64L303.5 290.72L304 290.68L304.5 290.75L305 290.75L305.5 290.59L306 290.8L306.5 290.8L307 290.74L307.5 290.77L308 290.67L308.5 290.8L309 290.78L309.5 290.67L310 289.93L310.5 290.71L311 290.76L311.5 290.73L312 290.8L312.5 290.39L313 289.28L313.5 290.8L314 290.8L314.5 290.8L315 290.66L315.5 290.79L316 290.8L316.5 290.48L317 290.14L317.5 290.53L318 290.07L318.5 290.51L319 290.65L319.5 290.12L320 290.61L320.5 290.77L321 290.61L321.5 290.62L322 290.8L322.5 290.54L323 290.57L323.5 290.51L324 289.44L324.5 290.75L325 290.8L325.5 290.8L326 290.8L326.5 290.76L327 290.8L327.5 289.88L327.5 290.8ZM334.5 290.8L334.5 290.44L335 290.21L335.5 290.78L336 290.61L336.5 290.59L337 290.3L337.5 290.68L338 290.49L338.5 290.52L339 290.8L339.5 290.8L340 290.8L340.5 290.42L341 290.77L341.5 290.8L342 290.8L342.5 290.8L343 290.8L343.5 290.74L344 290.8L344.5 290.8L345 290.6L345.5 290.8L346 290.8L346.5 290.8L347 290.8L347.5 290.8L348 290.52L348.5 290.8L349 290.8L349.5 290.8L350 290.8L350.5 290.47L351 290.8L351.5 290.8L352 290.44L352.5 290.47L353 290.75L353.5 290.8L354 290.8L354.5 290.58L355 290.8L355.5 290.21L356 290.8L356.5 290.11L357 290.68L357.5 290.6L358 290.62L358.5 290.8L359 290.25L359.5 290.8L360 290.8L360.5 290.7L361 290.72L361.5 290.79L362 290.79L362.5 290.72L363 290.73L363.5 290.21L364 289.66L364.5 289.79L365 289.45L365.5 286.95L366 287.96L366.5 287.5L367 288.89L367.5 289.85L368 287.93L368.5 290.3L369 288.78L369.5 288.85L370 290.76L370.5 290.78L371 290.46L371.5 290.79L372 290.17L372.5 290.53L373 290.8L373.5 290.32L374 290.74L374.5 290.5L375 290.73L375.5 290.73L376 290.77L376.5 290.54L377 290.64L377.5 290.69L378 290.55L378.5 290.8L379 290.8L379.5 290.8L380 290.8L380.5 290.8L381 290.51L381.5 290.75L382 290.79L382.5 290.69L383 290.77L383.5 290.69L384 290.58L384.5 290.35L385 288.45L385.5 289.96L386 285L386.5 287.44L387 283.67L387.5 287.57L388 286.4L388.5 284L389 285.11L389.5 288.02L390 283.56L390.5 287.13L391 286.41L391.5 287.64L392 289.49L392.5 290.4L393 290.75L393.5 290.43L394 290.52L394.5 290.45L395 290.68L395.5 290.4L396 290.35L396.5 290.6L397 290.4L397.5 290.46L398 290.8L398.5 290.8L399 290.8L399.5 290.53L400 290.8L400.5 290.58L401 290.8L401.5 290.75L402 290.62L402.5 290.68L403 290.55L403.5 290.77L404 290.64L404.5 290.75L405 290.8L405.5 290.8L406 290.73L406.5 290.75L407 290.64L407.5 290.8L408 290.55L408.5 290.8L409 290.37L409.5 290.68L410 290.21L410.5 290.8L411 290.78L411.5 290.77L412 289.73L412.5 290.8L413 290.47L413.5 290.67L414 290.8L414.5 290.8L415 290.6L415.5 290.8L416 290.8L416.5 290.75L417 290.76L417.5 290.67L418 290.74L418 290.8ZM426.5 290.8L426.5 290.8L427 290.56L427.5 290.8L428 290.57L428.5 290.63L429 290.8L429.5 290.8L430 290.76L430.5 290.8L431 290.73L431.5 290.55L432 290.66L432.5 290.68L433 290.78L433.5 290.8L434 290.17L434.5 290.07L435 290.58L435.5 290.62L436 290.78L436.5 290.57L437 290.55L437.5 290.8L438 290.8L438.5 290.67L439 290.06L439.5 289.87L440 290.69L440.5 290.5L441 290.8L441.5 290.63L442 290.55L442.5 290.8L443 290.74L443.5 290.63L444 290.8L444.5 290.8L445 290.77L445.5 290.54L446 290.42L446.5 290.63L447 290.8L447.5 290.36L448 290.47L448.5 290.8L449 290.44L449.5 290.61L450 290.64L450.5 290.51L451 290.46L451.5 290.56L452 289.68L452.5 290.46L453 290.44L453.5 290.65L454 290.8L454.5 290.8L455 290.64L455.5 290.8L456 290.58L456.5 290.07L457 290.58L457.5 290.8L458 290.8L458 290.8Z" fill="#151515" fill-opacity="0.6"/>
<path d="M273.5 290.79L274 290.52L274.5 290.8L275 290.49L275.5 290.79L276 290.63L276.5 289.75L277 290.71L277.5 290.8L278 290.78L278.5 290.8L279 290.45L279.5 290.04L280 290.43L280.5 290.8L281 290.34L281.5 290.78L282 290.73L282.5 290.7L283 290.22L283.5 290.76L284 290.7L284.5 290.63L285 290.8L285.5 290.8L286 290.79L286.5 290.75L287 290.8L287.5 290.58L288 290.8L288.5 290.74L289 290.74L289.5 290.8L290 290.75L290.5 290.68L291 290.47L291.5 290.7L292 290.06L292.5 290.53L293 290.73L293.5 290.68L294 290.8L294.5 290.8L295 290.65L295.5 290.8L296 290.8L296.5 290.59L297 290.5L297.5 290.8L298 290.8L298.5 290.24L299 290.8L299.5 290.79L300 290.8L300.5 290.66L301 290.8L301.5 290.8L302 290.66L302.5 290.37L303 290.64L303.5 290.72L304 290.68L304.5 290.75L305 290.75L305.5 290.59L306 290.8L306.5 290.8L307 290.74L307.5 290.77L308 290.67L308.5 290.8L309 290.78L309.5 290.67L310 289.93L310.5 290.71L311 290.76L311.5 290.73L312 290.8L312.5 290.39L313 289.28L313.5 290.8L314 290.8L314.5 290.8L315 290.66L315.5 290.79L316 290.8L316.5 290.48L317 290.14L317.5 290.53L318 290.07L318.5 290.51L319 290.65L319.5 290.12L320 290.61L320.5 290.77L321 290.61L321.5 290.62L322 290.8L322.5 290.54L323 290.57L323.5 290.51L324 289.44L324.5 290.75L325 290.8L325.5 290.8L326 290.8L326.5 290.76L327 290.8L327.5 289.88M334.5 290.44L335 290.21L335.5 290.78L336 290.61L336.5 290.59L337 290.3L337.5 290.68L338 290.49L338.5 290.52L339 290.8L339.5 290.8L340 290.8L340.5 290.42L341 290.77L341.5 290.8L342 290.8L342.5 290.8L343 290.8L343.5 290.74L344 290.8L344.5 290.8L345 290.6L345.5 290.8L346 290.8L346.5 290.8L347 290.8L347.5 290.8L348 290.52L348.5 290.8L349 290.8L349.5 290.8L350 290.8L350.5 290.47L351 290.8L351.5 290.8L352 290.44L352.5 290.47L353 290.75L353.5 290.8L354 290.8L354.5 290.58L355 290.8L355.5 290.21L356 290.8L356.5 290.11L357 290.68L357.5 290.6L358 290.62L358.5 290.8L359 290.25L359.5 290.8L360 290.8L360.5 290.7L361 290.72L361.5 290.79L362 290.79L362.5 290.72L363 290.73L363.5 290.21L364 289.66L364.5 289.79L365 289.45L365.5 286.95L366 287.96L366.5 287.5L367 288.89L367.5 289.85L368 287.93L368.5 290.3L369 288.78L369.5 288.85L370 290.76L370.5 290.78L371 290.46L371.5 290.79L372 290.17L372.5 290.53L373 290.8L373.5 290.32L374 290.74L374.5 290.5L375 290.73L375.5 290.73L376 290.77L376.5 290.54L377 290.64L377.5 290.69L378 290.55L378.5 290.8L379 290.8L379.5 290.8L380 290.8L380.5 290.8L381 290.51L381.5 290.75L382 290.79L382.5 290.69L383 290.77L383.5 290.69L384 290.58L384.5 290.35L385 288.45L385.5 289.96L386 285L386.5 287.44L387 283.67L387.5 287.57L388 286.4L388.5 284L389 285.11L389.5 288.02L390 283.56L390.5 287.13L391 286.41L391.5 287.64L392 289.49L392.5 290.4L393 290.75L393.5 290.43L394 290.52L394.5 290.45L395 290.68L395.5 290.4L396 290.35L396.5 290.6L397 290.4L397.5 290.46L398 290.8L398.5 290.8L399 290.8L399.5 290.53L400 290.8L400.5 290.58L401 290.8L401.5 290.75L402 290.62L402.5 290.68L403 290.55L403.5 290.77L404 290.64L404.5 290.75L405 290.8L405.5 290.8L406 290.73L406.5 290.75L407 290.64L407.5 290.8L408 290.55L408.5 290.8L409 290.37L409.5 290.68L410 290.21L410.5 290.8L411 290.78L411.5 290.77L412 289.73L412.5 290.8L413 290.47L413.5 290.67L414 290.8L414.5 290.8L415 290.6L415.5 290.8L416 290.8L416.5 290.75L417 290.76L417.5 290.67L418 290.74M426.5 290.8L427 290.56L427.5 290.8L428 290.57L428.5 290.63L429 290.8L429.5 290.8L430 290.76L430.5 290.8L431 290.73L431.5 290.55L432 290.66L432.5 290.68L433 290.78L433.5 290.8L434 290.17L434.5 290.07L435 290.58L435.5 290.62L436 290.78L436.5 290.57L437 290.55L437.5 290.8L438 290.8L438.5 290.67L439 290.06L439.5 289.87L440 290.69L440.5 290.5L441 290.8L441.5 290.63L442 290.55L442.5 290.8L443 290.74L443.5 290.63L444 290.8L444.5 290.8L445 290.77L445.5 290.54L446 290.42L446.5 290.63L447 290.8L447.5 290.36L448 290.47L448.5 290.8L449 290.44L449.5 290.61L450 290.64L450.5 290.51L451 290.46L451.5 290.56L452 289.68L452.5 290.46L453 290.44L453.5 290.65L454 290.8L454.5 290.8L455 290.64L455.5 290.8L456 290.58L456.5 290.07L457 290.58L457.5 290.8L458 290.8" fill="none" stroke="#151515" stroke-width="0.62" stroke-linejoin="round"/>
<path d="M366.5 290.8V273.8M387.5 290.8V263.9M389.5 290.8V267.6M451.5 290.8V288" stroke="#151515" stroke-width="0.9"/>
<text x="274.3" y="301.1" font-size="6.3" fill="#4a6a50" textLength="11.5" lengthAdjust="spacingAndGlyphs">Pfkp</text>
<line x1="288.5" y1="298.9" x2="391" y2="298.9" stroke="#7fa888" stroke-width="0.7"/>
<path d="M291.5 297.6L289.5 298.9L291.5 300.2ZM294.7 297.6L292.7 298.9L294.7 300.2ZM297.9 297.6L295.9 298.9L297.9 300.2ZM301.1 297.6L299.1 298.9L301.1 300.2ZM304.3 297.6L302.3 298.9L304.3 300.2ZM307.5 297.6L305.5 298.9L307.5 300.2ZM310.7 297.6L308.7 298.9L310.7 300.2ZM313.9 297.6L311.9 298.9L313.9 300.2ZM317.1 297.6L315.1 298.9L317.1 300.2ZM320.3 297.6L318.3 298.9L320.3 300.2ZM323.5 297.6L321.5 298.9L323.5 300.2ZM326.7 297.6L324.7 298.9L326.7 300.2ZM329.9 297.6L327.9 298.9L329.9 300.2ZM333.1 297.6L331.1 298.9L333.1 300.2ZM336.3 297.6L334.3 298.9L336.3 300.2ZM339.5 297.6L337.5 298.9L339.5 300.2ZM342.7 297.6L340.7 298.9L342.7 300.2ZM345.9 297.6L343.9 298.9L345.9 300.2ZM349.1 297.6L347.1 298.9L349.1 300.2ZM352.3 297.6L350.3 298.9L352.3 300.2ZM355.5 297.6L353.5 298.9L355.5 300.2ZM358.7 297.6L356.7 298.9L358.7 300.2ZM361.9 297.6L359.9 298.9L361.9 300.2ZM365.1 297.6L363.1 298.9L365.1 300.2ZM368.3 297.6L366.3 298.9L368.3 300.2ZM371.5 297.6L369.5 298.9L371.5 300.2ZM374.7 297.6L372.7 298.9L374.7 300.2ZM377.9 297.6L375.9 298.9L377.9 300.2ZM381.1 297.6L379.1 298.9L381.1 300.2ZM384.3 297.6L382.3 298.9L384.3 300.2ZM387.5 297.6L385.5 298.9L387.5 300.2Z" fill="#34553d"/>
<rect x="292.6" y="297" width="0.8" height="3.8" fill="#1d3a24"/>
<rect x="295.6" y="297" width="0.8" height="3.8" fill="#1d3a24"/>
<rect x="298.2" y="297" width="0.8" height="3.8" fill="#1d3a24"/>
<rect x="300.7" y="297" width="0.8" height="3.8" fill="#1d3a24"/>
<rect x="315.2" y="297" width="0.8" height="3.8" fill="#1d3a24"/>
<rect x="316.9" y="297" width="0.8" height="3.8" fill="#1d3a24"/>
<rect x="325.6" y="297" width="0.8" height="3.8" fill="#1d3a24"/>
<rect x="326.7" y="297" width="0.8" height="3.8" fill="#1d3a24"/>
<rect x="341" y="297" width="0.8" height="3.8" fill="#1d3a24"/>
<rect x="342.3" y="297" width="0.8" height="3.8" fill="#1d3a24"/>
<rect x="345.4" y="297" width="0.8" height="3.8" fill="#1d3a24"/>
<rect x="347.1" y="297" width="0.8" height="3.8" fill="#1d3a24"/>
<rect x="349.4" y="297" width="0.8" height="3.8" fill="#1d3a24"/>
<rect x="351.1" y="297" width="0.8" height="3.8" fill="#1d3a24"/>
<rect x="354" y="297" width="0.8" height="3.8" fill="#1d3a24"/>
<rect x="356.9" y="297" width="0.8" height="3.8" fill="#1d3a24"/>
<rect x="371.3" y="297" width="0.8" height="3.8" fill="#1d3a24"/>
<rect x="390.3" y="297" width="0.8" height="3.8" fill="#1d3a24"/>
<rect x="288.5" y="297.5" width="2.3" height="2.8" fill="#173d22"/>
<rect x="322.4" y="297.5" width="1.4" height="2.8" fill="#173d22"/>
<rect x="49.2" y="329.2" width="2.6" height="127.8" fill="#c7e5e5"/>
<rect x="86.3" y="329.2" width="2.3" height="127.8" fill="#c7e5e5"/>
<rect x="88.6" y="329.2" width="1.8" height="127.8" fill="#d6eeee"/>
<rect x="90.4" y="329.2" width="1.8" height="127.8" fill="#c7e5e5"/>
<line x1="46" y1="324.9" x2="228.8" y2="324.9" stroke="#3a3a3a" stroke-width="1.15"/>
<path d="M44 324.9L48.4 323.1L48.4 326.7Z" fill="#1e1e1e"/>
<path d="M230.8 324.9L226.4 323.1L226.4 326.7Z" fill="#1e1e1e"/>
<text x="130" y="320.9" font-size="6.9" fill="#2a2a2a" textLength="15.5" lengthAdjust="spacingAndGlyphs">69 kb</text>
<text x="198.8" y="321.7" font-size="8.4" font-weight="bold" font-style="italic" fill="#111" textLength="23.6" lengthAdjust="spacingAndGlyphs">Vdac1</text>
<line x1="42.3" y1="331" x2="42.3" y2="368.2" stroke="#1e1e1e" stroke-width="1.0"/>
<line x1="39.1" y1="333.4" x2="42.3" y2="333.4" stroke="#1e1e1e" stroke-width="0.9"/>
<line x1="39.1" y1="365.6" x2="42.3" y2="365.6" stroke="#1e1e1e" stroke-width="0.9"/>
<text x="29.6" y="335.7" font-size="6.6" fill="#2e2e2e" textLength="6.9" lengthAdjust="spacingAndGlyphs">70</text>
<text x="33.05" y="367.9" font-size="6.6" fill="#2e2e2e" textLength="3.45" lengthAdjust="spacingAndGlyphs">0</text>
<text x="-354.05" y="23.62" font-size="8.4" font-weight="bold" fill="#1a1a1a" textLength="9.1" lengthAdjust="spacingAndGlyphs" transform="rotate(-90)">WT</text>
<line x1="42.3" y1="371.9" x2="42.3" y2="408.7" stroke="#1e1e1e" stroke-width="1.0"/>
<line x1="39.1" y1="374.3" x2="42.3" y2="374.3" stroke="#1e1e1e" stroke-width="0.9"/>
<line x1="39.1" y1="406.1" x2="42.3" y2="406.1" stroke="#1e1e1e" stroke-width="0.9"/>
<text x="29.6" y="376.6" font-size="6.6" fill="#2e2e2e" textLength="6.9" lengthAdjust="spacingAndGlyphs">70</text>
<text x="33.05" y="408.4" font-size="6.6" fill="#2e2e2e" textLength="3.45" lengthAdjust="spacingAndGlyphs">0</text>
<text x="-399.2" y="23.62" font-size="8.4" font-weight="bold" fill="#1a1a1a" textLength="18" lengthAdjust="spacingAndGlyphs" transform="rotate(-90)">Interm.</text>
<line x1="42.3" y1="412.4" x2="42.3" y2="449.4" stroke="#1e1e1e" stroke-width="1.0"/>
<line x1="39.1" y1="414.8" x2="42.3" y2="414.8" stroke="#1e1e1e" stroke-width="0.9"/>
<line x1="39.1" y1="446.8" x2="42.3" y2="446.8" stroke="#1e1e1e" stroke-width="0.9"/>
<text x="29.6" y="417.1" font-size="6.6" fill="#2e2e2e" textLength="6.9" lengthAdjust="spacingAndGlyphs">70</text>
<text x="33.05" y="449.1" font-size="6.6" fill="#2e2e2e" textLength="3.45" lengthAdjust="spacingAndGlyphs">0</text>
<text x="-436.1" y="23.62" font-size="8.4" font-weight="bold" fill="#1a1a1a" textLength="10.6" lengthAdjust="spacingAndGlyphs" transform="rotate(-90)">Late</text>
<path d="M43.5 365.6L43.5 365.51L44 365.41L44.5 365.49L45 365.55L45.5 365.6L46 365.54L46.5 365.32L47 364.86L47.5 365.08L48 365.43L48.5 364.8L49 364.87L49.5 365.42L50 365.34L50.5 365.24L51 364.78L51.5 364.58L52 365.53L52.5 365.58L53 365.59L53.5 365.35L54 365.46L54.5 365.6L55 364.45L55.5 365.6L56 365.6L56.5 365.21L57 365.46L57.5 365.38L58 365.52L58.5 365.41L59 365.6L59.5 365.45L60 365.59L60.5 365.6L61 365.29L61.5 365.49L62 365.6L62.5 365.57L63 365.55L63.5 364.02L64 364.91L64.5 365.59L65 365.37L65.5 365.32L66 364.79L66.5 365.6L67 365.56L67.5 365.6L68 365.51L68.5 364.98L69 365.41L69.5 365.51L70 365.6L70.5 364.64L71 365.6L71.5 365.35L72 365.5L72.5 365.5L73 365.57L73.5 364.6L74 364.93L74.5 365.01L75 364L75.5 365.01L76 364.75L76.5 365.52L77 365.34L77.5 365.55L78 365.51L78.5 365.47L79 364.74L79.5 364.78L80 365.42L80.5 365.52L81 365.36L81.5 365.56L82 365.37L82.5 365.59L83 365.27L83.5 365.32L84 365.57L84.5 365.48L85 365.49L85.5 364.72L86 365.07L86.5 364.73L87 363.84L87.5 363.4L88 362.82L88.5 361.24L89 358L89.5 361.24L90 363.1L90.5 364.16L91 362.79L91.5 363.97L92 364.08L92.5 364.69L93 365.19L93.5 365.4L94 365.51L94.5 365.58L95 365.57L95.5 365.46L96 365.58L96.5 365.6L97 364.83L97.5 365.6L98 365.25L98.5 365.6L99 365.6L99.5 364.22L100 364.99L100.5 365.42L101 365.58L101.5 365.17L102 365.23L102.5 364.54L103 365.3L103.5 365.45L104 365.26L104.5 364.76L105 365.54L105.5 365.5L106 365.55L106.5 365.6L107 365.6L107.5 364.91L108 365.45L108.5 365.13L109 365.16L109.5 365.2L110 365.11L110.5 365.13L111 365.48L111.5 365.6L112 365.19L112.5 365.22L113 364.5L113.5 365.49L114 365.57L114.5 365.45L115 365.29L115.5 364.21L116 363.94L116.5 365.45L117 365.54L117.5 364.57L118 365.46L118.5 365.28L119 364.93L119.5 365.48L120 365.42L120.5 365.48L121 365.58L121.5 365.57L122 365.37L122.5 365.37L123 365.21L123.5 365.6L124 365.6L124.5 365.54L125 365.21L125.5 365.49L126 365.47L126.5 365.51L127 365.58L127.5 365.34L128 365.42L128.5 365.15L129 365.46L129.5 365.6L130 365.16L130.5 365.57L131 364.53L131.5 365.55L132 364.56L132.5 365.6L133 365.6L133.5 365.39L134 364.74L134.5 364.75L135 364.79L135.5 365.6L136 365.56L136.5 365.18L137 365.52L137.5 365.52L138 365.56L138.5 365.52L139 365.25L139.5 364.33L140 363.82L140.5 362.51L141 361.52L141.5 362.57L142 359.93L142.5 352L143 356.25L143.5 360.6L144 362.92L144.5 364.09L145 360.47L145.5 363.48L146 362.82L146.5 365.09L147 365.54L147.5 365.32L148 365.51L148.5 365.42L149 365.54L149.5 365.13L150 365.6L150.5 365.45L151 365.58L151.5 365.44L152 365.48L152.5 364.73L153 365.54L153.5 365.59L154 364.32L154.5 364.95L155 365.6L155.5 365.43L156 365.55L156.5 365.6L157 365.13L157.5 365.52L158 365.24L158.5 365.42L159 365.07L159.5 365.37L160 365.32L160.5 365.58L161 365.41L161.5 365.5L162 364.12L162.5 365.43L163 365.56L163.5 365.6L164 365.07L164.5 365.6L165 365.21L165.5 365.6L166 364.93L166.5 365.16L167 365.54L167.5 365.31L168 365.56L168.5 365.6L169 364.92L169.5 365.6L170 365.22L170.5 365.54L171 365.3L171.5 364.99L172 365.6L172.5 365.51L173 364.73L173.5 364.86L174 364.8L174.5 365.58L175 365.37L175.5 365.29L176 365.45L176.5 365.39L177 365.5L177.5 365.6L178 365.49L178.5 364.65L179 365.5L179.5 365.13L180 364.49L180.5 365.34L181 365.54L181.5 365L182 365.28L182.5 365.53L183 364.76L183.5 364.56L184 365.36L184.5 365.25L185 365.6L185.5 365.47L186 365.6L186.5 364.97L187 364.79L187.5 365.34L188 365.59L188.5 365.6L189 365.16L189.5 365.55L190 365.19L190.5 365.53L191 365.53L191.5 365.6L192 365.4L192.5 364.52L193 365.38L193.5 365.53L194 365.38L194.5 365.6L195 365.6L195.5 365.44L196 365.07L196.5 365.47L197 365.44L197.5 365.6L198 365.6L198.5 365.6L199 365.53L199.5 364.69L200 365.5L200.5 364.9L201 364.83L201.5 365.6L202 365.6L202.5 365.1L203 365.5L203.5 365.38L204 364.52L204.5 365.29L205 365.08L205.5 364.98L206 365.4L206.5 365.59L207 365.38L207.5 365.41L208 364.79L208.5 365.6L209 365.59L209.5 365.57L210 365.24L210.5 365.33L211 365.6L211.5 365.6L212 365.6L212.5 365.6L213 365.6L213.5 365.38L214 365.37L214.5 365.6L215 365.48L215.5 365.56L216 365.57L216.5 365.56L217 365.6L217.5 365.3L218 365.6L218.5 365.18L219 365.49L219.5 365.57L220 365.39L220.5 364.67L221 365.43L221.5 364.88L222 365.6L222.5 365.6L223 365.15L223.5 365.48L224 365.02L224.5 365.36L225 365.24L225.5 365.05L226 365.55L226.5 365.6L227 365.38L227.5 365.28L228 365.41L228.5 365.11L229 364.84L229.5 365.6L230 365.46L230.5 365.44L230.5 365.6Z" fill="#151515" fill-opacity="0.65"/>
<path d="M43.5 365.51L44 365.41L44.5 365.49L45 365.55L45.5 365.6L46 365.54L46.5 365.32L47 364.86L47.5 365.08L48 365.43L48.5 364.8L49 364.87L49.5 365.42L50 365.34L50.5 365.24L51 364.78L51.5 364.58L52 365.53L52.5 365.58L53 365.59L53.5 365.35L54 365.46L54.5 365.6L55 364.45L55.5 365.6L56 365.6L56.5 365.21L57 365.46L57.5 365.38L58 365.52L58.5 365.41L59 365.6L59.5 365.45L60 365.59L60.5 365.6L61 365.29L61.5 365.49L62 365.6L62.5 365.57L63 365.55L63.5 364.02L64 364.91L64.5 365.59L65 365.37L65.5 365.32L66 364.79L66.5 365.6L67 365.56L67.5 365.6L68 365.51L68.5 364.98L69 365.41L69.5 365.51L70 365.6L70.5 364.64L71 365.6L71.5 365.35L72 365.5L72.5 365.5L73 365.57L73.5 364.6L74 364.93L74.5 365.01L75 364L75.5 365.01L76 364.75L76.5 365.52L77 365.34L77.5 365.55L78 365.51L78.5 365.47L79 364.74L79.5 364.78L80 365.42L80.5 365.52L81 365.36L81.5 365.56L82 365.37L82.5 365.59L83 365.27L83.5 365.32L84 365.57L84.5 365.48L85 365.49L85.5 364.72L86 365.07L86.5 364.73L87 363.84L87.5 363.4L88 362.82L88.5 361.24L89 358L89.5 361.24L90 363.1L90.5 364.16L91 362.79L91.5 363.97L92 364.08L92.5 364.69L93 365.19L93.5 365.4L94 365.51L94.5 365.58L95 365.57L95.5 365.46L96 365.58L96.5 365.6L97 364.83L97.5 365.6L98 365.25L98.5 365.6L99 365.6L99.5 364.22L100 364.99L100.5 365.42L101 365.58L101.5 365.17L102 365.23L102.5 364.54L103 365.3L103.5 365.45L104 365.26L104.5 364.76L105 365.54L105.5 365.5L106 365.55L106.5 365.6L107 365.6L107.5 364.91L108 365.45L108.5 365.13L109 365.16L109.5 365.2L110 365.11L110.5 365.13L111 365.48L111.5 365.6L112 365.19L112.5 365.22L113 364.5L113.5 365.49L114 365.57L114.5 365.45L115 365.29L115.5 364.21L116 363.94L116.5 365.45L117 365.54L117.5 364.57L118 365.46L118.5 365.28L119 364.93L119.5 365.48L120 365.42L120.5 365.48L121 365.58L121.5 365.57L122 365.37L122.5 365.37L123 365.21L123.5 365.6L124 365.6L124.5 365.54L125 365.21L125.5 365.49L126 365.47L126.5 365.51L127 365.58L127.5 365.34L128 365.42L128.5 365.15L129 365.46L129.5 365.6L130 365.16L130.5 365.57L131 364.53L131.5 365.55L132 364.56L132.5 365.6L133 365.6L133.5 365.39L134 364.74L134.5 364.75L135 364.79L135.5 365.6L136 365.56L136.5 365.18L137 365.52L137.5 365.52L138 365.56L138.5 365.52L139 365.25L139.5 364.33L140 363.82L140.5 362.51L141 361.52L141.5 362.57L142 359.93L142.5 352L143 356.25L143.5 360.6L144 362.92L144.5 364.09L145 360.47L145.5 363.48L146 362.82L146.5 365.09L147 365.54L147.5 365.32L148 365.51L148.5 365.42L149 365.54L149.5 365.13L150 365.6L150.5 365.45L151 365.58L151.5 365.44L152 365.48L152.5 364.73L153 365.54L153.5 365.59L154 364.32L154.5 364.95L155 365.6L155.5 365.43L156 365.55L156.5 365.6L157 365.13L157.5 365.52L158 365.24L158.5 365.42L159 365.07L159.5 365.37L160 365.32L160.5 365.58L161 365.41L161.5 365.5L162 364.12L162.5 365.43L163 365.56L163.5 365.6L164 365.07L164.5 365.6L165 365.21L165.5 365.6L166 364.93L166.5 365.16L167 365.54L167.5 365.31L168 365.56L168.5 365.6L169 364.92L169.5 365.6L170 365.22L170.5 365.54L171 365.3L171.5 364.99L172 365.6L172.5 365.51L173 364.73L173.5 364.86L174 364.8L174.5 365.58L175 365.37L175.5 365.29L176 365.45L176.5 365.39L177 365.5L177.5 365.6L178 365.49L178.5 364.65L179 365.5L179.5 365.13L180 364.49L180.5 365.34L181 365.54L181.5 365L182 365.28L182.5 365.53L183 364.76L183.5 364.56L184 365.36L184.5 365.25L185 365.6L185.5 365.47L186 365.6L186.5 364.97L187 364.79L187.5 365.34L188 365.59L188.5 365.6L189 365.16L189.5 365.55L190 365.19L190.5 365.53L191 365.53L191.5 365.6L192 365.4L192.5 364.52L193 365.38L193.5 365.53L194 365.38L194.5 365.6L195 365.6L195.5 365.44L196 365.07L196.5 365.47L197 365.44L197.5 365.6L198 365.6L198.5 365.6L199 365.53L199.5 364.69L200 365.5L200.5 364.9L201 364.83L201.5 365.6L202 365.6L202.5 365.1L203 365.5L203.5 365.38L204 364.52L204.5 365.29L205 365.08L205.5 364.98L206 365.4L206.5 365.59L207 365.38L207.5 365.41L208 364.79L208.5 365.6L209 365.59L209.5 365.57L210 365.24L210.5 365.33L211 365.6L211.5 365.6L212 365.6L212.5 365.6L213 365.6L213.5 365.38L214 365.37L214.5 365.6L215 365.48L215.5 365.56L216 365.57L216.5 365.56L217 365.6L217.5 365.3L218 365.6L218.5 365.18L219 365.49L219.5 365.57L220 365.39L220.5 364.67L221 365.43L221.5 364.88L222 365.6L222.5 365.6L223 365.15L223.5 365.48L224 365.02L224.5 365.36L225 365.24L225.5 365.05L226 365.55L226.5 365.6L227 365.38L227.5 365.28L228 365.41L228.5 365.11L229 364.84L229.5 365.6L230 365.46L230.5 365.44" fill="none" stroke="#151515" stroke-width="0.62" stroke-linejoin="round"/>
<path d="M51.5 365.6V358.8M79.5 365.6V358.8M88.5 365.6V342.4M91.5 365.6V352M102.5 365.6V356.8M115.5 365.6V354M118.5 365.6V360M142.5 365.6V346M179.5 365.6V361.7" stroke="#151515" stroke-width="0.9"/>
<line x1="142.5" y1="346" x2="142.5" y2="333.8" stroke="#151515" stroke-width="0.9" stroke-dasharray="1.4 1.1" stroke-opacity="0.75"/>
<path d="M43.5 406.1L43.5 405.77L44 405.97L44.5 406.1L45 404.45L45.5 405.62L46 403.35L46.5 406.1L47 406.09L47.5 405.29L48 405.88L48.5 406.07L49 405.99L49.5 405.23L50 405.92L50.5 406.05L51 405.26L51.5 406.01L52 406.09L52.5 405.99L53 404.97L53.5 405.89L54 405.41L54.5 406.1L55 405.36L55.5 406.1L56 405.73L56.5 404.85L57 406.09L57.5 405.68L58 405.16L58.5 405.68L59 406.1L59.5 405.8L60 404.17L60.5 405.93L61 405.61L61.5 406.04L62 406.1L62.5 405.58L63 405.71L63.5 406.1L64 405.52L64.5 404.24L65 405.37L65.5 405.85L66 405.91L66.5 405.54L67 405.45L67.5 406.1L68 405.98L68.5 405.4L69 405.95L69.5 406.1L70 405.78L70.5 406.03L71 405.46L71.5 406.1L72 405.47L72.5 405.7L73 406.1L73.5 405.64L74 405.16L74.5 406.02L75 405.99L75.5 405.81L76 406.1L76.5 405.76L77 405.59L77.5 404.26L78 405.34L78.5 406.06L79 406.1L79.5 405.32L80 406.02L80.5 405.79L81 404.43L81.5 406.06L82 405.93L82.5 405.79L83 405.41L83.5 404.86L84 405.55L84.5 406.09L85 405.73L85.5 405.53L86 405.3L86.5 405.22L87 404.83L87.5 403.4L88 397.7L88.5 403.19L89 403.66L89.5 402.92L90 405.38L90.5 405.29L91 403.18L91.5 403.84L92 405.39L92.5 405.71L93 405.44L93.5 406.1L94 405.53L94.5 405.95L95 405.58L95.5 405.79L96 404.86L96.5 404.25L97 405.94L97.5 405.86L98 405.97L98.5 405.85L99 405.42L99.5 404.1L100 403L100.5 404.96L101 404.34L101.5 402.22L102 405.5L102.5 405.7L103 405.41L103.5 405.31L104 405.74L104.5 405.74L105 406.1L105.5 405.99L106 405.98L106.5 405.29L107 406.1L107.5 405.42L108 405.97L108.5 406.02L109 405.71L109.5 405.99L110 406.1L110.5 405.89L111 405.12L111.5 405.86L112 405.71L112.5 406.1L113 404.84L113.5 405.02L114 406.04L114.5 404.16L115 405.37L115.5 405.68L116 405.78L116.5 405.11L117 405.7L117.5 406.1L118 406.1L118.5 405.57L119 405.93L119.5 405.93L120 406.09L120.5 405.47L121 406.06L121.5 405.94L122 405.94L122.5 406.07L123 406.06L123.5 406.06L124 404.95L124.5 405.12L125 405.3L125.5 405.91L126 405.8L126.5 406.05L127 405.84L127.5 405.01L128 405.85L128.5 406.04L129 405.65L129.5 405.94L130 405.69L130.5 406.03L131 405.95L131.5 405.89L132 405.4L132.5 406.1L133 405.81L133.5 406.01L134 405.52L134.5 405.28L135 405.99L135.5 406.08L136 405.57L136.5 406.06L137 406.04L137.5 406L138 405.51L138.5 402.86L139 404.06L139.5 404.63L140 404.89L140.5 402.14L141 402.81L141.5 400.67L142 398L142.5 401.65L143 403.4L143.5 402.03L144 402.8L144.5 405.04L145 404.57L145.5 404.85L146 405L146.5 405.43L147 405.42L147.5 405.93L148 404.18L148.5 403.47L149 405.55L149.5 406L150 406.02L150.5 405.87L151 405.55L151.5 405.9L152 406.1L152.5 405.67L153 403.96L153.5 406L154 406.03L154.5 405.95L155 405.96L155.5 405.78L156 405.78L156.5 404.78L157 406.1L157.5 405.73L158 405.8L158.5 405.58L159 406.09L159.5 405.82L160 405.83L160.5 404.48L161 405.89L161.5 406.09L162 405.14L162.5 405.7L163 406.03L163.5 405.85L164 406.02L164.5 406.08L165 404.72L165.5 406.1L166 406.1L166.5 405.58L167 406.07L167.5 406.08L168 406.08L168.5 405.3L169 405.74L169.5 404.8L170 405.82L170.5 405.86L171 405.18L171.5 406.1L172 406.03L172.5 403.8L173 405.83L173.5 406.03L174 406.1L174.5 405.84L175 406.1L175.5 405.52L176 406.04L176.5 405.88L177 405.34L177.5 405.84L178 405.86L178.5 405.38L179 405.98L179.5 405.98L180 405.8L180.5 406.1L181 404.87L181.5 406.02L182 406.1L182.5 405.71L183 405.92L183.5 406.01L184 406.1L184.5 405.2L185 404.4L185.5 405.57L186 405.89L186.5 404.34L187 404.2L187.5 405.66L188 405.74L188.5 406.01L189 405.9L189.5 406.05L190 405.26L190.5 406.1L191 405.55L191.5 406.1L192 405.77L192.5 405.12L193 405.91L193.5 405.54L194 405.89L194.5 405.74L195 406.02L195.5 405.37L196 404.31L196.5 405.16L197 405.88L197.5 406.1L198 406.08L198.5 405.78L199 405.14L199.5 406L200 404.14L200.5 406.09L201 405.67L201.5 405.82L202 405.9L202.5 406.1L203 405.91L203.5 405.6L204 405.88L204.5 405.93L205 406.05L205.5 405.71L206 405.75L206.5 405.58L207 405.98L207.5 405.27L208 405.87L208.5 405.42L209 405.19L209.5 405.94L210 406.06L210.5 405.57L211 405.99L211.5 405.49L212 405.32L212.5 404.68L213 404.56L213.5 405.59L214 404.27L214.5 405.91L215 405.22L215.5 405.94L216 405.76L216.5 405.73L217 405.02L217.5 406.03L218 406.01L218.5 405.97L219 405.78L219.5 405L220 405.67L220.5 405.6L221 405.31L221.5 405.77L222 405.41L222.5 406.01L223 405.42L223.5 405.97L224 402.1L224.5 406.09L225 405.9L225.5 405.49L226 406.01L226.5 405.24L227 405.49L227.5 405.55L228 405.62L228.5 405.92L229 404.82L229.5 405.79L230 405.67L230.5 405.36L230.5 406.1Z" fill="#6a6a6a" fill-opacity="0.5"/>
<path d="M43.5 405.77L44 405.97L44.5 406.1L45 404.45L45.5 405.62L46 403.35L46.5 406.1L47 406.09L47.5 405.29L48 405.88L48.5 406.07L49 405.99L49.5 405.23L50 405.92L50.5 406.05L51 405.26L51.5 406.01L52 406.09L52.5 405.99L53 404.97L53.5 405.89L54 405.41L54.5 406.1L55 405.36L55.5 406.1L56 405.73L56.5 404.85L57 406.09L57.5 405.68L58 405.16L58.5 405.68L59 406.1L59.5 405.8L60 404.17L60.5 405.93L61 405.61L61.5 406.04L62 406.1L62.5 405.58L63 405.71L63.5 406.1L64 405.52L64.5 404.24L65 405.37L65.5 405.85L66 405.91L66.5 405.54L67 405.45L67.5 406.1L68 405.98L68.5 405.4L69 405.95L69.5 406.1L70 405.78L70.5 406.03L71 405.46L71.5 406.1L72 405.47L72.5 405.7L73 406.1L73.5 405.64L74 405.16L74.5 406.02L75 405.99L75.5 405.81L76 406.1L76.5 405.76L77 405.59L77.5 404.26L78 405.34L78.5 406.06L79 406.1L79.5 405.32L80 406.02L80.5 405.79L81 404.43L81.5 406.06L82 405.93L82.5 405.79L83 405.41L83.5 404.86L84 405.55L84.5 406.09L85 405.73L85.5 405.53L86 405.3L86.5 405.22L87 404.83L87.5 403.4L88 397.7L88.5 403.19L89 403.66L89.5 402.92L90 405.38L90.5 405.29L91 403.18L91.5 403.84L92 405.39L92.5 405.71L93 405.44L93.5 406.1L94 405.53L94.5 405.95L95 405.58L95.5 405.79L96 404.86L96.5 404.25L97 405.94L97.5 405.86L98 405.97L98.5 405.85L99 405.42L99.5 404.1L100 403L100.5 404.96L101 404.34L101.5 402.22L102 405.5L102.5 405.7L103 405.41L103.5 405.31L104 405.74L104.5 405.74L105 406.1L105.5 405.99L106 405.98L106.5 405.29L107 406.1L107.5 405.42L108 405.97L108.5 406.02L109 405.71L109.5 405.99L110 406.1L110.5 405.89L111 405.12L111.5 405.86L112 405.71L112.5 406.1L113 404.84L113.5 405.02L114 406.04L114.5 404.16L115 405.37L115.5 405.68L116 405.78L116.5 405.11L117 405.7L117.5 406.1L118 406.1L118.5 405.57L119 405.93L119.5 405.93L120 406.09L120.5 405.47L121 406.06L121.5 405.94L122 405.94L122.5 406.07L123 406.06L123.5 406.06L124 404.95L124.5 405.12L125 405.3L125.5 405.91L126 405.8L126.5 406.05L127 405.84L127.5 405.01L128 405.85L128.5 406.04L129 405.65L129.5 405.94L130 405.69L130.5 406.03L131 405.95L131.5 405.89L132 405.4L132.5 406.1L133 405.81L133.5 406.01L134 405.52L134.5 405.28L135 405.99L135.5 406.08L136 405.57L136.5 406.06L137 406.04L137.5 406L138 405.51L138.5 402.86L139 404.06L139.5 404.63L140 404.89L140.5 402.14L141 402.81L141.5 400.67L142 398L142.5 401.65L143 403.4L143.5 402.03L144 402.8L144.5 405.04L145 404.57L145.5 404.85L146 405L146.5 405.43L147 405.42L147.5 405.93L148 404.18L148.5 403.47L149 405.55L149.5 406L150 406.02L150.5 405.87L151 405.55L151.5 405.9L152 406.1L152.5 405.67L153 403.96L153.5 406L154 406.03L154.5 405.95L155 405.96L155.5 405.78L156 405.78L156.5 404.78L157 406.1L157.5 405.73L158 405.8L158.5 405.58L159 406.09L159.5 405.82L160 405.83L160.5 404.48L161 405.89L161.5 406.09L162 405.14L162.5 405.7L163 406.03L163.5 405.85L164 406.02L164.5 406.08L165 404.72L165.5 406.1L166 406.1L166.5 405.58L167 406.07L167.5 406.08L168 406.08L168.5 405.3L169 405.74L169.5 404.8L170 405.82L170.5 405.86L171 405.18L171.5 406.1L172 406.03L172.5 403.8L173 405.83L173.5 406.03L174 406.1L174.5 405.84L175 406.1L175.5 405.52L176 406.04L176.5 405.88L177 405.34L177.5 405.84L178 405.86L178.5 405.38L179 405.98L179.5 405.98L180 405.8L180.5 406.1L181 404.87L181.5 406.02L182 406.1L182.5 405.71L183 405.92L183.5 406.01L184 406.1L184.5 405.2L185 404.4L185.5 405.57L186 405.89L186.5 404.34L187 404.2L187.5 405.66L188 405.74L188.5 406.01L189 405.9L189.5 406.05L190 405.26L190.5 406.1L191 405.55L191.5 406.1L192 405.77L192.5 405.12L193 405.91L193.5 405.54L194 405.89L194.5 405.74L195 406.02L195.5 405.37L196 404.31L196.5 405.16L197 405.88L197.5 406.1L198 406.08L198.5 405.78L199 405.14L199.5 406L200 404.14L200.5 406.09L201 405.67L201.5 405.82L202 405.9L202.5 406.1L203 405.91L203.5 405.6L204 405.88L204.5 405.93L205 406.05L205.5 405.71L206 405.75L206.5 405.58L207 405.98L207.5 405.27L208 405.87L208.5 405.42L209 405.19L209.5 405.94L210 406.06L210.5 405.57L211 405.99L211.5 405.49L212 405.32L212.5 404.68L213 404.56L213.5 405.59L214 404.27L214.5 405.91L215 405.22L215.5 405.94L216 405.76L216.5 405.73L217 405.02L217.5 406.03L218 406.01L218.5 405.97L219 405.78L219.5 405L220 405.67L220.5 405.6L221 405.31L221.5 405.77L222 405.41L222.5 406.01L223 405.42L223.5 405.97L224 402.1L224.5 406.09L225 405.9L225.5 405.49L226 406.01L226.5 405.24L227 405.49L227.5 405.55L228 405.62L228.5 405.92L229 404.82L229.5 405.79L230 405.67L230.5 405.36" fill="none" stroke="#6a6a6a" stroke-width="0.55" stroke-linejoin="round"/>
<path d="M141.5 406.1V388.1M115.5 406.1V400M49.5 406.1V402" stroke="#6a6a6a" stroke-width="0.9"/>
<path d="M43.5 446.8L43.5 446.8L44 446.33L44.5 446.8L45 445.89L45.5 446.8L46 446.73L46.5 446.79L47 446.77L47.5 446.68L48 446.1L48.5 446.76L49 446.67L49.5 446.22L50 446.59L50.5 446.73L51 446.37L51.5 446.59L52 446.53L52.5 446.75L53 446.47L53.5 446.6L54 446.25L54.5 446.8L55 446.8L55.5 446.8L56 445.71L56.5 446.38L57 445.97L57.5 446.77L58 446.34L58.5 446L59 446.32L59.5 446.4L60 446.78L60.5 446.74L61 446.8L61.5 446.72L62 446.8L62.5 446.26L63 446.01L63.5 446.51L64 446.8L64.5 446.73L65 446.71L65.5 446.73L66 446.23L66.5 446.42L67 446.8L67.5 446.69L68 445.88L68.5 445.57L69 445.97L69.5 446.26L70 446.19L70.5 446.76L71 446.37L71.5 446.53L72 446.69L72.5 446.54L73 446.8L73.5 446.8L74 446.79L74.5 446.69L75 446.04L75.5 446.6L76 446.8L76.5 446.77L77 446.43L77.5 446.57L78 446.01L78.5 446.8L79 446.76L79.5 446.67L80 446.27L80.5 446.8L81 446.43L81.5 446.55L82 446.23L82.5 445.8L83 446.65L83.5 446.8L84 446.8L84.5 446.53L85 446.01L85.5 445.64L86 446.31L86.5 446.43L87 445.39L87.5 445.02L88 438L88.5 444.69L89 441.85L89.5 443.99L90 443.5L90.5 443L91 443.84L91.5 445.33L92 446.11L92.5 445.65L93 445.97L93.5 446.31L94 446.79L94.5 446.53L95 446.04L95.5 446.49L96 446.28L96.5 446.58L97 446.8L97.5 446.8L98 446.41L98.5 446.75L99 446.28L99.5 446.59L100 446.59L100.5 446.76L101 446.79L101.5 446.76L102 446.48L102.5 446.34L103 446.67L103.5 446.76L104 446.48L104.5 446.8L105 446.41L105.5 446.21L106 446.74L106.5 445.82L107 446.7L107.5 446.51L108 446.54L108.5 446.13L109 446.53L109.5 446.29L110 445.18L110.5 446.67L111 446.8L111.5 446.8L112 446.7L112.5 446.23L113 446.65L113.5 445.91L114 444.57L114.5 444.01L115 444.93L115.5 446.12L116 445.01L116.5 446.51L117 446.44L117.5 446.16L118 446.54L118.5 446.76L119 446.33L119.5 446.76L120 446.71L120.5 446.02L121 445.35L121.5 446.8L122 445.91L122.5 446.42L123 446.43L123.5 446.72L124 446.4L124.5 446.42L125 446.78L125.5 446.8L126 446.8L126.5 446.78L127 446.59L127.5 446.8L128 446.52L128.5 446.8L129 446.72L129.5 446.29L130 446.8L130.5 446.72L131 446.79L131.5 446.47L132 446.65L132.5 446.8L133 446.38L133.5 446.8L134 445.74L134.5 446.74L135 445.93L135.5 446.78L136 446.61L136.5 446.71L137 446.14L137.5 446.67L138 446.58L138.5 445.45L139 445.95L139.5 445.82L140 445.18L140.5 444.14L141 442.41L141.5 439.56L142 436L142.5 440.87L143 443.2L143.5 444.62L144 445.48L144.5 444.29L145 443.43L145.5 445.25L146 445.49L146.5 446.41L147 446.09L147.5 446.76L148 446.76L148.5 445.28L149 446.79L149.5 446.79L150 446.8L150.5 446.61L151 446.76L151.5 446.68L152 446.21L152.5 446.59L153 444.45L153.5 446.56L154 446.12L154.5 446.42L155 446.27L155.5 446.5L156 446.54L156.5 446.8L157 446.74L157.5 446.73L158 446.58L158.5 446.16L159 446.48L159.5 445.97L160 446.8L160.5 446.48L161 446.11L161.5 446.25L162 446.21L162.5 446.76L163 446.8L163.5 445.88L164 445.23L164.5 446.26L165 445.78L165.5 446.8L166 446.78L166.5 446.8L167 446.06L167.5 446.74L168 446.8L168.5 446.8L169 446.8L169.5 446.8L170 446.41L170.5 446.75L171 446.8L171.5 446.34L172 446.77L172.5 446.23L173 446.67L173.5 446.79L174 446.8L174.5 446.3L175 446.76L175.5 446.8L176 445.25L176.5 446.48L177 445.65L177.5 446.78L178 446.74L178.5 445.86L179 446.78L179.5 446.8L180 446.62L180.5 446.02L181 446.33L181.5 446.14L182 446.8L182.5 446.69L183 446.27L183.5 446.8L184 446.8L184.5 446.27L185 446.78L185.5 445.6L186 446.69L186.5 446.8L187 445.71L187.5 445.76L188 446.7L188.5 446.64L189 446.64L189.5 446.73L190 446.8L190.5 446.77L191 446.78L191.5 446.71L192 446.78L192.5 446.75L193 446.3L193.5 446.52L194 446.56L194.5 446.5L195 446.8L195.5 445.98L196 446.52L196.5 446.79L197 446.78L197.5 446.8L198 446.77L198.5 446.51L199 446.8L199.5 446.8L200 446.8L200.5 446.36L201 446.29L201.5 445.73L202 446.57L202.5 446.8L203 446.8L203.5 446.6L204 446.66L204.5 445.82L205 445.86L205.5 446.59L206 446.8L206.5 446.8L207 445.92L207.5 446.8L208 446.11L208.5 446.7L209 446.65L209.5 446.67L210 444.74L210.5 445.5L211 446.56L211.5 446.8L212 446.49L212.5 446.8L213 446.14L213.5 446.8L214 446.54L214.5 446.12L215 446.58L215.5 446.74L216 446.5L216.5 446.42L217 446.46L217.5 446.31L218 444.28L218.5 446.8L219 446.14L219.5 446.17L220 446.74L220.5 446.31L221 446.73L221.5 446.8L222 446.55L222.5 446.24L223 446.79L223.5 446.43L224 446.7L224.5 446.65L225 446.8L225.5 446.32L226 445.95L226.5 446.8L227 446.8L227.5 446.8L228 446.68L228.5 446.52L229 446.79L229.5 446.8L230 446.27L230.5 446.62L230.5 446.8Z" fill="#151515" fill-opacity="0.75"/>
<path d="M43.5 446.8L44 446.33L44.5 446.8L45 445.89L45.5 446.8L46 446.73L46.5 446.79L47 446.77L47.5 446.68L48 446.1L48.5 446.76L49 446.67L49.5 446.22L50 446.59L50.5 446.73L51 446.37L51.5 446.59L52 446.53L52.5 446.75L53 446.47L53.5 446.6L54 446.25L54.5 446.8L55 446.8L55.5 446.8L56 445.71L56.5 446.38L57 445.97L57.5 446.77L58 446.34L58.5 446L59 446.32L59.5 446.4L60 446.78L60.5 446.74L61 446.8L61.5 446.72L62 446.8L62.5 446.26L63 446.01L63.5 446.51L64 446.8L64.5 446.73L65 446.71L65.5 446.73L66 446.23L66.5 446.42L67 446.8L67.5 446.69L68 445.88L68.5 445.57L69 445.97L69.5 446.26L70 446.19L70.5 446.76L71 446.37L71.5 446.53L72 446.69L72.5 446.54L73 446.8L73.5 446.8L74 446.79L74.5 446.69L75 446.04L75.5 446.6L76 446.8L76.5 446.77L77 446.43L77.5 446.57L78 446.01L78.5 446.8L79 446.76L79.5 446.67L80 446.27L80.5 446.8L81 446.43L81.5 446.55L82 446.23L82.5 445.8L83 446.65L83.5 446.8L84 446.8L84.5 446.53L85 446.01L85.5 445.64L86 446.31L86.5 446.43L87 445.39L87.5 445.02L88 438L88.5 444.69L89 441.85L89.5 443.99L90 443.5L90.5 443L91 443.84L91.5 445.33L92 446.11L92.5 445.65L93 445.97L93.5 446.31L94 446.79L94.5 446.53L95 446.04L95.5 446.49L96 446.28L96.5 446.58L97 446.8L97.5 446.8L98 446.41L98.5 446.75L99 446.28L99.5 446.59L100 446.59L100.5 446.76L101 446.79L101.5 446.76L102 446.48L102.5 446.34L103 446.67L103.5 446.76L104 446.48L104.5 446.8L105 446.41L105.5 446.21L106 446.74L106.5 445.82L107 446.7L107.5 446.51L108 446.54L108.5 446.13L109 446.53L109.5 446.29L110 445.18L110.5 446.67L111 446.8L111.5 446.8L112 446.7L112.5 446.23L113 446.65L113.5 445.91L114 444.57L114.5 444.01L115 444.93L115.5 446.12L116 445.01L116.5 446.51L117 446.44L117.5 446.16L118 446.54L118.5 446.76L119 446.33L119.5 446.76L120 446.71L120.5 446.02L121 445.35L121.5 446.8L122 445.91L122.5 446.42L123 446.43L123.5 446.72L124 446.4L124.5 446.42L125 446.78L125.5 446.8L126 446.8L126.5 446.78L127 446.59L127.5 446.8L128 446.52L128.5 446.8L129 446.72L129.5 446.29L130 446.8L130.5 446.72L131 446.79L131.5 446.47L132 446.65L132.5 446.8L133 446.38L133.5 446.8L134 445.74L134.5 446.74L135 445.93L135.5 446.78L136 446.61L136.5 446.71L137 446.14L137.5 446.67L138 446.58L138.5 445.45L139 445.95L139.5 445.82L140 445.18L140.5 444.14L141 442.41L141.5 439.56L142 436L142.5 440.87L143 443.2L143.5 444.62L144 445.48L144.5 444.29L145 443.43L145.5 445.25L146 445.49L146.5 446.41L147 446.09L147.5 446.76L148 446.76L148.5 445.28L149 446.79L149.5 446.79L150 446.8L150.5 446.61L151 446.76L151.5 446.68L152 446.21L152.5 446.59L153 444.45L153.5 446.56L154 446.12L154.5 446.42L155 446.27L155.5 446.5L156 446.54L156.5 446.8L157 446.74L157.5 446.73L158 446.58L158.5 446.16L159 446.48L159.5 445.97L160 446.8L160.5 446.48L161 446.11L161.5 446.25L162 446.21L162.5 446.76L163 446.8L163.5 445.88L164 445.23L164.5 446.26L165 445.78L165.5 446.8L166 446.78L166.5 446.8L167 446.06L167.5 446.74L168 446.8L168.5 446.8L169 446.8L169.5 446.8L170 446.41L170.5 446.75L171 446.8L171.5 446.34L172 446.77L172.5 446.23L173 446.67L173.5 446.79L174 446.8L174.5 446.3L175 446.76L175.5 446.8L176 445.25L176.5 446.48L177 445.65L177.5 446.78L178 446.74L178.5 445.86L179 446.78L179.5 446.8L180 446.62L180.5 446.02L181 446.33L181.5 446.14L182 446.8L182.5 446.69L183 446.27L183.5 446.8L184 446.8L184.5 446.27L185 446.78L185.5 445.6L186 446.69L186.5 446.8L187 445.71L187.5 445.76L188 446.7L188.5 446.64L189 446.64L189.5 446.73L190 446.8L190.5 446.77L191 446.78L191.5 446.71L192 446.78L192.5 446.75L193 446.3L193.5 446.52L194 446.56L194.5 446.5L195 446.8L195.5 445.98L196 446.52L196.5 446.79L197 446.78L197.5 446.8L198 446.77L198.5 446.51L199 446.8L199.5 446.8L200 446.8L200.5 446.36L201 446.29L201.5 445.73L202 446.57L202.5 446.8L203 446.8L203.5 446.6L204 446.66L204.5 445.82L205 445.86L205.5 446.59L206 446.8L206.5 446.8L207 445.92L207.5 446.8L208 446.11L208.5 446.7L209 446.65L209.5 446.67L210 444.74L210.5 445.5L211 446.56L211.5 446.8L212 446.49L212.5 446.8L213 446.14L213.5 446.8L214 446.54L214.5 446.12L215 446.58L215.5 446.74L216 446.5L216.5 446.42L217 446.46L217.5 446.31L218 444.28L218.5 446.8L219 446.14L219.5 446.17L220 446.74L220.5 446.31L221 446.73L221.5 446.8L222 446.55L222.5 446.24L223 446.79L223.5 446.43L224 446.7L224.5 446.65L225 446.8L225.5 446.32L226 445.95L226.5 446.8L227 446.8L227.5 446.8L228 446.68L228.5 446.52L229 446.79L229.5 446.8L230 446.27L230.5 446.62" fill="none" stroke="#151515" stroke-width="0.62" stroke-linejoin="round"/>
<path d="M141.5 446.8V421.9M49.5 446.8V442M115.5 446.8V443M102.5 446.8V443" stroke="#151515" stroke-width="0.9"/>
<text x="123" y="456.4" font-size="6.3" fill="#4a6a50" textLength="15.6" lengthAdjust="spacingAndGlyphs">Vdac1</text>
<line x1="141.8" y1="454.2" x2="219.4" y2="454.2" stroke="#7fa888" stroke-width="0.7"/>
<path d="M142.8 452.9L144.8 454.2L142.8 455.5ZM146 452.9L148 454.2L146 455.5ZM149.2 452.9L151.2 454.2L149.2 455.5ZM152.4 452.9L154.4 454.2L152.4 455.5ZM155.6 452.9L157.6 454.2L155.6 455.5ZM158.8 452.9L160.8 454.2L158.8 455.5ZM162 452.9L164 454.2L162 455.5ZM165.2 452.9L167.2 454.2L165.2 455.5ZM168.4 452.9L170.4 454.2L168.4 455.5ZM171.6 452.9L173.6 454.2L171.6 455.5ZM174.8 452.9L176.8 454.2L174.8 455.5ZM178 452.9L180 454.2L178 455.5ZM181.2 452.9L183.2 454.2L181.2 455.5ZM184.4 452.9L186.4 454.2L184.4 455.5ZM187.6 452.9L189.6 454.2L187.6 455.5ZM190.8 452.9L192.8 454.2L190.8 455.5ZM194 452.9L196 454.2L194 455.5ZM197.2 452.9L199.2 454.2L197.2 455.5ZM200.4 452.9L202.4 454.2L200.4 455.5ZM203.6 452.9L205.6 454.2L203.6 455.5ZM206.8 452.9L208.8 454.2L206.8 455.5ZM210 452.9L212 454.2L210 455.5ZM213.2 452.9L215.2 454.2L213.2 455.5ZM216.4 452.9L218.4 454.2L216.4 455.5Z" fill="#34553d"/>
<rect x="178.2" y="452.3" width="0.8" height="3.8" fill="#1d3a24"/>
<rect x="179.6" y="452.3" width="0.8" height="3.8" fill="#1d3a24"/>
<rect x="184.6" y="452.3" width="0.8" height="3.8" fill="#1d3a24"/>
<rect x="205.5" y="452.3" width="0.8" height="3.8" fill="#1d3a24"/>
<rect x="209.5" y="452.3" width="0.8" height="3.8" fill="#1d3a24"/>
<rect x="213.5" y="452.3" width="0.8" height="3.8" fill="#1d3a24"/>
<rect x="217" y="452.8" width="2.4" height="2.8" fill="#173d22"/>
<rect x="60.3" y="485.5" width="1.7" height="107" fill="#cde7e7"/>
<rect x="80.1" y="485.5" width="1.8" height="107" fill="#cde7e7"/>
<rect x="85.5" y="485.5" width="1.6" height="107" fill="#cde7e7"/>
<rect x="89.6" y="485.5" width="1.6" height="107" fill="#cde7e7"/>
<rect x="117.5" y="485.5" width="1.6" height="107" fill="#cde7e7"/>
<rect x="123.8" y="485.5" width="1.6" height="107" fill="#cde7e7"/>
<rect x="139.9" y="485.5" width="1.6" height="107" fill="#cde7e7"/>
<rect x="178.2" y="485.5" width="2.4" height="107" fill="#c9e6e6"/>
<rect x="200.3" y="485.5" width="3.6" height="107" fill="#c3e3e3"/>
<line x1="46" y1="480.3" x2="229.3" y2="480.3" stroke="#3a3a3a" stroke-width="1.15"/>
<path d="M44 480.3L48.4 478.5L48.4 482.1Z" fill="#1e1e1e"/>
<path d="M231.3 480.3L226.9 478.5L226.9 482.1Z" fill="#1e1e1e"/>
<text x="133.2" y="476.3" font-size="6.9" fill="#2a2a2a" textLength="15.1" lengthAdjust="spacingAndGlyphs">84 kb</text>
<text x="187" y="477.1" font-size="8.4" font-weight="bold" font-style="italic" fill="#111" textLength="36.2" lengthAdjust="spacingAndGlyphs">Timm8a2</text>
<line x1="42.3" y1="485.4" x2="42.3" y2="519.3" stroke="#1e1e1e" stroke-width="1.0"/>
<line x1="39.1" y1="487.8" x2="42.3" y2="487.8" stroke="#1e1e1e" stroke-width="0.9"/>
<line x1="39.1" y1="516.7" x2="42.3" y2="516.7" stroke="#1e1e1e" stroke-width="0.9"/>
<text x="29.6" y="490.1" font-size="6.6" fill="#2e2e2e" textLength="6.9" lengthAdjust="spacingAndGlyphs">90</text>
<text x="33.05" y="519" font-size="6.6" fill="#2e2e2e" textLength="3.45" lengthAdjust="spacingAndGlyphs">0</text>
<text x="-506.8" y="23.92" font-size="8.4" font-weight="bold" fill="#1a1a1a" textLength="9.1" lengthAdjust="spacingAndGlyphs" transform="rotate(-90)">WT</text>
<line x1="42.3" y1="523.1" x2="42.3" y2="556.9" stroke="#1e1e1e" stroke-width="1.0"/>
<line x1="39.1" y1="525.5" x2="42.3" y2="525.5" stroke="#1e1e1e" stroke-width="0.9"/>
<line x1="39.1" y1="554.3" x2="42.3" y2="554.3" stroke="#1e1e1e" stroke-width="0.9"/>
<text x="29.6" y="527.8" font-size="6.6" fill="#2e2e2e" textLength="6.9" lengthAdjust="spacingAndGlyphs">90</text>
<text x="33.05" y="556.6" font-size="6.6" fill="#2e2e2e" textLength="3.45" lengthAdjust="spacingAndGlyphs">0</text>
<text x="-548.9" y="23.92" font-size="8.4" font-weight="bold" fill="#1a1a1a" textLength="18" lengthAdjust="spacingAndGlyphs" transform="rotate(-90)">Interm.</text>
<line x1="42.3" y1="560" x2="42.3" y2="593.9" stroke="#1e1e1e" stroke-width="1.0"/>
<line x1="39.1" y1="565.4" x2="42.3" y2="565.4" stroke="#1e1e1e" stroke-width="0.9"/>
<line x1="39.1" y1="591.3" x2="42.3" y2="591.3" stroke="#1e1e1e" stroke-width="0.9"/>
<text x="29.6" y="567.7" font-size="6.6" fill="#2e2e2e" textLength="6.9" lengthAdjust="spacingAndGlyphs">90</text>
<text x="33.05" y="593.6" font-size="6.6" fill="#2e2e2e" textLength="3.45" lengthAdjust="spacingAndGlyphs">0</text>
<text x="-582.05" y="23.92" font-size="8.4" font-weight="bold" fill="#1a1a1a" textLength="10.6" lengthAdjust="spacingAndGlyphs" transform="rotate(-90)">Late</text>
<path d="M43.5 516.7L43.5 515.54L44 516.37L44.5 516.6L45 516.67L45.5 516.69L46 516.65L46.5 515.53L47 516.56L47.5 515.9L48 516.32L48.5 516.59L49 516.57L49.5 516.14L50 516.14L50.5 516.28L51 516.67L51.5 516.59L52 516.69L52.5 516.65L53 516.51L53.5 516.7L54 516.26L54.5 516.7L55 516.7L55.5 516.7L56 516.48L56.5 515.61L57 516.69L57.5 516.51L58 515.6L58.5 516.26L59 516.35L59.5 516.64L60 516.54L60.5 516.58L61 516.02L61.5 515.45L62 516.6L62.5 516.64L63 516.66L63.5 516.35L64 516.7L64.5 516.64L65 516.7L65.5 516.67L66 516.52L66.5 516.26L67 516.7L67.5 516.65L68 516.7L68.5 516.58L69 516.65L69.5 516.7L70 516.44L70.5 516.5L71 516.56L71.5 516.67L72 516.43L72.5 516.69L73 516.7L73.5 516.68L74 516.29L74.5 516.7L75 516.4L75.5 516.7L76 516.7L76.5 516.48L77 516.42L77.5 516.7L78 516.34L78.5 516.69L79 516.51L79.5 516.62L80 516.43L80.5 515.75L81 514.7L81.5 516.35L82 516.09L82.5 516.5L83 516.65L83.5 516.32L84 516.69L84.5 516.68L85 515.59L85.5 516.46L86 515.3L86.5 516.04L87 516.35L87.5 514.7L88 515.75L88.5 516.43L89 516.39L89.5 516.04L90 515.72L90.5 516.34L91 515.43L91.5 516.34L92 516.43L92.5 515.62L93 516.69L93.5 516.3L94 516.25L94.5 516.7L95 516.66L95.5 516.5L96 516.63L96.5 516.52L97 516.32L97.5 516.7L98 516.08L98.5 516.34L99 516.53L99.5 516.21L100 516.5L100.5 516.23L101 516.4L101.5 516.5L102 516.66L102.5 516.7L103 516.7L103.5 516.51L104 516.69L104.5 516.48L105 516.59L105.5 516.7L106 516.56L106.5 516.34L107 516.61L107.5 516.7L108 516.5L108.5 516.7L109 516.7L109.5 516.01L110 516.57L110.5 516.7L111 516.7L111.5 516.7L112 516.65L112.5 516.7L113 516.7L113.5 516.7L114 516.7L114.5 516.61L115 516.25L115.5 516.63L116 516.63L116.5 516.7L117 516.69L117.5 516.65L118 516.54L118.5 516.14L119 516.54L119.5 516.59L120 516.58L120.5 516.26L121 516.7L121.5 516.7L122 516.37L122.5 516.58L123 516.43L123.5 516.09L124 516.55L124.5 516.58L125 516L125.5 516.37L126 516.61L126.5 516.17L127 516.69L127.5 516.63L128 516.45L128.5 516.59L129 516.27L129.5 516.48L130 516.41L130.5 516.56L131 516.7L131.5 516.7L132 516.6L132.5 516.66L133 516.62L133.5 516.26L134 516.7L134.5 516.7L135 516.7L135.5 516.57L136 516.53L136.5 516.49L137 516.52L137.5 516.32L138 516.51L138.5 516.7L139 516.43L139.5 516.54L140 516.57L140.5 516.26L141 515.78L141.5 515.72L142 516.63L142.5 516.65L143 516.59L143.5 516.7L144 516.7L144.5 516.7L145 516.68L145.5 516.7L146 516.03L146.5 516.52L147 516.46L147.5 516.7L148 516.7L148.5 516.51L149 516.68L149.5 516.7L150 516.7L150.5 516.39L151 516.36L151.5 516.4L152 516.63L152.5 516.68L153 516.53L153.5 516.53L154 516.32L154.5 516.04L155 516.5L155.5 516.43L156 516.63L156.5 516.7L157 516.22L157.5 516.7L158 516.7L158.5 516.51L159 516.66L159.5 516.7L160 516.57L160.5 516.66L161 516.69L161.5 516.65L162 515.59L162.5 516.33L163 515.33L163.5 516.56L164 516.7L164.5 516.67L165 516.62L165.5 516.18L166 516.06L166.5 516.61L167 516.64L167.5 515.69L168 516.28L168.5 516.7L169 516.54L169.5 516.7L170 516.7L170.5 516.42L171 516.7L171.5 516.7L172 516.52L172.5 516.7L173 516.49L173.5 516.7L174 516.7L174.5 516.61L175 516.64L175.5 516.7L176 516.08L176.5 516.55L177 516.7L177.5 516.7L178 516.59L178.5 516.65L179 516.4L179.5 515.9L180 516.4L180.5 516.62L181 516.68L181.5 516.52L182 516.7L182.5 516.47L183 516.7L183.5 516.7L184 516.66L184.5 515.75L185 516.7L185.5 516.26L186 516.69L186.5 516.7L187 516.7L187.5 515.52L188 515.98L188.5 516.65L189 516.52L189.5 516.28L190 516.21L190.5 516L191 515.78L191.5 516.54L192 516.65L192.5 516.06L193 516.56L193.5 516.7L194 516.7L194.5 516.32L195 516.52L195.5 516.64L196 516.58L196.5 516.27L197 515.54L197.5 516.36L198 516.63L198.5 516.68L199 516.69L199.5 516.67L200 516.08L200.5 516.37L201 515.55L201.5 514.28L202 516.28L202.5 514.7L203 515.75L203.5 516.43L204 516.62L204.5 516.61L205 516.51L205.5 516.04L206 515.3L206.5 516.46L207 516.63L207.5 516.62L208 516.54L208.5 516.6L209 516.36L209.5 515.18L210 516.14L210.5 516.54L211 516.51L211.5 516.29L212 516.7L212.5 515.62L213 516.4L213.5 516.43L214 516.35L214.5 516.6L215 516.7L215.5 516.7L216 516.69L216.5 516.64L217 516.43L217.5 516.38L218 516.55L218.5 516.66L219 516.22L219.5 516.28L220 516.47L220.5 516.59L221 516.69L221.5 516.42L222 516.61L222.5 515.8L223 516.61L223.5 516.33L224 516.24L224.5 516.54L225 516.69L225.5 516.01L226 516.55L226.5 516.2L227 516.64L227.5 516.52L228 516.41L228.5 516.24L229 516.69L229.5 516.7L230 516.46L230.5 516.48L231 516.14L231 516.7Z" fill="#151515" fill-opacity="0.55"/>
<path d="M43.5 515.54L44 516.37L44.5 516.6L45 516.67L45.5 516.69L46 516.65L46.5 515.53L47 516.56L47.5 515.9L48 516.32L48.5 516.59L49 516.57L49.5 516.14L50 516.14L50.5 516.28L51 516.67L51.5 516.59L52 516.69L52.5 516.65L53 516.51L53.5 516.7L54 516.26L54.5 516.7L55 516.7L55.5 516.7L56 516.48L56.5 515.61L57 516.69L57.5 516.51L58 515.6L58.5 516.26L59 516.35L59.5 516.64L60 516.54L60.5 516.58L61 516.02L61.5 515.45L62 516.6L62.5 516.64L63 516.66L63.5 516.35L64 516.7L64.5 516.64L65 516.7L65.5 516.67L66 516.52L66.5 516.26L67 516.7L67.5 516.65L68 516.7L68.5 516.58L69 516.65L69.5 516.7L70 516.44L70.5 516.5L71 516.56L71.5 516.67L72 516.43L72.5 516.69L73 516.7L73.5 516.68L74 516.29L74.5 516.7L75 516.4L75.5 516.7L76 516.7L76.5 516.48L77 516.42L77.5 516.7L78 516.34L78.5 516.69L79 516.51L79.5 516.62L80 516.43L80.5 515.75L81 514.7L81.5 516.35L82 516.09L82.5 516.5L83 516.65L83.5 516.32L84 516.69L84.5 516.68L85 515.59L85.5 516.46L86 515.3L86.5 516.04L87 516.35L87.5 514.7L88 515.75L88.5 516.43L89 516.39L89.5 516.04L90 515.72L90.5 516.34L91 515.43L91.5 516.34L92 516.43L92.5 515.62L93 516.69L93.5 516.3L94 516.25L94.5 516.7L95 516.66L95.5 516.5L96 516.63L96.5 516.52L97 516.32L97.5 516.7L98 516.08L98.5 516.34L99 516.53L99.5 516.21L100 516.5L100.5 516.23L101 516.4L101.5 516.5L102 516.66L102.5 516.7L103 516.7L103.5 516.51L104 516.69L104.5 516.48L105 516.59L105.5 516.7L106 516.56L106.5 516.34L107 516.61L107.5 516.7L108 516.5L108.5 516.7L109 516.7L109.5 516.01L110 516.57L110.5 516.7L111 516.7L111.5 516.7L112 516.65L112.5 516.7L113 516.7L113.5 516.7L114 516.7L114.5 516.61L115 516.25L115.5 516.63L116 516.63L116.5 516.7L117 516.69L117.5 516.65L118 516.54L118.5 516.14L119 516.54L119.5 516.59L120 516.58L120.5 516.26L121 516.7L121.5 516.7L122 516.37L122.5 516.58L123 516.43L123.5 516.09L124 516.55L124.5 516.58L125 516L125.5 516.37L126 516.61L126.5 516.17L127 516.69L127.5 516.63L128 516.45L128.5 516.59L129 516.27L129.5 516.48L130 516.41L130.5 516.56L131 516.7L131.5 516.7L132 516.6L132.5 516.66L133 516.62L133.5 516.26L134 516.7L134.5 516.7L135 516.7L135.5 516.57L136 516.53L136.5 516.49L137 516.52L137.5 516.32L138 516.51L138.5 516.7L139 516.43L139.5 516.54L140 516.57L140.5 516.26L141 515.78L141.5 515.72L142 516.63L142.5 516.65L143 516.59L143.5 516.7L144 516.7L144.5 516.7L145 516.68L145.5 516.7L146 516.03L146.5 516.52L147 516.46L147.5 516.7L148 516.7L148.5 516.51L149 516.68L149.5 516.7L150 516.7L150.5 516.39L151 516.36L151.5 516.4L152 516.63L152.5 516.68L153 516.53L153.5 516.53L154 516.32L154.5 516.04L155 516.5L155.5 516.43L156 516.63L156.5 516.7L157 516.22L157.5 516.7L158 516.7L158.5 516.51L159 516.66L159.5 516.7L160 516.57L160.5 516.66L161 516.69L161.5 516.65L162 515.59L162.5 516.33L163 515.33L163.5 516.56L164 516.7L164.5 516.67L165 516.62L165.5 516.18L166 516.06L166.5 516.61L167 516.64L167.5 515.69L168 516.28L168.5 516.7L169 516.54L169.5 516.7L170 516.7L170.5 516.42L171 516.7L171.5 516.7L172 516.52L172.5 516.7L173 516.49L173.5 516.7L174 516.7L174.5 516.61L175 516.64L175.5 516.7L176 516.08L176.5 516.55L177 516.7L177.5 516.7L178 516.59L178.5 516.65L179 516.4L179.5 515.9L180 516.4L180.5 516.62L181 516.68L181.5 516.52L182 516.7L182.5 516.47L183 516.7L183.5 516.7L184 516.66L184.5 515.75L185 516.7L185.5 516.26L186 516.69L186.5 516.7L187 516.7L187.5 515.52L188 515.98L188.5 516.65L189 516.52L189.5 516.28L190 516.21L190.5 516L191 515.78L191.5 516.54L192 516.65L192.5 516.06L193 516.56L193.5 516.7L194 516.7L194.5 516.32L195 516.52L195.5 516.64L196 516.58L196.5 516.27L197 515.54L197.5 516.36L198 516.63L198.5 516.68L199 516.69L199.5 516.67L200 516.08L200.5 516.37L201 515.55L201.5 514.28L202 516.28L202.5 514.7L203 515.75L203.5 516.43L204 516.62L204.5 516.61L205 516.51L205.5 516.04L206 515.3L206.5 516.46L207 516.63L207.5 516.62L208 516.54L208.5 516.6L209 516.36L209.5 515.18L210 516.14L210.5 516.54L211 516.51L211.5 516.29L212 516.7L212.5 515.62L213 516.4L213.5 516.43L214 516.35L214.5 516.6L215 516.7L215.5 516.7L216 516.69L216.5 516.64L217 516.43L217.5 516.38L218 516.55L218.5 516.66L219 516.22L219.5 516.28L220 516.47L220.5 516.59L221 516.69L221.5 516.42L222 516.61L222.5 515.8L223 516.61L223.5 516.33L224 516.24L224.5 516.54L225 516.69L225.5 516.01L226 516.55L226.5 516.2L227 516.64L227.5 516.52L228 516.41L228.5 516.24L229 516.69L229.5 516.7L230 516.46L230.5 516.48L231 516.14" fill="none" stroke="#151515" stroke-width="0.62" stroke-linejoin="round"/>
<path d="M43.5 516.7V507M47.5 516.7V510M49.5 516.7V512M58.5 516.7V513M61.5 516.7V511M80.5 516.7V500M86.5 516.7V505M87.5 516.7V500M91.5 516.7V506.1M100.5 516.7V512.8M118.5 516.7V512M125.5 516.7V510.9M140.5 516.7V509M179.5 516.7V510M190.5 516.7V509M196.5 516.7V507M201.5 516.7V496.5M202.5 516.7V500M205.5 516.7V505M209.5 516.7V504M217.5 516.7V514M222.5 516.7V514M226.5 516.7V514" stroke="#151515" stroke-width="0.9"/>
<line x1="80.5" y1="500" x2="80.5" y2="487.5" stroke="#151515" stroke-width="0.9" stroke-dasharray="1.4 1.1" stroke-opacity="0.75"/>
<line x1="86.5" y1="505" x2="86.5" y2="493.6" stroke="#151515" stroke-width="0.9" stroke-dasharray="1.4 1.1" stroke-opacity="0.75"/>
<path d="M43.5 554.3L43.5 554.01L44 554.16L44.5 554.14L45 554.23L45.5 554.26L46 553.94L46.5 553.78L47 554.15L47.5 552.91L48 553.94L48.5 554.19L49 554.28L49.5 554.12L50 554.3L50.5 554.26L51 554.21L51.5 554.29L52 554.12L52.5 554.26L53 553.94L53.5 554.3L54 554.22L54.5 554.3L55 553.78L55.5 554.3L56 554.08L56.5 553.71L57 553.82L57.5 553.64L58 554.06L58.5 554.26L59 553.48L59.5 554.27L60 554.13L60.5 554.27L61 554.07L61.5 553.75L62 554.27L62.5 554.04L63 554.3L63.5 554.25L64 554.28L64.5 553.68L65 554.3L65.5 553.3L66 554.25L66.5 553.95L67 554.17L67.5 554.3L68 553.26L68.5 554.04L69 554.19L69.5 553.9L70 554.05L70.5 553.68L71 553.98L71.5 554.08L72 554.28L72.5 554.04L73 554.08L73.5 553.97L74 553.96L74.5 554.3L75 553.68L75.5 553.96L76 553.42L76.5 554.17L77 553.96L77.5 554.3L78 553.29L78.5 553.71L79 554.29L79.5 554.15L80 553.07L80.5 553.94L81 552.26L81.5 553.34L82 553.73L82.5 554.07L83 554.28L83.5 552.77L84 554.3L84.5 554.21L85 553.87L85.5 554.19L86 553.64L86.5 553.99L87 553.7L87.5 554.05L88 554.25L88.5 554.11L89 553.9L89.5 554.23L90 553.33L90.5 553.67L91 554.3L91.5 553.65L92 554.19L92.5 554.3L93 553.94L93.5 554.14L94 554.12L94.5 553.95L95 553.61L95.5 554.3L96 554.28L96.5 554.14L97 553.78L97.5 553.99L98 553.83L98.5 554.13L99 554.19L99.5 554.27L100 554.3L100.5 554.19L101 553.9L101.5 554.3L102 554.3L102.5 554.3L103 554.08L103.5 554.3L104 554.2L104.5 553.83L105 554.25L105.5 552.18L106 554.25L106.5 554.29L107 554.3L107.5 553.35L108 554.22L108.5 554.3L109 554.3L109.5 554.11L110 553.76L110.5 554.21L111 554.12L111.5 553.66L112 552.76L112.5 554.3L113 554.3L113.5 553.06L114 553.86L114.5 554.3L115 554.3L115.5 554.28L116 553.95L116.5 554.3L117 554.09L117.5 554.3L118 554.25L118.5 554.3L119 552.4L119.5 554.23L120 554.24L120.5 554.12L121 554.3L121.5 554.01L122 554.12L122.5 554.3L123 554.12L123.5 553.84L124 554.3L124.5 554.28L125 552.74L125.5 553.96L126 554.3L126.5 554.04L127 553.81L127.5 554.3L128 553.1L128.5 554.3L129 552.7L129.5 554.3L130 553.6L130.5 554.3L131 554.23L131.5 554.2L132 553.94L132.5 554.05L133 554.3L133.5 553.71L134 553.84L134.5 554.3L135 554.26L135.5 554.21L136 553.82L136.5 554.3L137 551.13L137.5 554.06L138 553.5L138.5 554.03L139 554.17L139.5 554.3L140 553.33L140.5 554.11L141 554.3L141.5 554.3L142 554.3L142.5 553.77L143 553.69L143.5 554.28L144 554.11L144.5 554.23L145 553.45L145.5 554.01L146 554.3L146.5 554.3L147 554.24L147.5 554.13L148 554.02L148.5 553.8L149 553.95L149.5 554.3L150 554.02L150.5 554.17L151 553.85L151.5 553.86L152 554L152.5 554.3L153 553.88L153.5 553.3L154 553.23L154.5 553.67L155 554.27L155.5 554.27L156 554.01L156.5 553.8L157 554.04L157.5 553.54L158 553.92L158.5 554.16L159 554.22L159.5 553.56L160 553.47L160.5 554.28L161 554.02L161.5 554.28L162 554.12L162.5 554.06L163 553.57L163.5 554.26L164 553.69L164.5 554.3L165 554.27L165.5 554.27L166 554.3L166.5 554.05L167 554.08L167.5 554.13L168 554.3L168.5 554.27L169 554.19L169.5 554.03L170 554.22L170.5 553.64L171 554.27L171.5 554.1L172 554.22L172.5 553.97L173 554.3L173.5 554.16L174 553.59L174.5 554.22L175 554.2L175.5 554L176 554.3L176.5 553.38L177 554.25L177.5 554.3L178 554.06L178.5 554.18L179 553.94L179.5 554.24L180 553.74L180.5 553.21L181 553.82L181.5 552.97L182 554.07L182.5 554.18L183 553.71L183.5 554.19L184 554.18L184.5 554.3L185 553.92L185.5 554.3L186 554.3L186.5 553.77L187 554.19L187.5 554.01L188 554.3L188.5 554.05L189 554.3L189.5 554.3L190 554.3L190.5 554.06L191 554.21L191.5 554.28L192 553.38L192.5 553.58L193 553.03L193.5 554.18L194 554.13L194.5 554.3L195 551.84L195.5 553.99L196 553.96L196.5 554.22L197 553.67L197.5 554.3L198 553.82L198.5 554.01L199 553.74L199.5 553.35L200 554.04L200.5 553.77L201 553.18L201.5 554.11L202 553.99L202.5 554.12L203 553.66L203.5 553.95L204 554.25L204.5 554.21L205 554.27L205.5 554.21L206 553.78L206.5 554L207 554.23L207.5 554.22L208 554.24L208.5 554.29L209 554.27L209.5 553.88L210 554.3L210.5 554.3L211 554.05L211.5 553.83L212 554.03L212.5 553.84L213 554.3L213.5 554.3L214 554.01L214.5 553.36L215 554.27L215.5 554.12L216 553.95L216.5 554.22L217 554.22L217.5 553.99L218 553.79L218.5 553.59L219 553.27L219.5 554.19L220 554.24L220.5 554.13L221 554.3L221.5 554.16L222 554.25L222.5 554.17L223 554.16L223.5 553.57L224 554.3L224.5 554.2L225 554.08L225.5 553.87L226 553.57L226.5 554.3L227 554.2L227.5 554.3L228 554.27L228.5 554.3L229 554.3L229.5 553.96L230 554.02L230.5 554.25L231 553.85L231 554.3Z" fill="#6a6a6a" fill-opacity="0.45"/>
<path d="M43.5 554.01L44 554.16L44.5 554.14L45 554.23L45.5 554.26L46 553.94L46.5 553.78L47 554.15L47.5 552.91L48 553.94L48.5 554.19L49 554.28L49.5 554.12L50 554.3L50.5 554.26L51 554.21L51.5 554.29L52 554.12L52.5 554.26L53 553.94L53.5 554.3L54 554.22L54.5 554.3L55 553.78L55.5 554.3L56 554.08L56.5 553.71L57 553.82L57.5 553.64L58 554.06L58.5 554.26L59 553.48L59.5 554.27L60 554.13L60.5 554.27L61 554.07L61.5 553.75L62 554.27L62.5 554.04L63 554.3L63.5 554.25L64 554.28L64.5 553.68L65 554.3L65.5 553.3L66 554.25L66.5 553.95L67 554.17L67.5 554.3L68 553.26L68.5 554.04L69 554.19L69.5 553.9L70 554.05L70.5 553.68L71 553.98L71.5 554.08L72 554.28L72.5 554.04L73 554.08L73.5 553.97L74 553.96L74.5 554.3L75 553.68L75.5 553.96L76 553.42L76.5 554.17L77 553.96L77.5 554.3L78 553.29L78.5 553.71L79 554.29L79.5 554.15L80 553.07L80.5 553.94L81 552.26L81.5 553.34L82 553.73L82.5 554.07L83 554.28L83.5 552.77L84 554.3L84.5 554.21L85 553.87L85.5 554.19L86 553.64L86.5 553.99L87 553.7L87.5 554.05L88 554.25L88.5 554.11L89 553.9L89.5 554.23L90 553.33L90.5 553.67L91 554.3L91.5 553.65L92 554.19L92.5 554.3L93 553.94L93.5 554.14L94 554.12L94.5 553.95L95 553.61L95.5 554.3L96 554.28L96.5 554.14L97 553.78L97.5 553.99L98 553.83L98.5 554.13L99 554.19L99.5 554.27L100 554.3L100.5 554.19L101 553.9L101.5 554.3L102 554.3L102.5 554.3L103 554.08L103.5 554.3L104 554.2L104.5 553.83L105 554.25L105.5 552.18L106 554.25L106.5 554.29L107 554.3L107.5 553.35L108 554.22L108.5 554.3L109 554.3L109.5 554.11L110 553.76L110.5 554.21L111 554.12L111.5 553.66L112 552.76L112.5 554.3L113 554.3L113.5 553.06L114 553.86L114.5 554.3L115 554.3L115.5 554.28L116 553.95L116.5 554.3L117 554.09L117.5 554.3L118 554.25L118.5 554.3L119 552.4L119.5 554.23L120 554.24L120.5 554.12L121 554.3L121.5 554.01L122 554.12L122.5 554.3L123 554.12L123.5 553.84L124 554.3L124.5 554.28L125 552.74L125.5 553.96L126 554.3L126.5 554.04L127 553.81L127.5 554.3L128 553.1L128.5 554.3L129 552.7L129.5 554.3L130 553.6L130.5 554.3L131 554.23L131.5 554.2L132 553.94L132.5 554.05L133 554.3L133.5 553.71L134 553.84L134.5 554.3L135 554.26L135.5 554.21L136 553.82L136.5 554.3L137 551.13L137.5 554.06L138 553.5L138.5 554.03L139 554.17L139.5 554.3L140 553.33L140.5 554.11L141 554.3L141.5 554.3L142 554.3L142.5 553.77L143 553.69L143.5 554.28L144 554.11L144.5 554.23L145 553.45L145.5 554.01L146 554.3L146.5 554.3L147 554.24L147.5 554.13L148 554.02L148.5 553.8L149 553.95L149.5 554.3L150 554.02L150.5 554.17L151 553.85L151.5 553.86L152 554L152.5 554.3L153 553.88L153.5 553.3L154 553.23L154.5 553.67L155 554.27L155.5 554.27L156 554.01L156.5 553.8L157 554.04L157.5 553.54L158 553.92L158.5 554.16L159 554.22L159.5 553.56L160 553.47L160.5 554.28L161 554.02L161.5 554.28L162 554.12L162.5 554.06L163 553.57L163.5 554.26L164 553.69L164.5 554.3L165 554.27L165.5 554.27L166 554.3L166.5 554.05L167 554.08L167.5 554.13L168 554.3L168.5 554.27L169 554.19L169.5 554.03L170 554.22L170.5 553.64L171 554.27L171.5 554.1L172 554.22L172.5 553.97L173 554.3L173.5 554.16L174 553.59L174.5 554.22L175 554.2L175.5 554L176 554.3L176.5 553.38L177 554.25L177.5 554.3L178 554.06L178.5 554.18L179 553.94L179.5 554.24L180 553.74L180.5 553.21L181 553.82L181.5 552.97L182 554.07L182.5 554.18L183 553.71L183.5 554.19L184 554.18L184.5 554.3L185 553.92L185.5 554.3L186 554.3L186.5 553.77L187 554.19L187.5 554.01L188 554.3L188.5 554.05L189 554.3L189.5 554.3L190 554.3L190.5 554.06L191 554.21L191.5 554.28L192 553.38L192.5 553.58L193 553.03L193.5 554.18L194 554.13L194.5 554.3L195 551.84L195.5 553.99L196 553.96L196.5 554.22L197 553.67L197.5 554.3L198 553.82L198.5 554.01L199 553.74L199.5 553.35L200 554.04L200.5 553.77L201 553.18L201.5 554.11L202 553.99L202.5 554.12L203 553.66L203.5 553.95L204 554.25L204.5 554.21L205 554.27L205.5 554.21L206 553.78L206.5 554L207 554.23L207.5 554.22L208 554.24L208.5 554.29L209 554.27L209.5 553.88L210 554.3L210.5 554.3L211 554.05L211.5 553.83L212 554.03L212.5 553.84L213 554.3L213.5 554.3L214 554.01L214.5 553.36L215 554.27L215.5 554.12L216 553.95L216.5 554.22L217 554.22L217.5 553.99L218 553.79L218.5 553.59L219 553.27L219.5 554.19L220 554.24L220.5 554.13L221 554.3L221.5 554.16L222 554.25L222.5 554.17L223 554.16L223.5 553.57L224 554.3L224.5 554.2L225 554.08L225.5 553.87L226 553.57L226.5 554.3L227 554.2L227.5 554.3L228 554.27L228.5 554.3L229 554.3L229.5 553.96L230 554.02L230.5 554.25L231 553.85" fill="none" stroke="#6a6a6a" stroke-width="0.55" stroke-linejoin="round"/>
<path d="M81.5 554.3V537.3M86.5 554.3V548.8M88.5 554.3V551M200.5 554.3V545M206.5 554.3V550M46.5 554.3V550M203.5 554.3V549" stroke="#6a6a6a" stroke-width="0.9"/>
<path d="M43.5 591.3L43.5 590.9L44 590.24L44.5 590.62L45 591.25L45.5 591.3L46 591.26L46.5 590.85L47 591.25L47.5 591.06L48 590.48L48.5 591.11L49 591.2L49.5 591.2L50 591.04L50.5 591.21L51 590.59L51.5 591.3L52 591.05L52.5 591.15L53 591.11L53.5 591.3L54 590.47L54.5 590.97L55 591.17L55.5 591.14L56 589.88L56.5 591.3L57 591.3L57.5 591.28L58 590.75L58.5 590.52L59 590.12L59.5 590.74L60 591.14L60.5 590.4L61 591.2L61.5 591.29L62 591.02L62.5 590.3L63 590.47L63.5 591.25L64 591.07L64.5 591.12L65 590.93L65.5 591.26L66 591.25L66.5 591.3L67 591.03L67.5 591.03L68 591.3L68.5 591.3L69 590.87L69.5 590.95L70 591.24L70.5 591.22L71 590.88L71.5 591.3L72 590.3L72.5 591.26L73 590.71L73.5 591.26L74 591.27L74.5 589.08L75 590.44L75.5 591.3L76 591.11L76.5 591.14L77 591.07L77.5 591.3L78 591.22L78.5 591.18L79 591.08L79.5 590.44L80 591.21L80.5 590.73L81 589.58L81.5 590.49L82 589.74L82.5 591.2L83 590.25L83.5 590.99L84 591.24L84.5 591.29L85 591.23L85.5 591.16L86 590.5L86.5 590.35L87 591.19L87.5 591.18L88 590.82L88.5 591.21L89 590.66L89.5 590.84L90 590.63L90.5 591.14L91 591.22L91.5 591.05L92 591.09L92.5 590.94L93 590.88L93.5 591.3L94 591.28L94.5 591.01L95 591.29L95.5 590.71L96 591.11L96.5 591.18L97 591.08L97.5 591.26L98 591.28L98.5 591.3L99 591.01L99.5 590.38L100 590.85L100.5 591.3L101 590.82L101.5 591.16L102 591.2L102.5 591.1L103 591.12L103.5 590.66L104 590.89L104.5 591.22L105 591.27L105.5 590.79L106 591.09L106.5 591.3L107 591.2L107.5 590.72L108 591.06L108.5 591.3L109 591.3L109.5 591.2L110 591.3L110.5 590.87L111 590.12L111.5 591.3L112 591.3L112.5 591.09L113 591.3L113.5 591.27L114 591.3L114.5 590.66L115 590.23L115.5 591.01L116 590.91L116.5 591.3L117 591.24L117.5 591.24L118 591.3L118.5 591.3L119 590.97L119.5 590.7L120 590.59L120.5 591.08L121 591.22L121.5 591.3L122 591.24L122.5 591.28L123 591.3L123.5 591.3L124 590.56L124.5 590.92L125 591.25L125.5 590.93L126 591.28L126.5 590.95L127 591.3L127.5 591.17L128 590.93L128.5 591.3L129 591.24L129.5 591.09L130 591.3L130.5 590.91L131 590.09L131.5 591.23L132 590.91L132.5 590.18L133 589.11L133.5 591L134 590.71L134.5 590.36L135 590.92L135.5 590.03L136 591.29L136.5 591.08L137 590.83L137.5 591.18L138 591.26L138.5 591.22L139 591.25L139.5 591.26L140 591.3L140.5 591.07L141 590.6L141.5 590.87L142 591.18L142.5 590.84L143 591.3L143.5 591.3L144 591.27L144.5 590.72L145 591.24L145.5 591.23L146 591.22L146.5 591.3L147 590.79L147.5 591.16L148 591.3L148.5 590.65L149 591.22L149.5 591.24L150 591.22L150.5 591.13L151 590.91L151.5 591.15L152 591.3L152.5 591.08L153 591.09L153.5 590.74L154 591.3L154.5 590.97L155 591.07L155.5 591.08L156 590.81L156.5 591.15L157 590.97L157.5 591.3L158 591.3L158.5 591.24L159 591.1L159.5 591.2L160 590.49L160.5 590.94L161 591.3L161.5 591.3L162 590.85L162.5 590.91L163 591.3L163.5 591.3L164 591.3L164.5 591.25L165 591.27L165.5 591.1L166 591.26L166.5 591.22L167 591.3L167.5 590.33L168 591.18L168.5 591.25L169 590.88L169.5 591.28L170 591.29L170.5 590.6L171 591.06L171.5 591.26L172 591.3L172.5 591.01L173 591.3L173.5 591.01L174 590.56L174.5 591.19L175 591.2L175.5 591.01L176 591.2L176.5 591.21L177 590.66L177.5 591.24L178 591.02L178.5 591.25L179 590.66L179.5 590.24L180 591.11L180.5 591.3L181 591.3L181.5 591.3L182 591.23L182.5 591.22L183 591.06L183.5 591.2L184 590.73L184.5 590.48L185 591.3L185.5 591.29L186 591.3L186.5 590.97L187 590.84L187.5 591.22L188 590.93L188.5 590.96L189 590.83L189.5 591.12L190 590.69L190.5 590.32L191 590.72L191.5 591.29L192 591.26L192.5 591.3L193 591.3L193.5 591.28L194 590.95L194.5 591.07L195 590.61L195.5 591.13L196 591.3L196.5 591.16L197 591.23L197.5 590.9L198 591.03L198.5 590.96L199 591.07L199.5 591.27L200 590.63L200.5 590.92L201 590.5L201.5 591.16L202 590.84L202.5 591.25L203 591.12L203.5 590.66L204 590.92L204.5 591.25L205 591.18L205.5 590.68L206 588L206.5 590.68L207 590.66L207.5 591.12L208 591.1L208.5 590.8L209 590.54L209.5 590.94L210 591.2L210.5 591.25L211 591.03L211.5 591.04L212 591.29L212.5 591.21L213 591.3L213.5 591.04L214 591.3L214.5 591.03L215 589.76L215.5 591.3L216 590.92L216.5 590.65L217 591.17L217.5 591.3L218 591.3L218.5 590.63L219 591.22L219.5 591.3L220 591.24L220.5 590.95L221 591.3L221.5 591.29L222 591.12L222.5 591.3L223 590.9L223.5 591.07L224 590.66L224.5 590.91L225 591.26L225.5 590.85L226 591.14L226.5 591.3L227 591.24L227.5 591L228 591.23L228.5 591.3L229 591L229.5 590.53L230 591.3L230.5 591.29L231 591.2L231 591.3Z" fill="#151515" fill-opacity="0.6"/>
<path d="M43.5 590.9L44 590.24L44.5 590.62L45 591.25L45.5 591.3L46 591.26L46.5 590.85L47 591.25L47.5 591.06L48 590.48L48.5 591.11L49 591.2L49.5 591.2L50 591.04L50.5 591.21L51 590.59L51.5 591.3L52 591.05L52.5 591.15L53 591.11L53.5 591.3L54 590.47L54.5 590.97L55 591.17L55.5 591.14L56 589.88L56.5 591.3L57 591.3L57.5 591.28L58 590.75L58.5 590.52L59 590.12L59.5 590.74L60 591.14L60.5 590.4L61 591.2L61.5 591.29L62 591.02L62.5 590.3L63 590.47L63.5 591.25L64 591.07L64.5 591.12L65 590.93L65.5 591.26L66 591.25L66.5 591.3L67 591.03L67.5 591.03L68 591.3L68.5 591.3L69 590.87L69.5 590.95L70 591.24L70.5 591.22L71 590.88L71.5 591.3L72 590.3L72.5 591.26L73 590.71L73.5 591.26L74 591.27L74.5 589.08L75 590.44L75.5 591.3L76 591.11L76.5 591.14L77 591.07L77.5 591.3L78 591.22L78.5 591.18L79 591.08L79.5 590.44L80 591.21L80.5 590.73L81 589.58L81.5 590.49L82 589.74L82.5 591.2L83 590.25L83.5 590.99L84 591.24L84.5 591.29L85 591.23L85.5 591.16L86 590.5L86.5 590.35L87 591.19L87.5 591.18L88 590.82L88.5 591.21L89 590.66L89.5 590.84L90 590.63L90.5 591.14L91 591.22L91.5 591.05L92 591.09L92.5 590.94L93 590.88L93.5 591.3L94 591.28L94.5 591.01L95 591.29L95.5 590.71L96 591.11L96.5 591.18L97 591.08L97.5 591.26L98 591.28L98.5 591.3L99 591.01L99.5 590.38L100 590.85L100.5 591.3L101 590.82L101.5 591.16L102 591.2L102.5 591.1L103 591.12L103.5 590.66L104 590.89L104.5 591.22L105 591.27L105.5 590.79L106 591.09L106.5 591.3L107 591.2L107.5 590.72L108 591.06L108.5 591.3L109 591.3L109.5 591.2L110 591.3L110.5 590.87L111 590.12L111.5 591.3L112 591.3L112.5 591.09L113 591.3L113.5 591.27L114 591.3L114.5 590.66L115 590.23L115.5 591.01L116 590.91L116.5 591.3L117 591.24L117.5 591.24L118 591.3L118.5 591.3L119 590.97L119.5 590.7L120 590.59L120.5 591.08L121 591.22L121.5 591.3L122 591.24L122.5 591.28L123 591.3L123.5 591.3L124 590.56L124.5 590.92L125 591.25L125.5 590.93L126 591.28L126.5 590.95L127 591.3L127.5 591.17L128 590.93L128.5 591.3L129 591.24L129.5 591.09L130 591.3L130.5 590.91L131 590.09L131.5 591.23L132 590.91L132.5 590.18L133 589.11L133.5 591L134 590.71L134.5 590.36L135 590.92L135.5 590.03L136 591.29L136.5 591.08L137 590.83L137.5 591.18L138 591.26L138.5 591.22L139 591.25L139.5 591.26L140 591.3L140.5 591.07L141 590.6L141.5 590.87L142 591.18L142.5 590.84L143 591.3L143.5 591.3L144 591.27L144.5 590.72L145 591.24L145.5 591.23L146 591.22L146.5 591.3L147 590.79L147.5 591.16L148 591.3L148.5 590.65L149 591.22L149.5 591.24L150 591.22L150.5 591.13L151 590.91L151.5 591.15L152 591.3L152.5 591.08L153 591.09L153.5 590.74L154 591.3L154.5 590.97L155 591.07L155.5 591.08L156 590.81L156.5 591.15L157 590.97L157.5 591.3L158 591.3L158.5 591.24L159 591.1L159.5 591.2L160 590.49L160.5 590.94L161 591.3L161.5 591.3L162 590.85L162.5 590.91L163 591.3L163.5 591.3L164 591.3L164.5 591.25L165 591.27L165.5 591.1L166 591.26L166.5 591.22L167 591.3L167.5 590.33L168 591.18L168.5 591.25L169 590.88L169.5 591.28L170 591.29L170.5 590.6L171 591.06L171.5 591.26L172 591.3L172.5 591.01L173 591.3L173.5 591.01L174 590.56L174.5 591.19L175 591.2L175.5 591.01L176 591.2L176.5 591.21L177 590.66L177.5 591.24L178 591.02L178.5 591.25L179 590.66L179.5 590.24L180 591.11L180.5 591.3L181 591.3L181.5 591.3L182 591.23L182.5 591.22L183 591.06L183.5 591.2L184 590.73L184.5 590.48L185 591.3L185.5 591.29L186 591.3L186.5 590.97L187 590.84L187.5 591.22L188 590.93L188.5 590.96L189 590.83L189.5 591.12L190 590.69L190.5 590.32L191 590.72L191.5 591.29L192 591.26L192.5 591.3L193 591.3L193.5 591.28L194 590.95L194.5 591.07L195 590.61L195.5 591.13L196 591.3L196.5 591.16L197 591.23L197.5 590.9L198 591.03L198.5 590.96L199 591.07L199.5 591.27L200 590.63L200.5 590.92L201 590.5L201.5 591.16L202 590.84L202.5 591.25L203 591.12L203.5 590.66L204 590.92L204.5 591.25L205 591.18L205.5 590.68L206 588L206.5 590.68L207 590.66L207.5 591.12L208 591.1L208.5 590.8L209 590.54L209.5 590.94L210 591.2L210.5 591.25L211 591.03L211.5 591.04L212 591.29L212.5 591.21L213 591.3L213.5 591.04L214 591.3L214.5 591.03L215 589.76L215.5 591.3L216 590.92L216.5 590.65L217 591.17L217.5 591.3L218 591.3L218.5 590.63L219 591.22L219.5 591.3L220 591.24L220.5 590.95L221 591.3L221.5 591.29L222 591.12L222.5 591.3L223 590.9L223.5 591.07L224 590.66L224.5 590.91L225 591.26L225.5 590.85L226 591.14L226.5 591.3L227 591.24L227.5 591L228 591.23L228.5 591.3L229 591L229.5 590.53L230 591.3L230.5 591.29L231 591.2" fill="none" stroke="#151515" stroke-width="0.62" stroke-linejoin="round"/>
<path d="M59.5 591.3V581.5M81.5 591.3V577M86.5 591.3V584.6M90.5 591.3V588M190.5 591.3V586.2M200.5 591.3V584.6M203.5 591.3V586M209.5 591.3V585M43.5 591.3V588" stroke="#151515" stroke-width="0.9"/>
<text x="111.3" y="601.4" font-size="6.3" fill="#4a6a50" textLength="25.1" lengthAdjust="spacingAndGlyphs">Timm8a2</text>
<line x1="137.5" y1="599.2" x2="145.3" y2="599.2" stroke="#7fa888" stroke-width="0.7"/>
<path d="M138.5 597.9L140.5 599.2L138.5 600.5ZM141.7 597.9L143.7 599.2L141.7 600.5Z" fill="#34553d"/>
<rect x="137.6" y="597.3" width="0.8" height="3.8" fill="#1d3a24"/>
<text x="6.9" y="16.6" font-size="11.8" font-weight="bold" fill="#000">E</text>
<rect x="299.2" y="343" width="19.4" height="5.29" fill="#2b6cb0"/>
<rect x="318.3" y="343" width="19.4" height="5.29" fill="#5aa0cf"/>
<rect x="337.4" y="343" width="19.4" height="5.29" fill="#8ec4e0"/>
<rect x="356.5" y="343" width="19.4" height="5.29" fill="#f4a582"/>
<rect x="375.6" y="343" width="19.4" height="5.29" fill="#d6604d"/>
<rect x="394.7" y="343" width="19.4" height="5.29" fill="#f6b092"/>
<rect x="413.8" y="343" width="19.4" height="5.29" fill="#f4a582"/>
<rect x="299.2" y="347.99" width="19.4" height="5.29" fill="#2670b4"/>
<rect x="318.3" y="347.99" width="19.4" height="5.29" fill="#3e8cc4"/>
<rect x="337.4" y="347.99" width="19.4" height="5.29" fill="#94c6e0"/>
<rect x="356.5" y="347.99" width="19.4" height="5.29" fill="#fbe3d6"/>
<rect x="375.6" y="347.99" width="19.4" height="5.29" fill="#d9664f"/>
<rect x="394.7" y="347.99" width="19.4" height="5.29" fill="#ef8e6c"/>
<rect x="413.8" y="347.99" width="19.4" height="5.29" fill="#f4a582"/>
<rect x="299.2" y="352.97" width="19.4" height="5.29" fill="#4a95c8"/>
<rect x="318.3" y="352.97" width="19.4" height="5.29" fill="#4590c6"/>
<rect x="337.4" y="352.97" width="19.4" height="5.29" fill="#9dcbe3"/>
<rect x="356.5" y="352.97" width="19.4" height="5.29" fill="#fbeee8"/>
<rect x="375.6" y="352.97" width="19.4" height="5.29" fill="#d96a50"/>
<rect x="394.7" y="352.97" width="19.4" height="5.29" fill="#e6eef2"/>
<rect x="413.8" y="352.97" width="19.4" height="5.29" fill="#b2182b"/>
<rect x="299.2" y="357.95" width="19.4" height="5.29" fill="#c0dcec"/>
<rect x="318.3" y="357.95" width="19.4" height="5.29" fill="#4a95c8"/>
<rect x="337.4" y="357.95" width="19.4" height="5.29" fill="#1f5fa8"/>
<rect x="356.5" y="357.95" width="19.4" height="5.29" fill="#f09a78"/>
<rect x="375.6" y="357.95" width="19.4" height="5.29" fill="#eef3f5"/>
<rect x="394.7" y="357.95" width="19.4" height="5.29" fill="#f4a582"/>
<rect x="413.8" y="357.95" width="19.4" height="5.29" fill="#d6604d"/>
<rect x="299.2" y="362.94" width="19.4" height="5.29" fill="#4590c6"/>
<rect x="318.3" y="362.94" width="19.4" height="5.29" fill="#1f64ab"/>
<rect x="337.4" y="362.94" width="19.4" height="5.29" fill="#a8d0e6"/>
<rect x="356.5" y="362.94" width="19.4" height="5.29" fill="#f4a582"/>
<rect x="375.6" y="362.94" width="19.4" height="5.29" fill="#fbe0d0"/>
<rect x="394.7" y="362.94" width="19.4" height="5.29" fill="#b2182b"/>
<rect x="413.8" y="362.94" width="19.4" height="5.29" fill="#fcdccb"/>
<rect x="299.2" y="367.93" width="19.4" height="5.29" fill="#b4d6ea"/>
<rect x="318.3" y="367.93" width="19.4" height="5.29" fill="#2065aa"/>
<rect x="337.4" y="367.93" width="19.4" height="5.29" fill="#5a9fcf"/>
<rect x="356.5" y="367.93" width="19.4" height="5.29" fill="#f9ece6"/>
<rect x="375.6" y="367.93" width="19.4" height="5.29" fill="#f4a582"/>
<rect x="394.7" y="367.93" width="19.4" height="5.29" fill="#d6604d"/>
<rect x="413.8" y="367.93" width="19.4" height="5.29" fill="#f09a78"/>
<rect x="299.2" y="372.91" width="19.4" height="5.29" fill="#4b94c8"/>
<rect x="318.3" y="372.91" width="19.4" height="5.29" fill="#4b97c9"/>
<rect x="337.4" y="372.91" width="19.4" height="5.29" fill="#5aa0cf"/>
<rect x="356.5" y="372.91" width="19.4" height="5.29" fill="#fae8e0"/>
<rect x="375.6" y="372.91" width="19.4" height="5.29" fill="#fbe0d0"/>
<rect x="394.7" y="372.91" width="19.4" height="5.29" fill="#d6604d"/>
<rect x="413.8" y="372.91" width="19.4" height="5.29" fill="#b82a30"/>
<rect x="299.2" y="377.89" width="19.4" height="5.29" fill="#154f8f"/>
<rect x="318.3" y="377.89" width="19.4" height="5.29" fill="#a5cfe6"/>
<rect x="337.4" y="377.89" width="19.4" height="5.29" fill="#8fc2df"/>
<rect x="356.5" y="377.89" width="19.4" height="5.29" fill="#d6604d"/>
<rect x="375.6" y="377.89" width="19.4" height="5.29" fill="#f09a78"/>
<rect x="394.7" y="377.89" width="19.4" height="5.29" fill="#fcd8c4"/>
<rect x="413.8" y="377.89" width="19.4" height="5.29" fill="#fbd0bc"/>
<rect x="299.2" y="382.88" width="19.4" height="5.29" fill="#1d5ea6"/>
<rect x="318.3" y="382.88" width="19.4" height="5.29" fill="#a8d0e6"/>
<rect x="337.4" y="382.88" width="19.4" height="5.29" fill="#95c6e0"/>
<rect x="356.5" y="382.88" width="19.4" height="5.29" fill="#c0303a"/>
<rect x="375.6" y="382.88" width="19.4" height="5.29" fill="#faeee8"/>
<rect x="394.7" y="382.88" width="19.4" height="5.29" fill="#f7bc9f"/>
<rect x="413.8" y="382.88" width="19.4" height="5.29" fill="#f4a582"/>
<rect x="299.2" y="387.87" width="19.4" height="5.29" fill="#3a86c0"/>
<rect x="318.3" y="387.87" width="19.4" height="5.29" fill="#3a86c0"/>
<rect x="337.4" y="387.87" width="19.4" height="5.29" fill="#8fc2df"/>
<rect x="356.5" y="387.87" width="19.4" height="5.29" fill="#d96a50"/>
<rect x="375.6" y="387.87" width="19.4" height="5.29" fill="#f4a582"/>
<rect x="394.7" y="387.87" width="19.4" height="5.29" fill="#fcd4c0"/>
<rect x="413.8" y="387.87" width="19.4" height="5.29" fill="#ee9070"/>
<rect x="299.2" y="392.85" width="19.4" height="5.29" fill="#94c6e0"/>
<rect x="318.3" y="392.85" width="19.4" height="5.29" fill="#3a86c0"/>
<rect x="337.4" y="392.85" width="19.4" height="5.29" fill="#4590c6"/>
<rect x="356.5" y="392.85" width="19.4" height="5.29" fill="#fbe6dc"/>
<rect x="375.6" y="392.85" width="19.4" height="5.29" fill="#c2323e"/>
<rect x="394.7" y="392.85" width="19.4" height="5.29" fill="#f4b090"/>
<rect x="413.8" y="392.85" width="19.4" height="5.29" fill="#f4a582"/>
<rect x="299.2" y="397.83" width="19.4" height="5.29" fill="#3a86c0"/>
<rect x="318.3" y="397.83" width="19.4" height="5.29" fill="#3a86c0"/>
<rect x="337.4" y="397.83" width="19.4" height="5.29" fill="#d1e5f0"/>
<rect x="356.5" y="397.83" width="19.4" height="5.29" fill="#f4a582"/>
<rect x="375.6" y="397.83" width="19.4" height="5.29" fill="#c2323e"/>
<rect x="394.7" y="397.83" width="19.4" height="5.29" fill="#f4aa88"/>
<rect x="413.8" y="397.83" width="19.4" height="5.29" fill="#fbeee6"/>
<rect x="299.2" y="402.82" width="19.4" height="5.29" fill="#5aa0cf"/>
<rect x="318.3" y="402.82" width="19.4" height="5.29" fill="#6aaad4"/>
<rect x="337.4" y="402.82" width="19.4" height="5.29" fill="#174f8f"/>
<rect x="356.5" y="402.82" width="19.4" height="5.29" fill="#e8806a"/>
<rect x="375.6" y="402.82" width="19.4" height="5.29" fill="#f6b096"/>
<rect x="394.7" y="402.82" width="19.4" height="5.29" fill="#e07a60"/>
<rect x="413.8" y="402.82" width="19.4" height="5.29" fill="#f4a582"/>
<rect x="299.2" y="407.81" width="19.4" height="5.29" fill="#f4a582"/>
<rect x="318.3" y="407.81" width="19.4" height="5.29" fill="#f4a582"/>
<rect x="337.4" y="407.81" width="19.4" height="5.29" fill="#b2182b"/>
<rect x="356.5" y="407.81" width="19.4" height="5.29" fill="#94c6e0"/>
<rect x="375.6" y="407.81" width="19.4" height="5.29" fill="#3a86c0"/>
<rect x="394.7" y="407.81" width="19.4" height="5.29" fill="#6aaad4"/>
<rect x="413.8" y="407.81" width="19.4" height="5.29" fill="#7fb8da"/>
<rect x="299.2" y="412.79" width="19.4" height="5.29" fill="#dd7255"/>
<rect x="318.3" y="412.79" width="19.4" height="5.29" fill="#f4a582"/>
<rect x="337.4" y="412.79" width="19.4" height="5.29" fill="#d6604d"/>
<rect x="356.5" y="412.79" width="19.4" height="5.29" fill="#eef4f8"/>
<rect x="375.6" y="412.79" width="19.4" height="5.29" fill="#3a86c0"/>
<rect x="394.7" y="412.79" width="19.4" height="5.29" fill="#3a86c0"/>
<rect x="413.8" y="412.79" width="19.4" height="5.29" fill="#7fb8da"/>
<rect x="299.2" y="417.77" width="19.4" height="5.29" fill="#f6ae8c"/>
<rect x="318.3" y="417.77" width="19.4" height="5.29" fill="#a50f26"/>
<rect x="337.4" y="417.77" width="19.4" height="5.29" fill="#fbd0bc"/>
<rect x="356.5" y="417.77" width="19.4" height="5.29" fill="#94c6e0"/>
<rect x="375.6" y="417.77" width="19.4" height="5.29" fill="#3a86c0"/>
<rect x="394.7" y="417.77" width="19.4" height="5.29" fill="#7fb8da"/>
<rect x="413.8" y="417.77" width="19.4" height="5.29" fill="#7fb8da"/>
<rect x="299.2" y="422.76" width="19.4" height="5.29" fill="#3a86c0"/>
<rect x="318.3" y="422.76" width="19.4" height="5.29" fill="#3a86c0"/>
<rect x="337.4" y="422.76" width="19.4" height="5.29" fill="#6aaad4"/>
<rect x="356.5" y="422.76" width="19.4" height="5.29" fill="#f4a582"/>
<rect x="375.6" y="422.76" width="19.4" height="5.29" fill="#f6b096"/>
<rect x="394.7" y="422.76" width="19.4" height="5.29" fill="#d6604d"/>
<rect x="413.8" y="422.76" width="19.4" height="5.29" fill="#f09a78"/>
<rect x="299.2" y="427.75" width="19.4" height="5.29" fill="#3a86c0"/>
<rect x="318.3" y="427.75" width="19.4" height="5.29" fill="#5aa0cf"/>
<rect x="337.4" y="427.75" width="19.4" height="5.29" fill="#7fb8da"/>
<rect x="356.5" y="427.75" width="19.4" height="5.29" fill="#f4a582"/>
<rect x="375.6" y="427.75" width="19.4" height="5.29" fill="#fbd0bc"/>
<rect x="394.7" y="427.75" width="19.4" height="5.29" fill="#d6604d"/>
<rect x="413.8" y="427.75" width="19.4" height="5.29" fill="#f4a582"/>
<rect x="299.2" y="432.73" width="19.4" height="5.29" fill="#3a86c0"/>
<rect x="318.3" y="432.73" width="19.4" height="5.29" fill="#3a86c0"/>
<rect x="337.4" y="432.73" width="19.4" height="5.29" fill="#94c6e0"/>
<rect x="356.5" y="432.73" width="19.4" height="5.29" fill="#f6b096"/>
<rect x="375.6" y="432.73" width="19.4" height="5.29" fill="#e07a60"/>
<rect x="394.7" y="432.73" width="19.4" height="5.29" fill="#d6604d"/>
<rect x="413.8" y="432.73" width="19.4" height="5.29" fill="#fbd0bc"/>
<rect x="299.2" y="437.72" width="19.4" height="5.29" fill="#2a74b5"/>
<rect x="318.3" y="437.72" width="19.4" height="5.29" fill="#7fb8da"/>
<rect x="337.4" y="437.72" width="19.4" height="5.29" fill="#94c6e0"/>
<rect x="356.5" y="437.72" width="19.4" height="5.29" fill="#fbd7c4"/>
<rect x="375.6" y="437.72" width="19.4" height="5.29" fill="#c0303a"/>
<rect x="394.7" y="437.72" width="19.4" height="5.29" fill="#fcdccb"/>
<rect x="413.8" y="437.72" width="19.4" height="5.29" fill="#f4a582"/>
<rect x="299.2" y="442.7" width="19.4" height="5.29" fill="#2a70b2"/>
<rect x="318.3" y="442.7" width="19.4" height="5.29" fill="#a0cce4"/>
<rect x="337.4" y="442.7" width="19.4" height="5.29" fill="#5aa0cf"/>
<rect x="356.5" y="442.7" width="19.4" height="5.29" fill="#e8806a"/>
<rect x="375.6" y="442.7" width="19.4" height="5.29" fill="#f4a582"/>
<rect x="394.7" y="442.7" width="19.4" height="5.29" fill="#fbd7c4"/>
<rect x="413.8" y="442.7" width="19.4" height="5.29" fill="#f09a78"/>
<rect x="299.2" y="447.69" width="19.4" height="5.29" fill="#5aa0cf"/>
<rect x="318.3" y="447.69" width="19.4" height="5.29" fill="#2a74b5"/>
<rect x="337.4" y="447.69" width="19.4" height="5.29" fill="#6aaad4"/>
<rect x="356.5" y="447.69" width="19.4" height="5.29" fill="#fbeee8"/>
<rect x="375.6" y="447.69" width="19.4" height="5.29" fill="#c9404a"/>
<rect x="394.7" y="447.69" width="19.4" height="5.29" fill="#f6b096"/>
<rect x="413.8" y="447.69" width="19.4" height="5.29" fill="#e07a60"/>
<rect x="299.2" y="452.67" width="19.4" height="5.29" fill="#154f8f"/>
<rect x="318.3" y="452.67" width="19.4" height="5.29" fill="#7fb8da"/>
<rect x="337.4" y="452.67" width="19.4" height="5.29" fill="#d6e8f2"/>
<rect x="356.5" y="452.67" width="19.4" height="5.29" fill="#c0303a"/>
<rect x="375.6" y="452.67" width="19.4" height="5.29" fill="#f4a582"/>
<rect x="394.7" y="452.67" width="19.4" height="5.29" fill="#fbd0bc"/>
<rect x="413.8" y="452.67" width="19.4" height="5.29" fill="#f7f0ee"/>
<rect x="299.2" y="457.65" width="19.4" height="5.29" fill="#1e60a6"/>
<rect x="318.3" y="457.65" width="19.4" height="5.29" fill="#d6e8f2"/>
<rect x="337.4" y="457.65" width="19.4" height="5.29" fill="#5aa0cf"/>
<rect x="356.5" y="457.65" width="19.4" height="5.29" fill="#d6604d"/>
<rect x="375.6" y="457.65" width="19.4" height="5.29" fill="#c9404a"/>
<rect x="394.7" y="457.65" width="19.4" height="5.29" fill="#f3f3f3"/>
<rect x="413.8" y="457.65" width="19.4" height="5.29" fill="#fbe6dc"/>
<rect x="299.2" y="462.64" width="19.4" height="5.29" fill="#3a86c0"/>
<rect x="318.3" y="462.64" width="19.4" height="5.29" fill="#3a86c0"/>
<rect x="337.4" y="462.64" width="19.4" height="5.29" fill="#7fb8da"/>
<rect x="356.5" y="462.64" width="19.4" height="5.29" fill="#f09a78"/>
<rect x="375.6" y="462.64" width="19.4" height="5.29" fill="#f4a582"/>
<rect x="394.7" y="462.64" width="19.4" height="5.29" fill="#f4aa88"/>
<rect x="413.8" y="462.64" width="19.4" height="5.29" fill="#f4a582"/>
<rect x="299.2" y="467.62" width="19.4" height="5.29" fill="#3a86c0"/>
<rect x="318.3" y="467.62" width="19.4" height="5.29" fill="#3a86c0"/>
<rect x="337.4" y="467.62" width="19.4" height="5.29" fill="#5aa0cf"/>
<rect x="356.5" y="467.62" width="19.4" height="5.29" fill="#e07a60"/>
<rect x="375.6" y="467.62" width="19.4" height="5.29" fill="#f09a78"/>
<rect x="394.7" y="467.62" width="19.4" height="5.29" fill="#f4a582"/>
<rect x="413.8" y="467.62" width="19.4" height="5.29" fill="#f6b096"/>
<rect x="299.2" y="472.61" width="19.4" height="5.29" fill="#2a74b5"/>
<rect x="318.3" y="472.61" width="19.4" height="5.29" fill="#3a86c0"/>
<rect x="337.4" y="472.61" width="19.4" height="5.29" fill="#d1e5f0"/>
<rect x="356.5" y="472.61" width="19.4" height="5.29" fill="#fbeee8"/>
<rect x="375.6" y="472.61" width="19.4" height="5.29" fill="#f09a78"/>
<rect x="394.7" y="472.61" width="19.4" height="5.29" fill="#e07a60"/>
<rect x="413.8" y="472.61" width="19.4" height="5.29" fill="#f4a582"/>
<rect x="299.2" y="477.6" width="19.4" height="5.29" fill="#5aa0cf"/>
<rect x="318.3" y="477.6" width="19.4" height="5.29" fill="#7fb8da"/>
<rect x="337.4" y="477.6" width="19.4" height="5.29" fill="#2a74b5"/>
<rect x="356.5" y="477.6" width="19.4" height="5.29" fill="#f8f0ee"/>
<rect x="375.6" y="477.6" width="19.4" height="5.29" fill="#f6b096"/>
<rect x="394.7" y="477.6" width="19.4" height="5.29" fill="#e8806a"/>
<rect x="413.8" y="477.6" width="19.4" height="5.29" fill="#c0303a"/>
<rect x="299.2" y="482.58" width="19.4" height="5.29" fill="#2a74b5"/>
<rect x="318.3" y="482.58" width="19.4" height="5.29" fill="#7fb8da"/>
<rect x="337.4" y="482.58" width="19.4" height="5.29" fill="#94c6e0"/>
<rect x="356.5" y="482.58" width="19.4" height="5.29" fill="#f8f4f2"/>
<rect x="375.6" y="482.58" width="19.4" height="5.29" fill="#fbe6dc"/>
<rect x="394.7" y="482.58" width="19.4" height="5.29" fill="#e07a60"/>
<rect x="413.8" y="482.58" width="19.4" height="5.29" fill="#a50f26"/>
<rect x="299.2" y="487.56" width="19.4" height="5.29" fill="#7fb8da"/>
<rect x="318.3" y="487.56" width="19.4" height="5.29" fill="#1a5a9e"/>
<rect x="337.4" y="487.56" width="19.4" height="5.29" fill="#7fb8da"/>
<rect x="356.5" y="487.56" width="19.4" height="5.29" fill="#e07a60"/>
<rect x="375.6" y="487.56" width="19.4" height="5.29" fill="#f09a78"/>
<rect x="394.7" y="487.56" width="19.4" height="5.29" fill="#f4a582"/>
<rect x="413.8" y="487.56" width="19.4" height="5.29" fill="#fbeee8"/>
<rect x="299.2" y="492.55" width="19.4" height="5.29" fill="#5aa0cf"/>
<rect x="318.3" y="492.55" width="19.4" height="5.29" fill="#2a6db0"/>
<rect x="337.4" y="492.55" width="19.4" height="5.29" fill="#5aa0cf"/>
<rect x="356.5" y="492.55" width="19.4" height="5.29" fill="#fbd7c4"/>
<rect x="375.6" y="492.55" width="19.4" height="5.29" fill="#fbd7c4"/>
<rect x="394.7" y="492.55" width="19.4" height="5.29" fill="#f4a582"/>
<rect x="413.8" y="492.55" width="19.4" height="5.29" fill="#b2182b"/>
<rect x="299.2" y="497.53" width="19.4" height="5.29" fill="#5aa0cf"/>
<rect x="318.3" y="497.53" width="19.4" height="5.29" fill="#6aaad4"/>
<rect x="337.4" y="497.53" width="19.4" height="5.29" fill="#4a95c8"/>
<rect x="356.5" y="497.53" width="19.4" height="5.29" fill="#fbe0d0"/>
<rect x="375.6" y="497.53" width="19.4" height="5.29" fill="#d0504c"/>
<rect x="394.7" y="497.53" width="19.4" height="5.29" fill="#c0303a"/>
<rect x="413.8" y="497.53" width="19.4" height="5.29" fill="#fbeee8"/>
<rect x="299.2" y="502.52" width="19.4" height="5.29" fill="#5aa0cf"/>
<rect x="318.3" y="502.52" width="19.4" height="5.29" fill="#3a86c0"/>
<rect x="337.4" y="502.52" width="19.4" height="5.29" fill="#4a95c8"/>
<rect x="356.5" y="502.52" width="19.4" height="5.29" fill="#f3f0f0"/>
<rect x="375.6" y="502.52" width="19.4" height="5.29" fill="#f4a582"/>
<rect x="394.7" y="502.52" width="19.4" height="5.29" fill="#c9404a"/>
<rect x="413.8" y="502.52" width="19.4" height="5.29" fill="#f4a582"/>
<rect x="299.2" y="507.5" width="19.4" height="5.29" fill="#6aaad4"/>
<rect x="318.3" y="507.5" width="19.4" height="5.29" fill="#3a86c0"/>
<rect x="337.4" y="507.5" width="19.4" height="5.29" fill="#5aa0cf"/>
<rect x="356.5" y="507.5" width="19.4" height="5.29" fill="#f3f3f5"/>
<rect x="375.6" y="507.5" width="19.4" height="5.29" fill="#f4a582"/>
<rect x="394.7" y="507.5" width="19.4" height="5.29" fill="#f6b096"/>
<rect x="413.8" y="507.5" width="19.4" height="5.29" fill="#b2182b"/>
<rect x="299.2" y="512.49" width="19.4" height="5.29" fill="#e8806a"/>
<rect x="318.3" y="512.49" width="19.4" height="5.29" fill="#ee9070"/>
<rect x="337.4" y="512.49" width="19.4" height="5.29" fill="#dd6a55"/>
<rect x="356.5" y="512.49" width="19.4" height="5.29" fill="#eef3f6"/>
<rect x="375.6" y="512.49" width="19.4" height="5.29" fill="#7fb8da"/>
<rect x="394.7" y="512.49" width="19.4" height="5.29" fill="#2f7ab8"/>
<rect x="413.8" y="512.49" width="19.4" height="5.29" fill="#7fb8da"/>
<rect x="299.2" y="517.48" width="19.4" height="5.29" fill="#f09a78"/>
<rect x="318.3" y="517.48" width="19.4" height="5.29" fill="#d6604d"/>
<rect x="337.4" y="517.48" width="19.4" height="5.29" fill="#d6604d"/>
<rect x="356.5" y="517.48" width="19.4" height="5.29" fill="#94c6e0"/>
<rect x="375.6" y="517.48" width="19.4" height="5.29" fill="#7fb8da"/>
<rect x="394.7" y="517.48" width="19.4" height="5.29" fill="#5aa0cf"/>
<rect x="413.8" y="517.48" width="19.4" height="5.29" fill="#7fb8da"/>
<rect x="299.2" y="522.46" width="19.4" height="5.29" fill="#c9404a"/>
<rect x="318.3" y="522.46" width="19.4" height="5.29" fill="#d0504c"/>
<rect x="337.4" y="522.46" width="19.4" height="5.29" fill="#f9c9b0"/>
<rect x="356.5" y="522.46" width="19.4" height="5.29" fill="#6aaad4"/>
<rect x="375.6" y="522.46" width="19.4" height="5.29" fill="#2a74b5"/>
<rect x="394.7" y="522.46" width="19.4" height="5.29" fill="#a0cce4"/>
<rect x="413.8" y="522.46" width="19.4" height="5.29" fill="#a6cfe5"/>
<rect x="299.2" y="527.45" width="19.4" height="5.29" fill="#e07a60"/>
<rect x="318.3" y="527.45" width="19.4" height="5.29" fill="#f4a582"/>
<rect x="337.4" y="527.45" width="19.4" height="5.29" fill="#c0303a"/>
<rect x="356.5" y="527.45" width="19.4" height="5.29" fill="#d6e8f2"/>
<rect x="375.6" y="527.45" width="19.4" height="5.29" fill="#94c6e0"/>
<rect x="394.7" y="527.45" width="19.4" height="5.29" fill="#2a74b5"/>
<rect x="413.8" y="527.45" width="19.4" height="5.29" fill="#5aa0cf"/>
<rect x="299.2" y="532.43" width="19.4" height="5.29" fill="#fbe6dc"/>
<rect x="318.3" y="532.43" width="19.4" height="5.29" fill="#f4a582"/>
<rect x="337.4" y="532.43" width="19.4" height="5.29" fill="#8b0a22"/>
<rect x="356.5" y="532.43" width="19.4" height="5.29" fill="#5aa0cf"/>
<rect x="375.6" y="532.43" width="19.4" height="5.29" fill="#6aaad4"/>
<rect x="394.7" y="532.43" width="19.4" height="5.29" fill="#d6e8f2"/>
<rect x="413.8" y="532.43" width="19.4" height="5.29" fill="#7fb8da"/>
<rect x="299.2" y="537.41" width="19.4" height="5.29" fill="#c0303a"/>
<rect x="318.3" y="537.41" width="19.4" height="5.29" fill="#fbe6dc"/>
<rect x="337.4" y="537.41" width="19.4" height="5.29" fill="#c0303a"/>
<rect x="356.5" y="537.41" width="19.4" height="5.29" fill="#dde9f2"/>
<rect x="375.6" y="537.41" width="19.4" height="5.29" fill="#5aa0cf"/>
<rect x="394.7" y="537.41" width="19.4" height="5.29" fill="#6aaad4"/>
<rect x="413.8" y="537.41" width="19.4" height="5.29" fill="#5aa0cf"/>
<rect x="299.2" y="542.4" width="19.4" height="5.29" fill="#f9c9b0"/>
<rect x="318.3" y="542.4" width="19.4" height="5.29" fill="#8b0a22"/>
<rect x="337.4" y="542.4" width="19.4" height="5.29" fill="#e8806a"/>
<rect x="356.5" y="542.4" width="19.4" height="5.29" fill="#d6e8f2"/>
<rect x="375.6" y="542.4" width="19.4" height="5.29" fill="#5aa0cf"/>
<rect x="394.7" y="542.4" width="19.4" height="5.29" fill="#5aa0cf"/>
<rect x="413.8" y="542.4" width="19.4" height="5.29" fill="#5aa0cf"/>
<rect x="299.2" y="547.38" width="19.4" height="5.29" fill="#f9c9b0"/>
<rect x="318.3" y="547.38" width="19.4" height="5.29" fill="#8b0a22"/>
<rect x="337.4" y="547.38" width="19.4" height="5.29" fill="#f9c0a0"/>
<rect x="356.5" y="547.38" width="19.4" height="5.29" fill="#d6e8f2"/>
<rect x="375.6" y="547.38" width="19.4" height="5.29" fill="#f3f3f0"/>
<rect x="394.7" y="547.38" width="19.4" height="5.29" fill="#2a74b5"/>
<rect x="413.8" y="547.38" width="19.4" height="5.29" fill="#4a95c8"/>
<rect x="299.2" y="552.37" width="19.4" height="5.29" fill="#e07a60"/>
<rect x="318.3" y="552.37" width="19.4" height="5.29" fill="#e8806a"/>
<rect x="337.4" y="552.37" width="19.4" height="5.29" fill="#e8806a"/>
<rect x="356.5" y="552.37" width="19.4" height="5.29" fill="#dde9f2"/>
<rect x="375.6" y="552.37" width="19.4" height="5.29" fill="#2a74b5"/>
<rect x="394.7" y="552.37" width="19.4" height="5.29" fill="#5aa0cf"/>
<rect x="413.8" y="552.37" width="19.4" height="5.29" fill="#d6e8f2"/>
<rect x="299.2" y="557.36" width="19.4" height="5.29" fill="#d6604d"/>
<rect x="318.3" y="557.36" width="19.4" height="5.29" fill="#c9404a"/>
<rect x="337.4" y="557.36" width="19.4" height="5.29" fill="#f4a582"/>
<rect x="356.5" y="557.36" width="19.4" height="5.29" fill="#f3ebe8"/>
<rect x="375.6" y="557.36" width="19.4" height="5.29" fill="#3a86c0"/>
<rect x="394.7" y="557.36" width="19.4" height="5.29" fill="#5aa0cf"/>
<rect x="413.8" y="557.36" width="19.4" height="5.29" fill="#3a86c0"/>
<rect x="299.2" y="562.34" width="19.4" height="5.29" fill="#d0504c"/>
<rect x="318.3" y="562.34" width="19.4" height="5.29" fill="#e07a60"/>
<rect x="337.4" y="562.34" width="19.4" height="5.29" fill="#ee9070"/>
<rect x="356.5" y="562.34" width="19.4" height="5.29" fill="#a0cce4"/>
<rect x="375.6" y="562.34" width="19.4" height="5.29" fill="#3a86c0"/>
<rect x="394.7" y="562.34" width="19.4" height="5.29" fill="#a0cce4"/>
<rect x="413.8" y="562.34" width="19.4" height="5.29" fill="#2a74b5"/>
<rect x="299.2" y="567.33" width="19.4" height="5.29" fill="#a50f26"/>
<rect x="318.3" y="567.33" width="19.4" height="5.29" fill="#f4a582"/>
<rect x="337.4" y="567.33" width="19.4" height="5.29" fill="#f09a78"/>
<rect x="356.5" y="567.33" width="19.4" height="5.29" fill="#5aa0cf"/>
<rect x="375.6" y="567.33" width="19.4" height="5.29" fill="#3a86c0"/>
<rect x="394.7" y="567.33" width="19.4" height="5.29" fill="#5aa0cf"/>
<rect x="413.8" y="567.33" width="19.4" height="5.29" fill="#d6e8f2"/>
<rect x="299.2" y="572.31" width="19.4" height="5.29" fill="#2a74b5"/>
<rect x="318.3" y="572.31" width="19.4" height="5.29" fill="#f3f3f3"/>
<rect x="337.4" y="572.31" width="19.4" height="5.29" fill="#2a74b5"/>
<rect x="356.5" y="572.31" width="19.4" height="5.29" fill="#f3f0f2"/>
<rect x="375.6" y="572.31" width="19.4" height="5.29" fill="#f4a582"/>
<rect x="394.7" y="572.31" width="19.4" height="5.29" fill="#c0303a"/>
<rect x="413.8" y="572.31" width="19.4" height="5.29" fill="#f6b096"/>
<rect x="299.2" y="577.3" width="19.4" height="5.29" fill="#6aaad4"/>
<rect x="318.3" y="577.3" width="19.4" height="5.29" fill="#3a86c0"/>
<rect x="337.4" y="577.3" width="19.4" height="5.29" fill="#2a74b5"/>
<rect x="356.5" y="577.3" width="19.4" height="5.29" fill="#f09a78"/>
<rect x="375.6" y="577.3" width="19.4" height="5.29" fill="#f9c0a0"/>
<rect x="394.7" y="577.3" width="19.4" height="5.29" fill="#ef9878"/>
<rect x="413.8" y="577.3" width="19.4" height="5.29" fill="#d6604d"/>
<rect x="299.2" y="582.28" width="19.4" height="5.29" fill="#2a74b5"/>
<rect x="318.3" y="582.28" width="19.4" height="5.29" fill="#6aaad4"/>
<rect x="337.4" y="582.28" width="19.4" height="5.29" fill="#4a95c8"/>
<rect x="356.5" y="582.28" width="19.4" height="5.29" fill="#d6604d"/>
<rect x="375.6" y="582.28" width="19.4" height="5.29" fill="#f6b096"/>
<rect x="394.7" y="582.28" width="19.4" height="5.29" fill="#f6b096"/>
<rect x="413.8" y="582.28" width="19.4" height="5.29" fill="#e07a60"/>
<text x="436" y="347" font-size="5.3" fill="#1c1c1c">Havcr2(+6922)</text>
<text x="436" y="351.99" font-size="5.3" fill="#1c1c1c">Klrg1(+13304)</text>
<text x="436" y="356.97" font-size="5.3" fill="#1c1c1c">Dnmt3a(-4805)</text>
<text x="436" y="361.95" font-size="5.3" fill="#1c1c1c">Runx3(-46738)</text>
<text x="436" y="366.94" font-size="5.3" fill="#1c1c1c">Ifng(+835)</text>
<text x="436" y="371.93" font-size="5.3" fill="#1c1c1c">Runx3(-45623)</text>
<text x="436" y="376.91" font-size="5.3" fill="#1c1c1c">Ifng(+1836)</text>
<text x="436" y="381.89" font-size="5.3" fill="#1c1c1c">Entpd1(+5420)</text>
<text x="436" y="386.88" font-size="5.3" fill="#1c1c1c">Cd28(+2486)</text>
<text x="436" y="391.87" font-size="5.3" fill="#1c1c1c">Cd28(+1520)</text>
<text x="436" y="396.85" font-size="5.3" fill="#1c1c1c">Entpd1(+2395)</text>
<text x="436" y="401.83" font-size="5.3" fill="#1c1c1c">Sell(+6404)</text>
<text x="436" y="406.82" font-size="5.3" fill="#1c1c1c">Klrg1(-12306)</text>
<text x="436" y="411.81" font-size="5.3" fill="#1c1c1c">Ccr7(-15779)</text>
<text x="436" y="416.79" font-size="5.3" fill="#1c1c1c">Ccr7(-11149)</text>
<text x="436" y="421.77" font-size="5.3" fill="#1c1c1c">Runx3(+939)</text>
<text x="436" y="426.76" font-size="5.3" fill="#1c1c1c">Gzmb(+1213)</text>
<text x="436" y="431.75" font-size="5.3" fill="#1c1c1c">Havcr2(0)</text>
<text x="436" y="436.73" font-size="5.3" fill="#1c1c1c">Havcr2(-647)</text>
<text x="436" y="441.72" font-size="5.3" fill="#1c1c1c">Havcr2(+11842)</text>
<text x="436" y="446.7" font-size="5.3" fill="#1c1c1c">Klrg1(+10868)</text>
<text x="436" y="451.69" font-size="5.3" fill="#1c1c1c">Ifng(+29474)</text>
<text x="436" y="456.67" font-size="5.3" fill="#1c1c1c">Gzmb(-3764)</text>
<text x="436" y="461.65" font-size="5.3" fill="#1c1c1c">Havcr2(-7360)</text>
<text x="436" y="466.64" font-size="5.3" fill="#1c1c1c">Atf6(+13714)</text>
<text x="436" y="471.62" font-size="5.3" fill="#1c1c1c">Ifng(+2708)</text>
<text x="436" y="476.61" font-size="5.3" fill="#1c1c1c">Ifng(-36146)</text>
<text x="436" y="481.6" font-size="5.3" fill="#1c1c1c">Il10(-18996)</text>
<text x="436" y="486.58" font-size="5.3" fill="#1c1c1c">Havcr2(+2845)</text>
<text x="436" y="491.56" font-size="5.3" fill="#1c1c1c">Cox10(+41322)</text>
<text x="436" y="496.55" font-size="5.3" fill="#1c1c1c">Tox2(+29088)</text>
<text x="436" y="501.53" font-size="5.3" fill="#1c1c1c">Klrg1(-504)</text>
<text x="436" y="506.52" font-size="5.3" fill="#1c1c1c">Gzmk(-6721)</text>
<text x="436" y="511.5" font-size="5.3" fill="#1c1c1c">Batf(-38877)</text>
<text x="436" y="516.49" font-size="5.3" fill="#1c1c1c">Tcf7(-26056)</text>
<text x="436" y="521.48" font-size="5.3" fill="#1c1c1c">Ccr7(-12935)</text>
<text x="436" y="526.46" font-size="5.3" fill="#1c1c1c">Insr(0)</text>
<text x="436" y="531.45" font-size="5.3" fill="#1c1c1c">Lef1(-173054)</text>
<text x="436" y="536.43" font-size="5.3" fill="#1c1c1c">Pdcd1(+11688)</text>
<text x="436" y="541.41" font-size="5.3" fill="#1c1c1c">Ccr7(-16323)</text>
<text x="436" y="546.4" font-size="5.3" fill="#1c1c1c">Pdcd1(-22110)</text>
<text x="436" y="551.38" font-size="5.3" fill="#1c1c1c">Nr4a2(+9705)</text>
<text x="436" y="556.37" font-size="5.3" fill="#1c1c1c">Timm8a2(-33543)</text>
<text x="436" y="561.36" font-size="5.3" fill="#1c1c1c">Prdx6(-58008)</text>
<text x="436" y="566.34" font-size="5.3" fill="#1c1c1c">Insr(+31953)</text>
<text x="436" y="571.33" font-size="5.3" fill="#1c1c1c">Cd28(+66970)</text>
<text x="436" y="576.31" font-size="5.3" fill="#1c1c1c">Prdm1(-38445)</text>
<text x="436" y="581.3" font-size="5.3" fill="#1c1c1c">Gzmb(-8216)</text>
<text x="436" y="586.28" font-size="5.3" fill="#1c1c1c">Gzmb(0)</text>
<rect x="298.4" y="329.9" width="56.1" height="10.8" fill="#fcfcfc" stroke="#4a4a4a" stroke-width="1.0"/>
<text x="316.2" y="337.8" font-size="6.6" fill="#1e1e1e" textLength="22.3" lengthAdjust="spacingAndGlyphs">OT-I WT</text>
<rect x="357.2" y="329.9" width="75.4" height="10.8" fill="#fcfcfc" stroke="#4a4a4a" stroke-width="1.0"/>
<text x="376.2" y="337.8" font-size="6.6" fill="#1e1e1e" textLength="39.6" lengthAdjust="spacingAndGlyphs">OT-I E&#956;-TCL1</text>
<text x="247" y="326.9" font-size="11.2" font-weight="bold" fill="#000">F</text>
<defs><linearGradient id="lg" x1="0" y1="0" x2="0" y2="1"><stop offset="0" stop-color="#67001f"/><stop offset="0.125" stop-color="#b2182b"/><stop offset="0.25" stop-color="#d6604d"/><stop offset="0.375" stop-color="#f4a582"/><stop offset="0.5" stop-color="#f7f7f7"/><stop offset="0.625" stop-color="#92c5de"/><stop offset="0.75" stop-color="#4393c3"/><stop offset="0.875" stop-color="#2166ac"/><stop offset="1" stop-color="#053061"/></linearGradient></defs>
<rect x="492.8" y="344" width="10.1" height="59.5" fill="url(#lg)"/>
<line x1="502.6" y1="344" x2="502.6" y2="403.5" stroke="#444" stroke-width="0.6" stroke-opacity="0.6"/>
<text x="506" y="358.9" font-size="6.4" fill="#333">1</text>
<text x="505.8" y="376.2" font-size="6.4" fill="#333">0</text>
<text x="505.8" y="393" font-size="6.4" fill="#333" textLength="6.9" lengthAdjust="spacingAndGlyphs">&#8722;1</text>
<path d="M296.5 345.5H298.6M296.5 350.5H298.6M296.5 345.5V350.5M293.5 348H296.5M296.5 355.5H298.6M296.5 360.5H298.6M296.5 355.5V360.5M293.5 358H296.5M293.5 348V358M291.5 353H293.5M296.5 365.5H298.6M296.5 370.5H298.6M296.5 365.5V370.5M294.5 368H296.5M296.5 375.5H298.6M296.5 380.5H298.6M296.5 375.5V380.5M294.5 378H296.5M294.5 368V378M291.5 373H294.5M291.5 353V373M288.5 363H291.5M296.5 385.5H298.6M296.5 390.5H298.6M296.5 385.5V390.5M293.5 388H296.5M295.5 395.5H298.6M296.5 400.5H298.6M296.5 405.5H298.6M296.5 400.5V405.5M295.5 403H296.5M295.5 395.5V403M293.5 399.25H295.5M293.5 388V399.25M288.5 393.62H293.5M288.5 363V393.62M282.5 378.31H288.5M294.5 410.5H298.6M294.5 415.5H298.6M294.5 410.5V415.5M289.5 413H294.5M289.5 420.5H298.6M289.5 413V420.5M282.5 416.75H289.5M282.5 378.31V416.75M278.5 397.53H282.5M296.5 425.5H298.6M296.5 430.5H298.6M296.5 425.5V430.5M293.5 428H296.5M296.5 435.5H298.6M296.5 440.5H298.6M296.5 435.5V440.5M293.5 438H296.5M293.5 428V438M288.5 433H293.5M293.5 445.5H298.6M296.5 450.5H298.6M296.5 455.5H298.6M296.5 450.5V455.5M293.5 453H296.5M293.5 445.5V453M288.5 449.25H293.5M288.5 433V449.25M278.5 441.12H288.5M278.5 397.53V441.12M264.5 419.33H278.5M296.5 460.5H298.6M296.5 465.5H298.6M296.5 460.5V465.5M295.5 463H296.5M295.5 470.5H298.6M295.5 463V470.5M293.5 466.75H295.5M296.5 475.5H298.6M296.5 480.5H298.6M296.5 475.5V480.5M293.5 478H296.5M293.5 466.75V478M292.5 472.38H293.5M296.5 485.5H298.6M296.5 490.5H298.6M296.5 485.5V490.5M295.5 488H296.5M295.5 495.5H298.6M295.5 488V495.5M294.5 491.75H295.5M296.5 500.5H298.6M296.5 505.5H298.6M296.5 500.5V505.5M295.5 503H296.5M295.5 509.5H298.6M295.5 503V509.5M294.5 506.25H295.5M294.5 491.75V506.25M292.5 499H294.5M292.5 472.38V499M287.5 485.69H292.5M296.5 514.5H298.6M296.5 519.5H298.6M296.5 514.5V519.5M292.5 517H296.5M296.5 524.5H298.6M296.5 529.5H298.6M296.5 524.5V529.5M292.5 527H296.5M292.5 517V527M287.5 522H292.5M287.5 485.69V522M284.5 503.84H287.5M296.5 534.5H298.6M296.5 539.5H298.6M296.5 534.5V539.5M294.5 537H296.5M294.5 544.5H298.6M294.5 537V544.5M293.5 540.75H294.5M296.5 549.5H298.6M296.5 554.5H298.6M296.5 549.5V554.5M293.5 552H296.5M293.5 540.75V552M289.5 546.38H293.5M296.5 559.5H298.6M296.5 564.5H298.6M296.5 559.5V564.5M294.5 562H296.5M294.5 569.5H298.6M294.5 562V569.5M293.5 565.75H294.5M296.5 574.5H298.6M296.5 579.5H298.6M296.5 574.5V579.5M293.5 577H296.5M293.5 565.75V577M289.5 571.38H293.5M289.5 546.38V571.38M284.5 558.88H289.5M284.5 503.84V558.88M264.5 531.36H284.5M264.5 419.33V531.36M247.5 475.34H264.5M247.5 584.5H298.6M247.5 475.34V584.5" stroke="#4a4a4a" stroke-width="1.0" fill="none" stroke-linecap="square"/>
<line x1="477.1" y1="345.49" x2="484.6" y2="345.49" stroke="#d2526a" stroke-width="1.3"/>
<path d="M474.1 345.49L478.5 343.69L478.5 347.29Z" fill="#9a0c2c"/>
<line x1="479.2" y1="350.48" x2="486.7" y2="350.48" stroke="#d2526a" stroke-width="1.3"/>
<path d="M476.2 350.48L480.6 348.68L480.6 352.28Z" fill="#9a0c2c"/>
<line x1="475" y1="405.31" x2="482.5" y2="405.31" stroke="#d2526a" stroke-width="1.3"/>
<path d="M472 405.31L476.4 403.51L476.4 407.11Z" fill="#9a0c2c"/>
<line x1="473.4" y1="435.22" x2="480.9" y2="435.22" stroke="#d2526a" stroke-width="1.3"/>
<path d="M470.4 435.22L474.8 433.42L474.8 437.02Z" fill="#9a0c2c"/>
<line x1="475.9" y1="460.15" x2="483.4" y2="460.15" stroke="#d2526a" stroke-width="1.3"/>
<path d="M472.9 460.15L477.3 458.35L477.3 461.95Z" fill="#9a0c2c"/>
<line x1="472.6" y1="480.09" x2="480.1" y2="480.09" stroke="#d2526a" stroke-width="1.3"/>
<path d="M469.6 480.09L474 478.29L474 481.89Z" fill="#9a0c2c"/>
<line x1="476.7" y1="485.07" x2="484.2" y2="485.07" stroke="#d2526a" stroke-width="1.3"/>
<path d="M473.7 485.07L478.1 483.27L478.1 486.87Z" fill="#9a0c2c"/>
<line x1="474.9" y1="495.04" x2="482.4" y2="495.04" stroke="#d2526a" stroke-width="1.3"/>
<path d="M471.9 495.04L476.3 493.24L476.3 496.84Z" fill="#9a0c2c"/>
<line x1="470.8" y1="500.03" x2="478.3" y2="500.03" stroke="#d2526a" stroke-width="1.3"/>
<path d="M467.8 500.03L472.2 498.23L472.2 501.83Z" fill="#9a0c2c"/>
<line x1="473.6" y1="514.98" x2="481.1" y2="514.98" stroke="#6cb9de" stroke-width="1.3"/>
<path d="M470.6 514.98L475 513.18L475 516.78Z" fill="#1f86b8"/>
<line x1="475.3" y1="519.97" x2="482.8" y2="519.97" stroke="#6cb9de" stroke-width="1.3"/>
<path d="M472.3 519.97L476.7 518.17L476.7 521.77Z" fill="#1f86b8"/>
<line x1="456.8" y1="524.95" x2="464.3" y2="524.95" stroke="#6cb9de" stroke-width="1.3"/>
<path d="M453.8 524.95L458.2 523.15L458.2 526.75Z" fill="#1f86b8"/>
<line x1="476.7" y1="529.94" x2="484.2" y2="529.94" stroke="#6cb9de" stroke-width="1.3"/>
<path d="M473.7 529.94L478.1 528.14L478.1 531.74Z" fill="#1f86b8"/>
<line x1="475.3" y1="539.91" x2="482.8" y2="539.91" stroke="#6cb9de" stroke-width="1.3"/>
<path d="M472.3 539.91L476.7 538.11L476.7 541.71Z" fill="#1f86b8"/>
<line x1="484.5" y1="554.86" x2="492" y2="554.86" stroke="#6cb9de" stroke-width="1.3"/>
<path d="M481.5 554.86L485.9 553.06L485.9 556.66Z" fill="#1f86b8"/>
<line x1="472.4" y1="564.83" x2="479.9" y2="564.83" stroke="#6cb9de" stroke-width="1.3"/>
<path d="M469.4 564.83L473.8 563.03L473.8 566.63Z" fill="#1f86b8"/>
<rect x="0.5" y="0.5" width="519" height="608" fill="none" stroke="#5c5c5c" stroke-width="1.1"/>
</svg>
</body></html>
